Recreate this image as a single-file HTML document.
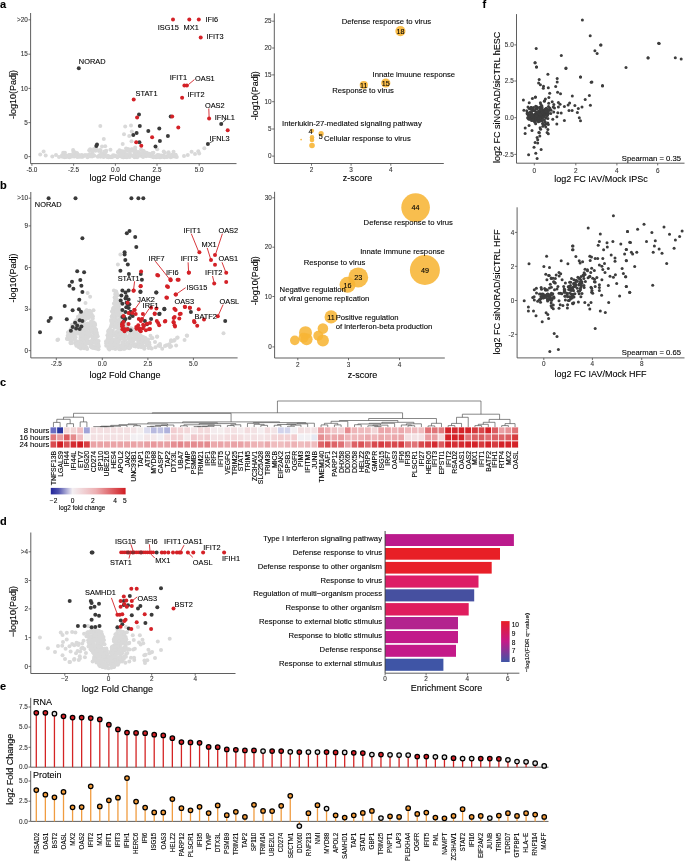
<!DOCTYPE html>
<html><head><meta charset="utf-8"><style>
html,body{margin:0;padding:0;background:#fff;overflow:hidden;width:685px;height:862px;}
svg{display:block;will-change:transform;filter:blur(0.35px);}
text{font-family:"Liberation Sans",sans-serif;}
</style></head><body>
<svg width="685" height="862" viewBox="0 0 685 862" font-family="Liberation Sans, sans-serif">
<rect width="685" height="862" fill="#fff"/>
<text x="0.00" y="8.44" font-size="11" text-anchor="start" fill="#000" stroke="#000" stroke-width="0.1" font-weight="bold">a</text>
<text x="0.00" y="189.44" font-size="11" text-anchor="start" fill="#000" stroke="#000" stroke-width="0.1" font-weight="bold">b</text>
<text x="0.00" y="385.94" font-size="11" text-anchor="start" fill="#000" stroke="#000" stroke-width="0.1" font-weight="bold">c</text>
<text x="0.00" y="525.44" font-size="11" text-anchor="start" fill="#000" stroke="#000" stroke-width="0.1" font-weight="bold">d</text>
<text x="0.00" y="690.44" font-size="11" text-anchor="start" fill="#000" stroke="#000" stroke-width="0.1" font-weight="bold">e</text>
<text x="482.50" y="7.94" font-size="11" text-anchor="start" fill="#000" stroke="#000" stroke-width="0.1" font-weight="bold">f</text>
<circle cx="40.20" cy="154.50" r="2.0" fill="#d9d9d9"/>
<circle cx="43.60" cy="151.50" r="2.0" fill="#d9d9d9"/>
<circle cx="45.70" cy="155.40" r="2.0" fill="#d9d9d9"/>
<circle cx="52.30" cy="156.60" r="2.0" fill="#d9d9d9"/>
<circle cx="56.00" cy="155.00" r="2.0" fill="#d9d9d9"/>
<circle cx="59.00" cy="157.00" r="2.0" fill="#d9d9d9"/>
<circle cx="73.10" cy="150.00" r="2.0" fill="#d9d9d9"/>
<circle cx="100.30" cy="125.90" r="2.0" fill="#d9d9d9"/>
<circle cx="125.20" cy="126.40" r="2.0" fill="#d9d9d9"/>
<circle cx="131.00" cy="125.50" r="2.0" fill="#d9d9d9"/>
<circle cx="131.80" cy="131.60" r="2.0" fill="#d9d9d9"/>
<circle cx="124.00" cy="134.30" r="2.0" fill="#d9d9d9"/>
<circle cx="129.20" cy="136.00" r="2.0" fill="#d9d9d9"/>
<circle cx="103.80" cy="139.00" r="2.0" fill="#d9d9d9"/>
<circle cx="122.70" cy="143.90" r="2.0" fill="#d9d9d9"/>
<circle cx="131.50" cy="141.30" r="2.0" fill="#d9d9d9"/>
<circle cx="102.00" cy="146.50" r="2.0" fill="#d9d9d9"/>
<circle cx="105.20" cy="146.20" r="2.0" fill="#d9d9d9"/>
<circle cx="157.20" cy="149.20" r="2.0" fill="#d9d9d9"/>
<circle cx="187.80" cy="155.00" r="2.0" fill="#d9d9d9"/>
<circle cx="191.60" cy="151.70" r="2.0" fill="#d9d9d9"/>
<circle cx="198.30" cy="151.20" r="2.0" fill="#d9d9d9"/>
<circle cx="199.20" cy="153.60" r="2.0" fill="#d9d9d9"/>
<circle cx="204.30" cy="148.30" r="2.0" fill="#d9d9d9"/>
<circle cx="195.00" cy="154.00" r="2.0" fill="#d9d9d9"/>
<circle cx="184.00" cy="156.00" r="2.0" fill="#d9d9d9"/>
<circle cx="99.56" cy="155.18" r="2.0" fill="#d9d9d9"/>
<circle cx="137.51" cy="154.98" r="2.0" fill="#d9d9d9"/>
<circle cx="124.16" cy="155.71" r="2.0" fill="#d9d9d9"/>
<circle cx="68.73" cy="156.07" r="2.0" fill="#d9d9d9"/>
<circle cx="66.35" cy="155.88" r="2.0" fill="#d9d9d9"/>
<circle cx="70.10" cy="155.03" r="2.0" fill="#d9d9d9"/>
<circle cx="111.24" cy="156.87" r="2.0" fill="#d9d9d9"/>
<circle cx="76.36" cy="155.36" r="2.0" fill="#d9d9d9"/>
<circle cx="134.78" cy="157.17" r="2.0" fill="#d9d9d9"/>
<circle cx="128.94" cy="155.79" r="2.0" fill="#d9d9d9"/>
<circle cx="175.25" cy="154.92" r="2.0" fill="#d9d9d9"/>
<circle cx="161.58" cy="155.52" r="2.0" fill="#d9d9d9"/>
<circle cx="78.73" cy="155.09" r="2.0" fill="#d9d9d9"/>
<circle cx="97.78" cy="156.84" r="2.0" fill="#d9d9d9"/>
<circle cx="82.96" cy="156.25" r="2.0" fill="#d9d9d9"/>
<circle cx="136.11" cy="155.73" r="2.0" fill="#d9d9d9"/>
<circle cx="125.54" cy="154.96" r="2.0" fill="#d9d9d9"/>
<circle cx="68.91" cy="155.31" r="2.0" fill="#d9d9d9"/>
<circle cx="140.93" cy="155.87" r="2.0" fill="#d9d9d9"/>
<circle cx="98.44" cy="156.26" r="2.0" fill="#d9d9d9"/>
<circle cx="114.57" cy="155.55" r="2.0" fill="#d9d9d9"/>
<circle cx="154.15" cy="156.55" r="2.0" fill="#d9d9d9"/>
<circle cx="90.32" cy="156.24" r="2.0" fill="#d9d9d9"/>
<circle cx="122.92" cy="156.99" r="2.0" fill="#d9d9d9"/>
<circle cx="146.62" cy="155.52" r="2.0" fill="#d9d9d9"/>
<circle cx="175.70" cy="155.10" r="2.0" fill="#d9d9d9"/>
<circle cx="110.50" cy="156.69" r="2.0" fill="#d9d9d9"/>
<circle cx="79.63" cy="156.02" r="2.0" fill="#d9d9d9"/>
<circle cx="66.55" cy="156.47" r="2.0" fill="#d9d9d9"/>
<circle cx="150.69" cy="156.23" r="2.0" fill="#d9d9d9"/>
<circle cx="163.56" cy="155.58" r="2.0" fill="#d9d9d9"/>
<circle cx="142.65" cy="156.29" r="2.0" fill="#d9d9d9"/>
<circle cx="129.27" cy="155.94" r="2.0" fill="#d9d9d9"/>
<circle cx="159.44" cy="157.16" r="2.0" fill="#d9d9d9"/>
<circle cx="117.00" cy="156.46" r="2.0" fill="#d9d9d9"/>
<circle cx="69.04" cy="156.55" r="2.0" fill="#d9d9d9"/>
<circle cx="137.07" cy="157.28" r="2.0" fill="#d9d9d9"/>
<circle cx="157.34" cy="155.51" r="2.0" fill="#d9d9d9"/>
<circle cx="106.75" cy="156.47" r="2.0" fill="#d9d9d9"/>
<circle cx="64.62" cy="155.95" r="2.0" fill="#d9d9d9"/>
<circle cx="81.49" cy="155.09" r="2.0" fill="#d9d9d9"/>
<circle cx="68.84" cy="156.72" r="2.0" fill="#d9d9d9"/>
<circle cx="77.00" cy="155.42" r="2.0" fill="#d9d9d9"/>
<circle cx="107.35" cy="156.98" r="2.0" fill="#d9d9d9"/>
<circle cx="71.35" cy="155.92" r="2.0" fill="#d9d9d9"/>
<circle cx="125.74" cy="157.01" r="2.0" fill="#d9d9d9"/>
<circle cx="157.04" cy="156.96" r="2.0" fill="#d9d9d9"/>
<circle cx="94.30" cy="155.84" r="2.0" fill="#d9d9d9"/>
<circle cx="103.62" cy="157.01" r="2.0" fill="#d9d9d9"/>
<circle cx="173.10" cy="155.18" r="2.0" fill="#d9d9d9"/>
<circle cx="82.44" cy="155.38" r="2.0" fill="#d9d9d9"/>
<circle cx="89.07" cy="156.01" r="2.0" fill="#d9d9d9"/>
<circle cx="130.34" cy="155.46" r="2.0" fill="#d9d9d9"/>
<circle cx="62.47" cy="155.85" r="2.0" fill="#d9d9d9"/>
<circle cx="104.83" cy="156.22" r="2.0" fill="#d9d9d9"/>
<circle cx="172.56" cy="156.53" r="2.0" fill="#d9d9d9"/>
<circle cx="121.80" cy="156.34" r="2.0" fill="#d9d9d9"/>
<circle cx="140.44" cy="154.93" r="2.0" fill="#d9d9d9"/>
<circle cx="166.35" cy="156.75" r="2.0" fill="#d9d9d9"/>
<circle cx="163.44" cy="156.79" r="2.0" fill="#d9d9d9"/>
<circle cx="107.52" cy="155.80" r="2.0" fill="#d9d9d9"/>
<circle cx="74.01" cy="156.39" r="2.0" fill="#d9d9d9"/>
<circle cx="69.22" cy="154.97" r="2.0" fill="#d9d9d9"/>
<circle cx="86.22" cy="155.21" r="2.0" fill="#d9d9d9"/>
<circle cx="101.45" cy="154.93" r="2.0" fill="#d9d9d9"/>
<circle cx="62.03" cy="155.18" r="2.0" fill="#d9d9d9"/>
<circle cx="73.77" cy="155.71" r="2.0" fill="#d9d9d9"/>
<circle cx="64.96" cy="156.99" r="2.0" fill="#d9d9d9"/>
<circle cx="133.23" cy="155.17" r="2.0" fill="#d9d9d9"/>
<circle cx="91.26" cy="155.67" r="2.0" fill="#d9d9d9"/>
<circle cx="104.24" cy="155.11" r="2.0" fill="#d9d9d9"/>
<circle cx="160.48" cy="157.28" r="2.0" fill="#d9d9d9"/>
<circle cx="116.05" cy="156.01" r="2.0" fill="#d9d9d9"/>
<circle cx="71.96" cy="155.06" r="2.0" fill="#d9d9d9"/>
<circle cx="101.75" cy="155.46" r="2.0" fill="#d9d9d9"/>
<circle cx="158.15" cy="155.20" r="2.0" fill="#d9d9d9"/>
<circle cx="64.68" cy="157.18" r="2.0" fill="#d9d9d9"/>
<circle cx="123.28" cy="155.17" r="2.0" fill="#d9d9d9"/>
<circle cx="125.01" cy="154.87" r="2.0" fill="#d9d9d9"/>
<circle cx="123.26" cy="157.25" r="2.0" fill="#d9d9d9"/>
<circle cx="162.15" cy="156.54" r="2.0" fill="#d9d9d9"/>
<circle cx="92.29" cy="155.72" r="2.0" fill="#d9d9d9"/>
<circle cx="81.38" cy="156.73" r="2.0" fill="#d9d9d9"/>
<circle cx="123.78" cy="156.75" r="2.0" fill="#d9d9d9"/>
<circle cx="100.24" cy="155.36" r="2.0" fill="#d9d9d9"/>
<circle cx="156.14" cy="157.26" r="2.0" fill="#d9d9d9"/>
<circle cx="160.90" cy="156.82" r="2.0" fill="#d9d9d9"/>
<circle cx="156.93" cy="156.65" r="2.0" fill="#d9d9d9"/>
<circle cx="88.30" cy="156.09" r="2.0" fill="#d9d9d9"/>
<circle cx="103.25" cy="154.87" r="2.0" fill="#d9d9d9"/>
<circle cx="65.24" cy="155.50" r="2.0" fill="#d9d9d9"/>
<circle cx="92.06" cy="156.53" r="2.0" fill="#d9d9d9"/>
<circle cx="172.96" cy="155.92" r="2.0" fill="#d9d9d9"/>
<circle cx="170.69" cy="157.27" r="2.0" fill="#d9d9d9"/>
<circle cx="172.78" cy="155.71" r="2.0" fill="#d9d9d9"/>
<circle cx="87.57" cy="155.37" r="2.0" fill="#d9d9d9"/>
<circle cx="84.82" cy="155.31" r="2.0" fill="#d9d9d9"/>
<circle cx="134.39" cy="157.05" r="2.0" fill="#d9d9d9"/>
<circle cx="159.49" cy="156.00" r="2.0" fill="#d9d9d9"/>
<circle cx="137.75" cy="156.80" r="2.0" fill="#d9d9d9"/>
<circle cx="71.83" cy="156.45" r="2.0" fill="#d9d9d9"/>
<circle cx="167.53" cy="156.76" r="2.0" fill="#d9d9d9"/>
<circle cx="149.02" cy="156.00" r="2.0" fill="#d9d9d9"/>
<circle cx="82.71" cy="156.77" r="2.0" fill="#d9d9d9"/>
<circle cx="100.57" cy="156.80" r="2.0" fill="#d9d9d9"/>
<circle cx="174.71" cy="155.79" r="2.0" fill="#d9d9d9"/>
<circle cx="108.56" cy="157.17" r="2.0" fill="#d9d9d9"/>
<circle cx="146.08" cy="155.23" r="2.0" fill="#d9d9d9"/>
<circle cx="76.74" cy="155.18" r="2.0" fill="#d9d9d9"/>
<circle cx="166.96" cy="156.82" r="2.0" fill="#d9d9d9"/>
<circle cx="78.96" cy="156.87" r="2.0" fill="#d9d9d9"/>
<circle cx="175.72" cy="156.44" r="2.0" fill="#d9d9d9"/>
<circle cx="102.65" cy="156.17" r="2.0" fill="#d9d9d9"/>
<circle cx="77.19" cy="154.84" r="2.0" fill="#d9d9d9"/>
<circle cx="174.62" cy="156.42" r="2.0" fill="#d9d9d9"/>
<circle cx="123.08" cy="157.13" r="2.0" fill="#d9d9d9"/>
<circle cx="112.32" cy="156.98" r="2.0" fill="#d9d9d9"/>
<circle cx="157.83" cy="155.33" r="2.0" fill="#d9d9d9"/>
<circle cx="91.21" cy="155.53" r="2.0" fill="#d9d9d9"/>
<circle cx="89.90" cy="156.27" r="2.0" fill="#d9d9d9"/>
<circle cx="92.09" cy="155.85" r="2.0" fill="#d9d9d9"/>
<circle cx="77.20" cy="157.08" r="2.0" fill="#d9d9d9"/>
<circle cx="103.04" cy="155.95" r="2.0" fill="#d9d9d9"/>
<circle cx="129.67" cy="157.06" r="2.0" fill="#d9d9d9"/>
<circle cx="110.79" cy="157.09" r="2.0" fill="#d9d9d9"/>
<circle cx="120.19" cy="156.13" r="2.0" fill="#d9d9d9"/>
<circle cx="122.73" cy="154.85" r="2.0" fill="#d9d9d9"/>
<circle cx="113.05" cy="155.26" r="2.0" fill="#d9d9d9"/>
<circle cx="62.46" cy="156.80" r="2.0" fill="#d9d9d9"/>
<circle cx="81.99" cy="155.98" r="2.0" fill="#d9d9d9"/>
<circle cx="146.12" cy="156.19" r="2.0" fill="#d9d9d9"/>
<circle cx="99.81" cy="156.10" r="2.0" fill="#d9d9d9"/>
<circle cx="126.43" cy="156.76" r="2.0" fill="#d9d9d9"/>
<circle cx="74.31" cy="156.20" r="2.0" fill="#d9d9d9"/>
<circle cx="90.83" cy="155.49" r="2.0" fill="#d9d9d9"/>
<circle cx="151.58" cy="156.07" r="2.0" fill="#d9d9d9"/>
<circle cx="127.16" cy="156.70" r="2.0" fill="#d9d9d9"/>
<circle cx="167.85" cy="155.91" r="2.0" fill="#d9d9d9"/>
<circle cx="133.05" cy="156.06" r="2.0" fill="#d9d9d9"/>
<circle cx="121.41" cy="156.53" r="2.0" fill="#d9d9d9"/>
<circle cx="114.47" cy="156.13" r="2.0" fill="#d9d9d9"/>
<circle cx="117.45" cy="157.15" r="2.0" fill="#d9d9d9"/>
<circle cx="143.11" cy="156.99" r="2.0" fill="#d9d9d9"/>
<circle cx="171.29" cy="155.45" r="2.0" fill="#d9d9d9"/>
<circle cx="126.90" cy="157.16" r="2.0" fill="#d9d9d9"/>
<circle cx="159.44" cy="155.14" r="2.0" fill="#d9d9d9"/>
<circle cx="76.11" cy="155.91" r="2.0" fill="#d9d9d9"/>
<circle cx="70.42" cy="155.40" r="2.0" fill="#d9d9d9"/>
<circle cx="70.48" cy="156.47" r="2.0" fill="#d9d9d9"/>
<circle cx="152.94" cy="157.04" r="2.0" fill="#d9d9d9"/>
<circle cx="79.92" cy="156.59" r="2.0" fill="#d9d9d9"/>
<circle cx="138.59" cy="155.16" r="2.0" fill="#d9d9d9"/>
<circle cx="164.41" cy="157.22" r="2.0" fill="#d9d9d9"/>
<circle cx="87.47" cy="157.18" r="2.0" fill="#d9d9d9"/>
<circle cx="108.20" cy="156.02" r="2.0" fill="#d9d9d9"/>
<circle cx="176.83" cy="156.88" r="2.0" fill="#d9d9d9"/>
<circle cx="80.73" cy="155.88" r="2.0" fill="#d9d9d9"/>
<circle cx="121.81" cy="155.65" r="2.0" fill="#d9d9d9"/>
<circle cx="84.71" cy="155.60" r="2.0" fill="#d9d9d9"/>
<circle cx="145.77" cy="154.85" r="2.0" fill="#d9d9d9"/>
<circle cx="126.27" cy="155.90" r="2.0" fill="#d9d9d9"/>
<circle cx="64.10" cy="155.63" r="2.0" fill="#d9d9d9"/>
<circle cx="134.38" cy="156.08" r="2.0" fill="#d9d9d9"/>
<circle cx="69.46" cy="157.26" r="2.0" fill="#d9d9d9"/>
<circle cx="153.45" cy="157.23" r="2.0" fill="#d9d9d9"/>
<circle cx="74.15" cy="155.46" r="2.0" fill="#d9d9d9"/>
<circle cx="66.59" cy="156.75" r="2.0" fill="#d9d9d9"/>
<circle cx="93.37" cy="155.12" r="2.0" fill="#d9d9d9"/>
<circle cx="110.98" cy="157.08" r="2.0" fill="#d9d9d9"/>
<circle cx="157.00" cy="155.45" r="2.0" fill="#d9d9d9"/>
<circle cx="91.58" cy="154.52" r="2.0" fill="#d9d9d9"/>
<circle cx="101.69" cy="153.20" r="2.0" fill="#d9d9d9"/>
<circle cx="90.15" cy="149.35" r="2.0" fill="#d9d9d9"/>
<circle cx="104.52" cy="151.55" r="2.0" fill="#d9d9d9"/>
<circle cx="89.74" cy="154.63" r="2.0" fill="#d9d9d9"/>
<circle cx="103.23" cy="153.81" r="2.0" fill="#d9d9d9"/>
<circle cx="90.01" cy="154.14" r="2.0" fill="#d9d9d9"/>
<circle cx="89.60" cy="154.18" r="2.0" fill="#d9d9d9"/>
<circle cx="98.89" cy="151.03" r="2.0" fill="#d9d9d9"/>
<circle cx="101.27" cy="154.56" r="2.0" fill="#d9d9d9"/>
<circle cx="94.43" cy="149.78" r="2.0" fill="#d9d9d9"/>
<circle cx="100.65" cy="150.43" r="2.0" fill="#d9d9d9"/>
<circle cx="90.63" cy="149.97" r="2.0" fill="#d9d9d9"/>
<circle cx="89.21" cy="150.21" r="2.0" fill="#d9d9d9"/>
<circle cx="95.49" cy="150.83" r="2.0" fill="#d9d9d9"/>
<circle cx="106.23" cy="150.74" r="2.0" fill="#d9d9d9"/>
<circle cx="100.00" cy="150.07" r="2.0" fill="#d9d9d9"/>
<circle cx="96.33" cy="149.11" r="2.0" fill="#d9d9d9"/>
<circle cx="94.01" cy="149.09" r="2.0" fill="#d9d9d9"/>
<circle cx="105.59" cy="152.31" r="2.0" fill="#d9d9d9"/>
<circle cx="92.55" cy="151.85" r="2.0" fill="#d9d9d9"/>
<circle cx="110.43" cy="149.64" r="2.0" fill="#d9d9d9"/>
<circle cx="146.66" cy="152.67" r="2.0" fill="#d9d9d9"/>
<circle cx="135.33" cy="153.76" r="2.0" fill="#d9d9d9"/>
<circle cx="131.76" cy="150.84" r="2.0" fill="#d9d9d9"/>
<circle cx="142.07" cy="154.90" r="2.0" fill="#d9d9d9"/>
<circle cx="129.99" cy="153.68" r="2.0" fill="#d9d9d9"/>
<circle cx="142.74" cy="153.08" r="2.0" fill="#d9d9d9"/>
<circle cx="132.16" cy="149.49" r="2.0" fill="#d9d9d9"/>
<circle cx="119.90" cy="150.76" r="2.0" fill="#d9d9d9"/>
<circle cx="120.48" cy="153.69" r="2.0" fill="#d9d9d9"/>
<circle cx="126.95" cy="149.16" r="2.0" fill="#d9d9d9"/>
<circle cx="120.96" cy="154.18" r="2.0" fill="#d9d9d9"/>
<circle cx="148.47" cy="153.83" r="2.0" fill="#d9d9d9"/>
<circle cx="127.87" cy="149.50" r="2.0" fill="#d9d9d9"/>
<circle cx="128.26" cy="151.01" r="2.0" fill="#d9d9d9"/>
<circle cx="123.51" cy="151.70" r="2.0" fill="#d9d9d9"/>
<circle cx="127.21" cy="154.73" r="2.0" fill="#d9d9d9"/>
<circle cx="152.04" cy="153.87" r="2.0" fill="#d9d9d9"/>
<circle cx="126.56" cy="154.76" r="2.0" fill="#d9d9d9"/>
<circle cx="128.83" cy="150.14" r="2.0" fill="#d9d9d9"/>
<circle cx="118.04" cy="152.33" r="2.0" fill="#d9d9d9"/>
<circle cx="134.61" cy="151.16" r="2.0" fill="#d9d9d9"/>
<circle cx="125.03" cy="151.83" r="2.0" fill="#d9d9d9"/>
<circle cx="118.17" cy="151.80" r="2.0" fill="#d9d9d9"/>
<circle cx="121.14" cy="151.85" r="2.0" fill="#d9d9d9"/>
<circle cx="119.46" cy="150.37" r="2.0" fill="#d9d9d9"/>
<circle cx="128.65" cy="149.25" r="2.0" fill="#d9d9d9"/>
<circle cx="138.50" cy="151.92" r="2.0" fill="#d9d9d9"/>
<circle cx="144.27" cy="153.35" r="2.0" fill="#d9d9d9"/>
<circle cx="143.06" cy="154.37" r="2.0" fill="#d9d9d9"/>
<circle cx="131.63" cy="149.35" r="2.0" fill="#d9d9d9"/>
<circle cx="152.47" cy="152.99" r="2.0" fill="#d9d9d9"/>
<circle cx="143.35" cy="153.18" r="2.0" fill="#d9d9d9"/>
<circle cx="119.53" cy="154.22" r="2.0" fill="#d9d9d9"/>
<circle cx="149.22" cy="153.76" r="2.0" fill="#d9d9d9"/>
<circle cx="143.68" cy="154.06" r="2.0" fill="#d9d9d9"/>
<circle cx="122.88" cy="152.26" r="2.0" fill="#d9d9d9"/>
<circle cx="135.65" cy="153.78" r="2.0" fill="#d9d9d9"/>
<circle cx="146.16" cy="154.26" r="2.0" fill="#d9d9d9"/>
<circle cx="138.44" cy="154.30" r="2.0" fill="#d9d9d9"/>
<circle cx="141.90" cy="153.30" r="2.0" fill="#d9d9d9"/>
<circle cx="126.05" cy="148.49" r="2.0" fill="#d9d9d9"/>
<circle cx="122.66" cy="151.36" r="2.0" fill="#d9d9d9"/>
<circle cx="121.67" cy="154.11" r="2.0" fill="#d9d9d9"/>
<circle cx="137.55" cy="152.46" r="2.0" fill="#d9d9d9"/>
<circle cx="139.92" cy="153.04" r="2.0" fill="#d9d9d9"/>
<circle cx="135.13" cy="147.46" r="2.0" fill="#d9d9d9"/>
<circle cx="145.92" cy="153.91" r="2.0" fill="#d9d9d9"/>
<circle cx="135.60" cy="151.55" r="2.0" fill="#d9d9d9"/>
<circle cx="141.08" cy="149.60" r="2.0" fill="#d9d9d9"/>
<circle cx="143.79" cy="151.29" r="2.0" fill="#d9d9d9"/>
<circle cx="120.61" cy="151.27" r="2.0" fill="#d9d9d9"/>
<circle cx="143.53" cy="150.99" r="2.0" fill="#d9d9d9"/>
<circle cx="143.89" cy="154.88" r="2.0" fill="#d9d9d9"/>
<circle cx="135.29" cy="150.36" r="2.0" fill="#d9d9d9"/>
<circle cx="134.77" cy="152.57" r="2.0" fill="#d9d9d9"/>
<circle cx="77.34" cy="153.85" r="2.0" fill="#d9d9d9"/>
<circle cx="74.86" cy="152.23" r="2.0" fill="#d9d9d9"/>
<circle cx="64.95" cy="152.76" r="2.0" fill="#d9d9d9"/>
<circle cx="76.86" cy="152.91" r="2.0" fill="#d9d9d9"/>
<circle cx="73.36" cy="152.04" r="2.0" fill="#d9d9d9"/>
<circle cx="63.21" cy="152.81" r="2.0" fill="#d9d9d9"/>
<circle cx="168.46" cy="153.77" r="2.0" fill="#d9d9d9"/>
<circle cx="168.54" cy="152.16" r="2.0" fill="#d9d9d9"/>
<circle cx="164.88" cy="152.86" r="2.0" fill="#d9d9d9"/>
<circle cx="163.73" cy="151.47" r="2.0" fill="#d9d9d9"/>
<circle cx="173.55" cy="151.80" r="2.0" fill="#d9d9d9"/>
<circle cx="175.50" cy="154.75" r="2.0" fill="#d9d9d9"/>
<circle cx="153.40" cy="152.84" r="2.0" fill="#d9d9d9"/>
<circle cx="171.86" cy="154.87" r="2.0" fill="#d9d9d9"/>
<circle cx="139.00" cy="114.50" r="2.0" fill="#3a3a3a"/>
<circle cx="170.70" cy="116.40" r="2.0" fill="#3a3a3a"/>
<circle cx="139.80" cy="125.90" r="2.0" fill="#3a3a3a"/>
<circle cx="159.30" cy="128.40" r="2.0" fill="#3a3a3a"/>
<circle cx="148.30" cy="130.90" r="2.0" fill="#3a3a3a"/>
<circle cx="136.60" cy="133.10" r="2.0" fill="#3a3a3a"/>
<circle cx="133.30" cy="135.00" r="2.0" fill="#3a3a3a"/>
<circle cx="167.90" cy="136.00" r="2.0" fill="#3a3a3a"/>
<circle cx="159.90" cy="141.10" r="2.0" fill="#3a3a3a"/>
<circle cx="139.40" cy="142.20" r="2.0" fill="#3a3a3a"/>
<circle cx="155.50" cy="146.40" r="2.0" fill="#3a3a3a"/>
<circle cx="221.20" cy="124.00" r="2.0" fill="#3a3a3a"/>
<circle cx="207.90" cy="144.10" r="2.0" fill="#3a3a3a"/>
<circle cx="96.30" cy="146.00" r="2.0" fill="#3a3a3a"/>
<circle cx="97.00" cy="144.50" r="2.0" fill="#3a3a3a"/>
<circle cx="78.80" cy="68.30" r="2.0" fill="#3a3a3a"/>
<circle cx="137.10" cy="117.40" r="2.0" fill="#d42127"/>
<circle cx="172.20" cy="116.40" r="2.0" fill="#d42127"/>
<circle cx="178.30" cy="127.40" r="2.0" fill="#d42127"/>
<circle cx="152.10" cy="137.30" r="2.0" fill="#d42127"/>
<circle cx="136.20" cy="142.20" r="2.0" fill="#d42127"/>
<circle cx="141.30" cy="145.70" r="2.0" fill="#d42127"/>
<circle cx="227.70" cy="130.30" r="2.0" fill="#d42127"/>
<circle cx="133.70" cy="99.40" r="2.0" fill="#d42127"/>
<circle cx="182.10" cy="97.80" r="2.0" fill="#d42127"/>
<circle cx="209.10" cy="118.50" r="2.0" fill="#d42127"/>
<circle cx="184.40" cy="85.40" r="2.0" fill="#d42127"/>
<circle cx="186.90" cy="85.40" r="2.0" fill="#d42127"/>
<circle cx="173.00" cy="19.50" r="2.0" fill="#d42127"/>
<circle cx="189.30" cy="19.50" r="2.0" fill="#d42127"/>
<circle cx="198.80" cy="19.50" r="2.0" fill="#d42127"/>
<circle cx="200.70" cy="37.60" r="2.0" fill="#d42127"/>
<line x1="188.50" y1="84.50" x2="194.50" y2="79.50" stroke="#d42127" stroke-width="0.9"/>
<line x1="208.80" y1="108.50" x2="209.10" y2="117.00" stroke="#d42127" stroke-width="0.9"/>
<line x1="222.50" y1="122.50" x2="227.00" y2="118.50" stroke="#3a3a3a" stroke-width="0.8"/>
<line x1="209.50" y1="143.00" x2="214.00" y2="140.50" stroke="#3a3a3a" stroke-width="0.8"/>
<text x="78.80" y="64.25" font-size="7.4" text-anchor="start" fill="#000" stroke="#000" stroke-width="0.1">NORAD</text>
<text x="157.80" y="29.55" font-size="7.4" text-anchor="start" fill="#000" stroke="#000" stroke-width="0.1">ISG15</text>
<text x="183.60" y="29.55" font-size="7.4" text-anchor="start" fill="#000" stroke="#000" stroke-width="0.1">MX1</text>
<text x="205.50" y="22.45" font-size="7.4" text-anchor="start" fill="#000" stroke="#000" stroke-width="0.1">IFI6</text>
<text x="206.40" y="38.95" font-size="7.4" text-anchor="start" fill="#000" stroke="#000" stroke-width="0.1">IFIT3</text>
<text x="169.80" y="80.35" font-size="7.4" text-anchor="start" fill="#000" stroke="#000" stroke-width="0.1">IFIT1</text>
<text x="195.00" y="81.15" font-size="7.4" text-anchor="start" fill="#000" stroke="#000" stroke-width="0.1">OAS1</text>
<text x="135.60" y="96.25" font-size="7.4" text-anchor="start" fill="#000" stroke="#000" stroke-width="0.1">STAT1</text>
<text x="187.40" y="97.15" font-size="7.4" text-anchor="start" fill="#000" stroke="#000" stroke-width="0.1">IFIT2</text>
<text x="204.90" y="107.65" font-size="7.4" text-anchor="start" fill="#000" stroke="#000" stroke-width="0.1">OAS2</text>
<text x="214.80" y="119.95" font-size="7.4" text-anchor="start" fill="#000" stroke="#000" stroke-width="0.1">IFNL1</text>
<text x="209.60" y="140.85" font-size="7.4" text-anchor="start" fill="#000" stroke="#000" stroke-width="0.1">IFNL3</text>
<line x1="30.60" y1="13.00" x2="30.60" y2="163.60" stroke="#4d4d4d" stroke-width="0.9"/>
<line x1="28.40" y1="156.60" x2="30.60" y2="156.60" stroke="#4d4d4d" stroke-width="0.8"/>
<text x="27.80" y="158.89" font-size="6.4" text-anchor="end" fill="#333" stroke="#333" stroke-width="0.1">0</text>
<line x1="28.40" y1="122.60" x2="30.60" y2="122.60" stroke="#4d4d4d" stroke-width="0.8"/>
<text x="27.80" y="124.89" font-size="6.4" text-anchor="end" fill="#333" stroke="#333" stroke-width="0.1">5</text>
<line x1="28.40" y1="88.40" x2="30.60" y2="88.40" stroke="#4d4d4d" stroke-width="0.8"/>
<text x="27.80" y="90.69" font-size="6.4" text-anchor="end" fill="#333" stroke="#333" stroke-width="0.1">10</text>
<line x1="28.40" y1="54.20" x2="30.60" y2="54.20" stroke="#4d4d4d" stroke-width="0.8"/>
<text x="27.80" y="56.49" font-size="6.4" text-anchor="end" fill="#333" stroke="#333" stroke-width="0.1">15</text>
<line x1="28.40" y1="19.80" x2="30.60" y2="19.80" stroke="#4d4d4d" stroke-width="0.8"/>
<text x="27.80" y="22.09" font-size="6.4" text-anchor="end" fill="#333" stroke="#333" stroke-width="0.1">&gt;20</text>
<line x1="30.60" y1="163.60" x2="236.50" y2="163.60" stroke="#4d4d4d" stroke-width="0.9"/>
<line x1="31.90" y1="163.60" x2="31.90" y2="165.80" stroke="#4d4d4d" stroke-width="0.8"/>
<text x="31.90" y="172.29" font-size="6.4" text-anchor="middle" fill="#333" stroke="#333" stroke-width="0.1">-5.0</text>
<line x1="73.60" y1="163.60" x2="73.60" y2="165.80" stroke="#4d4d4d" stroke-width="0.8"/>
<text x="73.60" y="172.29" font-size="6.4" text-anchor="middle" fill="#333" stroke="#333" stroke-width="0.1">-2.5</text>
<line x1="115.40" y1="163.60" x2="115.40" y2="165.80" stroke="#4d4d4d" stroke-width="0.8"/>
<text x="115.40" y="172.29" font-size="6.4" text-anchor="middle" fill="#333" stroke="#333" stroke-width="0.1">0.0</text>
<line x1="157.00" y1="163.60" x2="157.00" y2="165.80" stroke="#4d4d4d" stroke-width="0.8"/>
<text x="157.00" y="172.29" font-size="6.4" text-anchor="middle" fill="#333" stroke="#333" stroke-width="0.1">2.5</text>
<line x1="199.20" y1="163.60" x2="199.20" y2="165.80" stroke="#4d4d4d" stroke-width="0.8"/>
<text x="199.20" y="172.29" font-size="6.4" text-anchor="middle" fill="#333" stroke="#333" stroke-width="0.1">5.0</text>
<text x="125.00" y="181.22" font-size="9" text-anchor="middle" fill="#000" stroke="#000" stroke-width="0.1">log2 Fold Change</text>
<text x="16.32" y="94.60" font-size="9" text-anchor="middle" fill="#000" stroke="#000" stroke-width="0.1" transform="rotate(-90 16.32 94.60)">-log10(Padj)</text>
<line x1="274.30" y1="13.40" x2="274.30" y2="163.50" stroke="#4d4d4d" stroke-width="0.9"/>
<line x1="272.10" y1="156.10" x2="274.30" y2="156.10" stroke="#4d4d4d" stroke-width="0.8"/>
<text x="271.50" y="158.39" font-size="6.4" text-anchor="end" fill="#333" stroke="#333" stroke-width="0.1">0</text>
<line x1="272.10" y1="129.00" x2="274.30" y2="129.00" stroke="#4d4d4d" stroke-width="0.8"/>
<text x="271.50" y="131.29" font-size="6.4" text-anchor="end" fill="#333" stroke="#333" stroke-width="0.1">5</text>
<line x1="272.10" y1="101.70" x2="274.30" y2="101.70" stroke="#4d4d4d" stroke-width="0.8"/>
<text x="271.50" y="103.99" font-size="6.4" text-anchor="end" fill="#333" stroke="#333" stroke-width="0.1">10</text>
<line x1="272.10" y1="74.90" x2="274.30" y2="74.90" stroke="#4d4d4d" stroke-width="0.8"/>
<text x="271.50" y="77.19" font-size="6.4" text-anchor="end" fill="#333" stroke="#333" stroke-width="0.1">15</text>
<line x1="272.10" y1="48.00" x2="274.30" y2="48.00" stroke="#4d4d4d" stroke-width="0.8"/>
<text x="271.50" y="50.29" font-size="6.4" text-anchor="end" fill="#333" stroke="#333" stroke-width="0.1">20</text>
<line x1="272.10" y1="21.20" x2="274.30" y2="21.20" stroke="#4d4d4d" stroke-width="0.8"/>
<text x="271.50" y="23.49" font-size="6.4" text-anchor="end" fill="#333" stroke="#333" stroke-width="0.1">25</text>
<line x1="274.30" y1="163.50" x2="443.80" y2="163.50" stroke="#4d4d4d" stroke-width="0.9"/>
<line x1="311.50" y1="163.50" x2="311.50" y2="165.70" stroke="#4d4d4d" stroke-width="0.8"/>
<text x="311.50" y="171.89" font-size="6.4" text-anchor="middle" fill="#333" stroke="#333" stroke-width="0.1">2</text>
<line x1="351.10" y1="163.50" x2="351.10" y2="165.70" stroke="#4d4d4d" stroke-width="0.8"/>
<text x="351.10" y="171.89" font-size="6.4" text-anchor="middle" fill="#333" stroke="#333" stroke-width="0.1">3</text>
<line x1="390.80" y1="163.50" x2="390.80" y2="165.70" stroke="#4d4d4d" stroke-width="0.8"/>
<text x="390.80" y="171.89" font-size="6.4" text-anchor="middle" fill="#333" stroke="#333" stroke-width="0.1">4</text>
<text x="357.50" y="181.22" font-size="9" text-anchor="middle" fill="#000" stroke="#000" stroke-width="0.1">z-score</text>
<text x="258.42" y="95.70" font-size="9" text-anchor="middle" fill="#000" stroke="#000" stroke-width="0.1" transform="rotate(-90 258.42 95.70)">-log10(Padj)</text>
<circle cx="301.10" cy="139.60" r="0.9" fill="#f7b535" fill-opacity="0.9"/>
<circle cx="312.10" cy="130.80" r="2.0" fill="#f7b535" fill-opacity="0.9"/>
<circle cx="312.00" cy="137.40" r="2.3" fill="#f7b535" fill-opacity="0.9"/>
<circle cx="312.00" cy="140.00" r="2.3" fill="#f7b535" fill-opacity="0.9"/>
<circle cx="312.00" cy="145.50" r="2.8" fill="#f7b535" fill-opacity="0.9"/>
<circle cx="321.10" cy="133.70" r="2.6" fill="#f7b535" fill-opacity="0.9"/>
<circle cx="363.80" cy="85.00" r="4.1" fill="#f7b535" fill-opacity="0.9"/>
<circle cx="385.80" cy="83.00" r="4.6" fill="#f7b535" fill-opacity="0.9"/>
<circle cx="400.40" cy="31.10" r="5.1" fill="#f7b535" fill-opacity="0.9"/>
<text x="400.40" y="33.88" font-size="7.2" text-anchor="middle" fill="#000" stroke="#000" stroke-width="0.1">18</text>
<text x="385.80" y="85.78" font-size="7.2" text-anchor="middle" fill="#000" stroke="#000" stroke-width="0.1">15</text>
<text x="363.80" y="87.78" font-size="7.2" text-anchor="middle" fill="#000" stroke="#000" stroke-width="0.1">11</text>
<text x="310.60" y="134.08" font-size="7.2" text-anchor="middle" fill="#000" stroke="#000" stroke-width="0.1">4</text>
<text x="320.80" y="138.58" font-size="7.2" text-anchor="middle" fill="#000" stroke="#000" stroke-width="0.1">5</text>
<text x="341.70" y="23.86" font-size="7.7" text-anchor="start" fill="#000" stroke="#000" stroke-width="0.1">Defense response to virus</text>
<text x="372.60" y="76.56" font-size="7.7" text-anchor="start" fill="#000" stroke="#000" stroke-width="0.1">Innate imuune response</text>
<text x="332.30" y="93.06" font-size="7.7" text-anchor="start" fill="#000" stroke="#000" stroke-width="0.1">Response to virus</text>
<text x="282.00" y="126.26" font-size="7.7" text-anchor="start" fill="#000" stroke="#000" stroke-width="0.1">Interlukin-27-mediated signaling pathway</text>
<text x="324.00" y="140.76" font-size="7.7" text-anchor="start" fill="#000" stroke="#000" stroke-width="0.1">Cellular response to virus</text>
<line x1="516.50" y1="14.10" x2="516.50" y2="163.20" stroke="#4d4d4d" stroke-width="0.9"/>
<line x1="514.30" y1="44.90" x2="516.50" y2="44.90" stroke="#4d4d4d" stroke-width="0.8"/>
<text x="513.70" y="47.19" font-size="6.4" text-anchor="end" fill="#333" stroke="#333" stroke-width="0.1">5.0</text>
<line x1="514.30" y1="81.00" x2="516.50" y2="81.00" stroke="#4d4d4d" stroke-width="0.8"/>
<text x="513.70" y="83.29" font-size="6.4" text-anchor="end" fill="#333" stroke="#333" stroke-width="0.1">2.5</text>
<line x1="514.30" y1="117.70" x2="516.50" y2="117.70" stroke="#4d4d4d" stroke-width="0.8"/>
<text x="513.70" y="119.99" font-size="6.4" text-anchor="end" fill="#333" stroke="#333" stroke-width="0.1">0.0</text>
<line x1="514.30" y1="154.40" x2="516.50" y2="154.40" stroke="#4d4d4d" stroke-width="0.8"/>
<text x="513.70" y="156.69" font-size="6.4" text-anchor="end" fill="#333" stroke="#333" stroke-width="0.1">-2.5</text>
<line x1="516.50" y1="163.20" x2="684.50" y2="163.20" stroke="#4d4d4d" stroke-width="0.9"/>
<line x1="534.30" y1="163.20" x2="534.30" y2="165.40" stroke="#4d4d4d" stroke-width="0.8"/>
<text x="534.30" y="173.29" font-size="6.4" text-anchor="middle" fill="#333" stroke="#333" stroke-width="0.1">0</text>
<line x1="575.80" y1="163.20" x2="575.80" y2="165.40" stroke="#4d4d4d" stroke-width="0.8"/>
<text x="575.80" y="173.29" font-size="6.4" text-anchor="middle" fill="#333" stroke="#333" stroke-width="0.1">2</text>
<line x1="616.90" y1="163.20" x2="616.90" y2="165.40" stroke="#4d4d4d" stroke-width="0.8"/>
<text x="616.90" y="173.29" font-size="6.4" text-anchor="middle" fill="#333" stroke="#333" stroke-width="0.1">4</text>
<line x1="657.70" y1="163.20" x2="657.70" y2="165.40" stroke="#4d4d4d" stroke-width="0.8"/>
<text x="657.70" y="173.29" font-size="6.4" text-anchor="middle" fill="#333" stroke="#333" stroke-width="0.1">6</text>
<text x="601.00" y="182.12" font-size="9" text-anchor="middle" fill="#000" stroke="#000" stroke-width="0.1">log2 FC IAV/Mock IPSc</text>
<text x="499.92" y="97.30" font-size="9" text-anchor="middle" fill="#000" stroke="#000" stroke-width="0.1" transform="rotate(-90 499.92 97.30)">log2 FC siNORAD/siCTRL hESC</text>
<text x="681.00" y="160.56" font-size="7.7" text-anchor="end" fill="#000" stroke="#000" stroke-width="0.1">Spearman = 0.35</text>
<circle cx="582.40" cy="20.10" r="1.5" fill="#3d3d3d"/>
<circle cx="590.20" cy="35.80" r="1.5" fill="#3d3d3d"/>
<circle cx="600.60" cy="44.90" r="1.5" fill="#3d3d3d"/>
<circle cx="594.90" cy="50.80" r="1.5" fill="#3d3d3d"/>
<circle cx="597.10" cy="53.40" r="1.5" fill="#3d3d3d"/>
<circle cx="658.60" cy="43.30" r="1.5" fill="#3d3d3d"/>
<circle cx="648.00" cy="57.80" r="1.5" fill="#3d3d3d"/>
<circle cx="675.30" cy="57.80" r="1.5" fill="#3d3d3d"/>
<circle cx="681.20" cy="59.00" r="1.5" fill="#3d3d3d"/>
<circle cx="626.00" cy="67.50" r="1.5" fill="#3d3d3d"/>
<circle cx="602.50" cy="85.40" r="1.5" fill="#3d3d3d"/>
<circle cx="591.20" cy="82.20" r="1.5" fill="#3d3d3d"/>
<circle cx="580.50" cy="76.90" r="1.5" fill="#3d3d3d"/>
<circle cx="561.30" cy="55.60" r="1.5" fill="#3d3d3d"/>
<circle cx="566.00" cy="68.10" r="1.5" fill="#3d3d3d"/>
<circle cx="536.20" cy="48.60" r="1.5" fill="#3d3d3d"/>
<circle cx="535.00" cy="62.80" r="1.5" fill="#3d3d3d"/>
<circle cx="536.50" cy="66.90" r="1.5" fill="#3d3d3d"/>
<circle cx="535.10" cy="62.70" r="1.5" fill="#3d3d3d"/>
<circle cx="536.50" cy="67.10" r="1.5" fill="#3d3d3d"/>
<circle cx="565.90" cy="68.40" r="1.5" fill="#3d3d3d"/>
<circle cx="547.90" cy="74.30" r="1.5" fill="#3d3d3d"/>
<circle cx="580.50" cy="77.10" r="1.5" fill="#3d3d3d"/>
<circle cx="539.20" cy="79.50" r="1.5" fill="#3d3d3d"/>
<circle cx="557.20" cy="78.60" r="1.5" fill="#3d3d3d"/>
<circle cx="557.20" cy="82.00" r="1.5" fill="#3d3d3d"/>
<circle cx="591.90" cy="82.10" r="1.5" fill="#3d3d3d"/>
<circle cx="538.60" cy="83.00" r="1.5" fill="#3d3d3d"/>
<circle cx="540.40" cy="84.80" r="1.5" fill="#3d3d3d"/>
<circle cx="543.50" cy="86.30" r="1.5" fill="#3d3d3d"/>
<circle cx="543.30" cy="88.30" r="1.5" fill="#3d3d3d"/>
<circle cx="548.30" cy="87.80" r="1.5" fill="#3d3d3d"/>
<circle cx="555.70" cy="86.40" r="1.5" fill="#3d3d3d"/>
<circle cx="549.70" cy="93.30" r="1.5" fill="#3d3d3d"/>
<circle cx="557.60" cy="92.30" r="1.5" fill="#3d3d3d"/>
<circle cx="572.30" cy="96.00" r="1.5" fill="#3d3d3d"/>
<circle cx="589.40" cy="95.50" r="1.5" fill="#3d3d3d"/>
<circle cx="535.50" cy="97.00" r="1.5" fill="#3d3d3d"/>
<circle cx="532.40" cy="98.60" r="1.5" fill="#3d3d3d"/>
<circle cx="523.40" cy="100.00" r="1.5" fill="#3d3d3d"/>
<circle cx="548.90" cy="97.50" r="1.5" fill="#3d3d3d"/>
<circle cx="545.40" cy="99.10" r="1.5" fill="#3d3d3d"/>
<circle cx="544.50" cy="100.70" r="1.5" fill="#3d3d3d"/>
<circle cx="585.20" cy="99.50" r="1.5" fill="#3d3d3d"/>
<circle cx="540.40" cy="102.80" r="1.5" fill="#3d3d3d"/>
<circle cx="548.70" cy="103.20" r="1.5" fill="#3d3d3d"/>
<circle cx="552.20" cy="101.80" r="1.5" fill="#3d3d3d"/>
<circle cx="558.40" cy="102.60" r="1.5" fill="#3d3d3d"/>
<circle cx="569.60" cy="103.00" r="1.5" fill="#3d3d3d"/>
<circle cx="568.10" cy="104.90" r="1.5" fill="#3d3d3d"/>
<circle cx="574.90" cy="105.50" r="1.5" fill="#3d3d3d"/>
<circle cx="564.40" cy="106.50" r="1.5" fill="#3d3d3d"/>
<circle cx="558.40" cy="107.10" r="1.5" fill="#3d3d3d"/>
<circle cx="554.50" cy="108.10" r="1.5" fill="#3d3d3d"/>
<circle cx="582.00" cy="106.90" r="1.5" fill="#3d3d3d"/>
<circle cx="590.40" cy="105.30" r="1.5" fill="#3d3d3d"/>
<circle cx="578.30" cy="108.40" r="1.5" fill="#3d3d3d"/>
<circle cx="528.00" cy="107.10" r="1.5" fill="#3d3d3d"/>
<circle cx="523.90" cy="110.20" r="1.5" fill="#3d3d3d"/>
<circle cx="569.00" cy="110.60" r="1.5" fill="#3d3d3d"/>
<circle cx="572.10" cy="110.60" r="1.5" fill="#3d3d3d"/>
<circle cx="557.80" cy="112.70" r="1.5" fill="#3d3d3d"/>
<circle cx="561.20" cy="113.00" r="1.5" fill="#3d3d3d"/>
<circle cx="553.70" cy="112.10" r="1.5" fill="#3d3d3d"/>
<circle cx="577.40" cy="112.60" r="1.5" fill="#3d3d3d"/>
<circle cx="551.00" cy="110.20" r="1.5" fill="#3d3d3d"/>
<circle cx="556.90" cy="116.70" r="1.5" fill="#3d3d3d"/>
<circle cx="579.30" cy="117.70" r="1.5" fill="#3d3d3d"/>
<circle cx="580.50" cy="120.80" r="1.5" fill="#3d3d3d"/>
<circle cx="552.80" cy="119.30" r="1.5" fill="#3d3d3d"/>
<circle cx="564.40" cy="120.40" r="1.5" fill="#3d3d3d"/>
<circle cx="556.80" cy="123.90" r="1.5" fill="#3d3d3d"/>
<circle cx="525.20" cy="128.00" r="1.5" fill="#3d3d3d"/>
<circle cx="532.00" cy="130.50" r="1.5" fill="#3d3d3d"/>
<circle cx="545.80" cy="123.90" r="1.5" fill="#3d3d3d"/>
<circle cx="548.30" cy="124.50" r="1.5" fill="#3d3d3d"/>
<circle cx="545.80" cy="127.00" r="1.5" fill="#3d3d3d"/>
<circle cx="547.90" cy="129.50" r="1.5" fill="#3d3d3d"/>
<circle cx="548.30" cy="133.80" r="1.5" fill="#3d3d3d"/>
<circle cx="538.80" cy="132.60" r="1.5" fill="#3d3d3d"/>
<circle cx="539.80" cy="135.90" r="1.5" fill="#3d3d3d"/>
<circle cx="537.10" cy="137.50" r="1.5" fill="#3d3d3d"/>
<circle cx="537.70" cy="139.70" r="1.5" fill="#3d3d3d"/>
<circle cx="535.10" cy="142.50" r="1.5" fill="#3d3d3d"/>
<circle cx="537.70" cy="142.90" r="1.5" fill="#3d3d3d"/>
<circle cx="534.00" cy="147.20" r="1.5" fill="#3d3d3d"/>
<circle cx="541.10" cy="149.60" r="1.5" fill="#3d3d3d"/>
<circle cx="535.80" cy="153.30" r="1.5" fill="#3d3d3d"/>
<circle cx="528.60" cy="154.70" r="1.5" fill="#3d3d3d"/>
<circle cx="537.10" cy="158.40" r="1.5" fill="#3d3d3d"/>
<circle cx="601.00" cy="45.00" r="1.5" fill="#3d3d3d"/>
<circle cx="659.20" cy="43.50" r="1.5" fill="#3d3d3d"/>
<circle cx="648.10" cy="57.90" r="1.5" fill="#3d3d3d"/>
<circle cx="602.50" cy="85.90" r="1.5" fill="#3d3d3d"/>
<circle cx="531.09" cy="115.01" r="1.5" fill="#3d3d3d"/>
<circle cx="539.91" cy="120.86" r="1.5" fill="#3d3d3d"/>
<circle cx="539.24" cy="119.35" r="1.5" fill="#3d3d3d"/>
<circle cx="542.46" cy="118.02" r="1.5" fill="#3d3d3d"/>
<circle cx="541.18" cy="113.00" r="1.5" fill="#3d3d3d"/>
<circle cx="540.65" cy="108.96" r="1.5" fill="#3d3d3d"/>
<circle cx="544.63" cy="109.70" r="1.5" fill="#3d3d3d"/>
<circle cx="538.33" cy="120.86" r="1.5" fill="#3d3d3d"/>
<circle cx="535.12" cy="113.90" r="1.5" fill="#3d3d3d"/>
<circle cx="545.41" cy="113.92" r="1.5" fill="#3d3d3d"/>
<circle cx="530.72" cy="115.05" r="1.5" fill="#3d3d3d"/>
<circle cx="541.46" cy="117.20" r="1.5" fill="#3d3d3d"/>
<circle cx="532.56" cy="120.09" r="1.5" fill="#3d3d3d"/>
<circle cx="547.40" cy="113.87" r="1.5" fill="#3d3d3d"/>
<circle cx="539.21" cy="111.60" r="1.5" fill="#3d3d3d"/>
<circle cx="546.07" cy="110.97" r="1.5" fill="#3d3d3d"/>
<circle cx="542.26" cy="111.46" r="1.5" fill="#3d3d3d"/>
<circle cx="531.77" cy="117.18" r="1.5" fill="#3d3d3d"/>
<circle cx="546.21" cy="113.76" r="1.5" fill="#3d3d3d"/>
<circle cx="531.97" cy="117.57" r="1.5" fill="#3d3d3d"/>
<circle cx="536.59" cy="115.43" r="1.5" fill="#3d3d3d"/>
<circle cx="545.80" cy="117.89" r="1.5" fill="#3d3d3d"/>
<circle cx="534.42" cy="120.87" r="1.5" fill="#3d3d3d"/>
<circle cx="537.03" cy="117.67" r="1.5" fill="#3d3d3d"/>
<circle cx="531.78" cy="113.58" r="1.5" fill="#3d3d3d"/>
<circle cx="528.79" cy="119.04" r="1.5" fill="#3d3d3d"/>
<circle cx="545.08" cy="109.31" r="1.5" fill="#3d3d3d"/>
<circle cx="529.20" cy="108.55" r="1.5" fill="#3d3d3d"/>
<circle cx="545.28" cy="111.78" r="1.5" fill="#3d3d3d"/>
<circle cx="536.49" cy="112.16" r="1.5" fill="#3d3d3d"/>
<circle cx="536.11" cy="108.79" r="1.5" fill="#3d3d3d"/>
<circle cx="537.16" cy="107.78" r="1.5" fill="#3d3d3d"/>
<circle cx="536.40" cy="115.42" r="1.5" fill="#3d3d3d"/>
<circle cx="540.84" cy="112.61" r="1.5" fill="#3d3d3d"/>
<circle cx="530.07" cy="114.56" r="1.5" fill="#3d3d3d"/>
<circle cx="533.95" cy="119.96" r="1.5" fill="#3d3d3d"/>
<circle cx="543.05" cy="113.23" r="1.5" fill="#3d3d3d"/>
<circle cx="533.33" cy="110.38" r="1.5" fill="#3d3d3d"/>
<circle cx="529.95" cy="112.14" r="1.5" fill="#3d3d3d"/>
<circle cx="539.39" cy="116.42" r="1.5" fill="#3d3d3d"/>
<circle cx="539.99" cy="120.69" r="1.5" fill="#3d3d3d"/>
<circle cx="531.37" cy="113.86" r="1.5" fill="#3d3d3d"/>
<circle cx="546.96" cy="109.64" r="1.5" fill="#3d3d3d"/>
<circle cx="532.74" cy="114.67" r="1.5" fill="#3d3d3d"/>
<circle cx="538.28" cy="115.91" r="1.5" fill="#3d3d3d"/>
<circle cx="535.02" cy="115.70" r="1.5" fill="#3d3d3d"/>
<circle cx="537.42" cy="117.60" r="1.5" fill="#3d3d3d"/>
<circle cx="526.76" cy="110.81" r="1.5" fill="#3d3d3d"/>
<circle cx="536.98" cy="108.98" r="1.5" fill="#3d3d3d"/>
<circle cx="529.55" cy="116.60" r="1.5" fill="#3d3d3d"/>
<circle cx="532.01" cy="116.85" r="1.5" fill="#3d3d3d"/>
<circle cx="542.85" cy="115.30" r="1.5" fill="#3d3d3d"/>
<circle cx="541.17" cy="113.26" r="1.5" fill="#3d3d3d"/>
<circle cx="527.48" cy="113.67" r="1.5" fill="#3d3d3d"/>
<circle cx="540.63" cy="111.15" r="1.5" fill="#3d3d3d"/>
<circle cx="536.21" cy="117.51" r="1.5" fill="#3d3d3d"/>
<circle cx="530.52" cy="116.75" r="1.5" fill="#3d3d3d"/>
<circle cx="547.60" cy="111.83" r="1.5" fill="#3d3d3d"/>
<circle cx="538.24" cy="113.01" r="1.5" fill="#3d3d3d"/>
<circle cx="546.90" cy="115.07" r="1.5" fill="#3d3d3d"/>
<circle cx="543.55" cy="110.66" r="1.5" fill="#3d3d3d"/>
<circle cx="536.86" cy="113.75" r="1.5" fill="#3d3d3d"/>
<circle cx="528.03" cy="118.35" r="1.5" fill="#3d3d3d"/>
<circle cx="542.08" cy="107.63" r="1.5" fill="#3d3d3d"/>
<circle cx="542.89" cy="113.15" r="1.5" fill="#3d3d3d"/>
<circle cx="540.65" cy="115.66" r="1.5" fill="#3d3d3d"/>
<circle cx="527.19" cy="112.93" r="1.5" fill="#3d3d3d"/>
<circle cx="546.51" cy="111.51" r="1.5" fill="#3d3d3d"/>
<circle cx="530.69" cy="108.56" r="1.5" fill="#3d3d3d"/>
<circle cx="528.41" cy="115.28" r="1.5" fill="#3d3d3d"/>
<circle cx="547.29" cy="115.43" r="1.5" fill="#3d3d3d"/>
<circle cx="538.26" cy="120.95" r="1.5" fill="#3d3d3d"/>
<circle cx="532.96" cy="110.53" r="1.5" fill="#3d3d3d"/>
<circle cx="541.18" cy="116.51" r="1.5" fill="#3d3d3d"/>
<circle cx="530.43" cy="109.06" r="1.5" fill="#3d3d3d"/>
<circle cx="539.43" cy="115.09" r="1.5" fill="#3d3d3d"/>
<circle cx="527.95" cy="112.92" r="1.5" fill="#3d3d3d"/>
<circle cx="532.67" cy="116.09" r="1.5" fill="#3d3d3d"/>
<circle cx="536.01" cy="113.34" r="1.5" fill="#3d3d3d"/>
<circle cx="534.41" cy="118.63" r="1.5" fill="#3d3d3d"/>
<circle cx="546.32" cy="112.26" r="1.5" fill="#3d3d3d"/>
<circle cx="543.16" cy="110.35" r="1.5" fill="#3d3d3d"/>
<circle cx="537.57" cy="117.51" r="1.5" fill="#3d3d3d"/>
<circle cx="546.77" cy="112.26" r="1.5" fill="#3d3d3d"/>
<circle cx="536.37" cy="114.84" r="1.5" fill="#3d3d3d"/>
<circle cx="527.15" cy="113.87" r="1.5" fill="#3d3d3d"/>
<circle cx="531.67" cy="115.63" r="1.5" fill="#3d3d3d"/>
<circle cx="531.27" cy="107.54" r="1.5" fill="#3d3d3d"/>
<circle cx="537.32" cy="115.17" r="1.5" fill="#3d3d3d"/>
<circle cx="532.91" cy="117.94" r="1.5" fill="#3d3d3d"/>
<circle cx="534.80" cy="110.76" r="1.5" fill="#3d3d3d"/>
<circle cx="540.01" cy="107.63" r="1.5" fill="#3d3d3d"/>
<circle cx="531.57" cy="113.70" r="1.5" fill="#3d3d3d"/>
<circle cx="543.58" cy="113.01" r="1.5" fill="#3d3d3d"/>
<circle cx="539.45" cy="110.54" r="1.5" fill="#3d3d3d"/>
<circle cx="538.87" cy="120.24" r="1.5" fill="#3d3d3d"/>
<circle cx="533.74" cy="120.83" r="1.5" fill="#3d3d3d"/>
<circle cx="531.81" cy="113.89" r="1.5" fill="#3d3d3d"/>
<circle cx="538.29" cy="118.58" r="1.5" fill="#3d3d3d"/>
<circle cx="531.07" cy="107.51" r="1.5" fill="#3d3d3d"/>
<circle cx="541.56" cy="117.54" r="1.5" fill="#3d3d3d"/>
<circle cx="539.73" cy="121.00" r="1.5" fill="#3d3d3d"/>
<circle cx="538.72" cy="115.13" r="1.5" fill="#3d3d3d"/>
<circle cx="543.99" cy="115.54" r="1.5" fill="#3d3d3d"/>
<circle cx="546.05" cy="109.59" r="1.5" fill="#3d3d3d"/>
<circle cx="535.70" cy="106.35" r="1.5" fill="#3d3d3d"/>
<circle cx="543.26" cy="112.01" r="1.5" fill="#3d3d3d"/>
<circle cx="541.58" cy="120.47" r="1.5" fill="#3d3d3d"/>
<circle cx="536.95" cy="112.46" r="1.5" fill="#3d3d3d"/>
<circle cx="533.22" cy="109.84" r="1.5" fill="#3d3d3d"/>
<circle cx="532.15" cy="116.88" r="1.5" fill="#3d3d3d"/>
<circle cx="537.31" cy="114.15" r="1.5" fill="#3d3d3d"/>
<circle cx="535.68" cy="118.17" r="1.5" fill="#3d3d3d"/>
<circle cx="541.06" cy="113.07" r="1.5" fill="#3d3d3d"/>
<circle cx="542.33" cy="113.04" r="1.5" fill="#3d3d3d"/>
<circle cx="530.25" cy="119.13" r="1.5" fill="#3d3d3d"/>
<circle cx="540.45" cy="109.36" r="1.5" fill="#3d3d3d"/>
<circle cx="544.86" cy="115.37" r="1.5" fill="#3d3d3d"/>
<circle cx="528.98" cy="118.96" r="1.5" fill="#3d3d3d"/>
<circle cx="539.54" cy="118.04" r="1.5" fill="#3d3d3d"/>
<circle cx="538.67" cy="113.01" r="1.5" fill="#3d3d3d"/>
<circle cx="527.84" cy="117.39" r="1.5" fill="#3d3d3d"/>
<circle cx="537.25" cy="112.30" r="1.5" fill="#3d3d3d"/>
<circle cx="539.93" cy="114.21" r="1.5" fill="#3d3d3d"/>
<circle cx="542.33" cy="111.97" r="1.5" fill="#3d3d3d"/>
<circle cx="536.81" cy="106.69" r="1.5" fill="#3d3d3d"/>
<circle cx="533.68" cy="117.12" r="1.5" fill="#3d3d3d"/>
<circle cx="546.09" cy="112.25" r="1.5" fill="#3d3d3d"/>
<circle cx="536.22" cy="120.13" r="1.5" fill="#3d3d3d"/>
<circle cx="534.44" cy="117.40" r="1.5" fill="#3d3d3d"/>
<circle cx="547.43" cy="113.95" r="1.5" fill="#3d3d3d"/>
<circle cx="545.27" cy="110.81" r="1.5" fill="#3d3d3d"/>
<circle cx="538.75" cy="113.39" r="1.5" fill="#3d3d3d"/>
<circle cx="537.84" cy="118.94" r="1.5" fill="#3d3d3d"/>
<circle cx="548.29" cy="111.84" r="1.5" fill="#3d3d3d"/>
<circle cx="532.45" cy="116.26" r="1.5" fill="#3d3d3d"/>
<circle cx="529.37" cy="116.05" r="1.5" fill="#3d3d3d"/>
<circle cx="541.62" cy="112.40" r="1.5" fill="#3d3d3d"/>
<circle cx="540.34" cy="107.70" r="1.5" fill="#3d3d3d"/>
<circle cx="541.66" cy="107.88" r="1.5" fill="#3d3d3d"/>
<circle cx="531.63" cy="111.12" r="1.5" fill="#3d3d3d"/>
<circle cx="533.95" cy="117.89" r="1.5" fill="#3d3d3d"/>
<circle cx="537.68" cy="111.73" r="1.5" fill="#3d3d3d"/>
<circle cx="540.38" cy="119.95" r="1.5" fill="#3d3d3d"/>
<circle cx="537.05" cy="115.71" r="1.5" fill="#3d3d3d"/>
<circle cx="545.72" cy="114.98" r="1.5" fill="#3d3d3d"/>
<circle cx="531.56" cy="120.40" r="1.5" fill="#3d3d3d"/>
<circle cx="545.87" cy="108.82" r="1.5" fill="#3d3d3d"/>
<circle cx="536.67" cy="115.97" r="1.5" fill="#3d3d3d"/>
<circle cx="543.96" cy="116.82" r="1.5" fill="#3d3d3d"/>
<circle cx="538.37" cy="118.73" r="1.5" fill="#3d3d3d"/>
<circle cx="540.62" cy="129.17" r="1.5" fill="#3d3d3d"/>
<circle cx="533.46" cy="118.86" r="1.5" fill="#3d3d3d"/>
<circle cx="539.85" cy="114.31" r="1.5" fill="#3d3d3d"/>
<circle cx="538.44" cy="121.82" r="1.5" fill="#3d3d3d"/>
<circle cx="542.70" cy="120.49" r="1.5" fill="#3d3d3d"/>
<circle cx="534.71" cy="122.03" r="1.5" fill="#3d3d3d"/>
<circle cx="539.70" cy="120.68" r="1.5" fill="#3d3d3d"/>
<circle cx="540.07" cy="127.75" r="1.5" fill="#3d3d3d"/>
<circle cx="547.11" cy="132.52" r="1.5" fill="#3d3d3d"/>
<circle cx="535.30" cy="121.90" r="1.5" fill="#3d3d3d"/>
<circle cx="525.10" cy="133.50" r="1.5" fill="#3d3d3d"/>
<circle cx="535.65" cy="123.83" r="1.5" fill="#3d3d3d"/>
<circle cx="543.14" cy="117.21" r="1.5" fill="#3d3d3d"/>
<circle cx="542.78" cy="123.87" r="1.5" fill="#3d3d3d"/>
<circle cx="529.04" cy="125.46" r="1.5" fill="#3d3d3d"/>
<circle cx="547.17" cy="114.66" r="1.5" fill="#3d3d3d"/>
<circle cx="544.84" cy="125.05" r="1.5" fill="#3d3d3d"/>
<circle cx="542.85" cy="126.21" r="1.5" fill="#3d3d3d"/>
<circle cx="547.82" cy="122.88" r="1.5" fill="#3d3d3d"/>
<circle cx="545.24" cy="121.95" r="1.5" fill="#3d3d3d"/>
<circle cx="544.37" cy="119.93" r="1.5" fill="#3d3d3d"/>
<circle cx="539.35" cy="132.66" r="1.5" fill="#3d3d3d"/>
<circle cx="542.67" cy="123.21" r="1.5" fill="#3d3d3d"/>
<circle cx="533.13" cy="120.05" r="1.5" fill="#3d3d3d"/>
<circle cx="547.31" cy="111.42" r="1.5" fill="#3d3d3d"/>
<circle cx="546.85" cy="109.45" r="1.5" fill="#3d3d3d"/>
<circle cx="547.53" cy="114.19" r="1.5" fill="#3d3d3d"/>
<circle cx="549.91" cy="109.44" r="1.5" fill="#3d3d3d"/>
<circle cx="546.07" cy="110.93" r="1.5" fill="#3d3d3d"/>
<circle cx="550.07" cy="109.22" r="1.5" fill="#3d3d3d"/>
<circle cx="547.87" cy="109.44" r="1.5" fill="#3d3d3d"/>
<circle cx="550.77" cy="113.58" r="1.5" fill="#3d3d3d"/>
<circle cx="546.38" cy="108.22" r="1.5" fill="#3d3d3d"/>
<circle cx="548.37" cy="113.60" r="1.5" fill="#3d3d3d"/>
<circle cx="549.84" cy="108.09" r="1.5" fill="#3d3d3d"/>
<circle cx="546.98" cy="115.34" r="1.5" fill="#3d3d3d"/>
<circle cx="548.46" cy="110.40" r="1.5" fill="#3d3d3d"/>
<circle cx="547.85" cy="118.44" r="1.5" fill="#3d3d3d"/>
<circle cx="541.54" cy="108.78" r="1.5" fill="#3d3d3d"/>
<circle cx="540.47" cy="107.25" r="1.5" fill="#3d3d3d"/>
<circle cx="560.53" cy="93.84" r="1.5" fill="#3d3d3d"/>
<circle cx="541.96" cy="106.00" r="1.5" fill="#3d3d3d"/>
<circle cx="544.35" cy="101.33" r="1.5" fill="#3d3d3d"/>
<circle cx="560.07" cy="104.32" r="1.5" fill="#3d3d3d"/>
<circle cx="533.49" cy="107.42" r="1.5" fill="#3d3d3d"/>
<circle cx="532.95" cy="108.60" r="1.5" fill="#3d3d3d"/>
<circle cx="540.96" cy="104.58" r="1.5" fill="#3d3d3d"/>
<circle cx="553.83" cy="104.47" r="1.5" fill="#3d3d3d"/>
<circle cx="535.26" cy="97.22" r="1.5" fill="#3d3d3d"/>
<circle cx="553.28" cy="106.96" r="1.5" fill="#3d3d3d"/>
<circle cx="539.29" cy="107.44" r="1.5" fill="#3d3d3d"/>
<circle cx="548.48" cy="106.59" r="1.5" fill="#3d3d3d"/>
<circle cx="529.19" cy="102.79" r="1.5" fill="#3d3d3d"/>
<line x1="517.10" y1="207.30" x2="517.10" y2="357.90" stroke="#4d4d4d" stroke-width="0.9"/>
<line x1="514.90" y1="232.40" x2="517.10" y2="232.40" stroke="#4d4d4d" stroke-width="0.8"/>
<text x="514.30" y="234.69" font-size="6.4" text-anchor="end" fill="#333" stroke="#333" stroke-width="0.1">4</text>
<line x1="514.90" y1="266.30" x2="517.10" y2="266.30" stroke="#4d4d4d" stroke-width="0.8"/>
<text x="514.30" y="268.59" font-size="6.4" text-anchor="end" fill="#333" stroke="#333" stroke-width="0.1">2</text>
<line x1="514.90" y1="300.50" x2="517.10" y2="300.50" stroke="#4d4d4d" stroke-width="0.8"/>
<text x="514.30" y="302.79" font-size="6.4" text-anchor="end" fill="#333" stroke="#333" stroke-width="0.1">0</text>
<line x1="514.90" y1="334.40" x2="517.10" y2="334.40" stroke="#4d4d4d" stroke-width="0.8"/>
<text x="514.30" y="336.69" font-size="6.4" text-anchor="end" fill="#333" stroke="#333" stroke-width="0.1">-2</text>
<line x1="517.10" y1="357.90" x2="684.50" y2="357.90" stroke="#4d4d4d" stroke-width="0.9"/>
<line x1="543.80" y1="357.90" x2="543.80" y2="360.10" stroke="#4d4d4d" stroke-width="0.8"/>
<text x="543.80" y="365.89" font-size="6.4" text-anchor="middle" fill="#333" stroke="#333" stroke-width="0.1">0</text>
<line x1="592.40" y1="357.90" x2="592.40" y2="360.10" stroke="#4d4d4d" stroke-width="0.8"/>
<text x="592.40" y="365.89" font-size="6.4" text-anchor="middle" fill="#333" stroke="#333" stroke-width="0.1">4</text>
<line x1="641.70" y1="357.90" x2="641.70" y2="360.10" stroke="#4d4d4d" stroke-width="0.8"/>
<text x="641.70" y="365.89" font-size="6.4" text-anchor="middle" fill="#333" stroke="#333" stroke-width="0.1">8</text>
<text x="600.50" y="376.82" font-size="9" text-anchor="middle" fill="#000" stroke="#000" stroke-width="0.1">log2 FC IAV/Mock HFF</text>
<text x="499.92" y="292.00" font-size="9" text-anchor="middle" fill="#000" stroke="#000" stroke-width="0.1" transform="rotate(-90 499.92 292.00)">log2 FC siNORAD/siCTRL HFF</text>
<text x="681.00" y="354.66" font-size="7.7" text-anchor="end" fill="#000" stroke="#000" stroke-width="0.1">Spearman = 0.65</text>
<circle cx="573.00" cy="246.10" r="1.5" fill="#3d3d3d"/>
<circle cx="573.00" cy="249.80" r="1.5" fill="#3d3d3d"/>
<circle cx="546.60" cy="256.20" r="1.5" fill="#3d3d3d"/>
<circle cx="529.00" cy="263.70" r="1.5" fill="#3d3d3d"/>
<circle cx="561.20" cy="260.70" r="1.5" fill="#3d3d3d"/>
<circle cx="567.90" cy="263.70" r="1.5" fill="#3d3d3d"/>
<circle cx="543.90" cy="266.60" r="1.5" fill="#3d3d3d"/>
<circle cx="549.50" cy="267.40" r="1.5" fill="#3d3d3d"/>
<circle cx="545.80" cy="274.20" r="1.5" fill="#3d3d3d"/>
<circle cx="548.60" cy="275.50" r="1.5" fill="#3d3d3d"/>
<circle cx="559.00" cy="272.60" r="1.5" fill="#3d3d3d"/>
<circle cx="560.70" cy="273.80" r="1.5" fill="#3d3d3d"/>
<circle cx="551.10" cy="278.00" r="1.5" fill="#3d3d3d"/>
<circle cx="555.30" cy="278.50" r="1.5" fill="#3d3d3d"/>
<circle cx="546.90" cy="279.70" r="1.5" fill="#3d3d3d"/>
<circle cx="562.10" cy="279.70" r="1.5" fill="#3d3d3d"/>
<circle cx="555.30" cy="283.10" r="1.5" fill="#3d3d3d"/>
<circle cx="550.30" cy="284.20" r="1.5" fill="#3d3d3d"/>
<circle cx="565.40" cy="283.10" r="1.5" fill="#3d3d3d"/>
<circle cx="569.60" cy="282.20" r="1.5" fill="#3d3d3d"/>
<circle cx="563.70" cy="286.40" r="1.5" fill="#3d3d3d"/>
<circle cx="570.50" cy="285.60" r="1.5" fill="#3d3d3d"/>
<circle cx="541.10" cy="287.60" r="1.5" fill="#3d3d3d"/>
<circle cx="534.30" cy="289.80" r="1.5" fill="#3d3d3d"/>
<circle cx="546.10" cy="289.80" r="1.5" fill="#3d3d3d"/>
<circle cx="554.50" cy="289.80" r="1.5" fill="#3d3d3d"/>
<circle cx="557.00" cy="289.00" r="1.5" fill="#3d3d3d"/>
<circle cx="524.20" cy="300.70" r="1.5" fill="#3d3d3d"/>
<circle cx="534.30" cy="299.90" r="1.5" fill="#3d3d3d"/>
<circle cx="528.40" cy="307.10" r="1.5" fill="#3d3d3d"/>
<circle cx="528.40" cy="311.10" r="1.5" fill="#3d3d3d"/>
<circle cx="533.50" cy="311.10" r="1.5" fill="#3d3d3d"/>
<circle cx="536.00" cy="315.80" r="1.5" fill="#3d3d3d"/>
<circle cx="546.10" cy="312.80" r="1.5" fill="#3d3d3d"/>
<circle cx="547.80" cy="314.50" r="1.5" fill="#3d3d3d"/>
<circle cx="548.60" cy="318.40" r="1.5" fill="#3d3d3d"/>
<circle cx="542.20" cy="321.70" r="1.5" fill="#3d3d3d"/>
<circle cx="553.30" cy="308.80" r="1.5" fill="#3d3d3d"/>
<circle cx="551.10" cy="305.80" r="1.5" fill="#3d3d3d"/>
<circle cx="559.00" cy="308.30" r="1.5" fill="#3d3d3d"/>
<circle cx="559.00" cy="300.70" r="1.5" fill="#3d3d3d"/>
<circle cx="562.90" cy="305.40" r="1.5" fill="#3d3d3d"/>
<circle cx="567.40" cy="307.90" r="1.5" fill="#3d3d3d"/>
<circle cx="573.00" cy="303.70" r="1.5" fill="#3d3d3d"/>
<circle cx="565.40" cy="299.90" r="1.5" fill="#3d3d3d"/>
<circle cx="570.50" cy="299.00" r="1.5" fill="#3d3d3d"/>
<circle cx="554.20" cy="333.50" r="1.5" fill="#3d3d3d"/>
<circle cx="557.00" cy="336.50" r="1.5" fill="#3d3d3d"/>
<circle cx="549.80" cy="351.60" r="1.5" fill="#3d3d3d"/>
<circle cx="558.40" cy="349.50" r="1.5" fill="#3d3d3d"/>
<circle cx="613.40" cy="215.80" r="1.5" fill="#3d3d3d"/>
<circle cx="588.20" cy="228.10" r="1.5" fill="#3d3d3d"/>
<circle cx="600.30" cy="234.00" r="1.5" fill="#3d3d3d"/>
<circle cx="627.50" cy="231.50" r="1.5" fill="#3d3d3d"/>
<circle cx="599.40" cy="241.60" r="1.5" fill="#3d3d3d"/>
<circle cx="598.20" cy="245.30" r="1.5" fill="#3d3d3d"/>
<circle cx="607.00" cy="242.70" r="1.5" fill="#3d3d3d"/>
<circle cx="607.30" cy="246.90" r="1.5" fill="#3d3d3d"/>
<circle cx="603.60" cy="249.80" r="1.5" fill="#3d3d3d"/>
<circle cx="612.90" cy="241.60" r="1.5" fill="#3d3d3d"/>
<circle cx="620.80" cy="243.90" r="1.5" fill="#3d3d3d"/>
<circle cx="626.30" cy="249.50" r="1.5" fill="#3d3d3d"/>
<circle cx="629.70" cy="242.20" r="1.5" fill="#3d3d3d"/>
<circle cx="572.50" cy="246.10" r="1.5" fill="#3d3d3d"/>
<circle cx="572.50" cy="249.80" r="1.5" fill="#3d3d3d"/>
<circle cx="575.90" cy="256.50" r="1.5" fill="#3d3d3d"/>
<circle cx="589.80" cy="256.20" r="1.5" fill="#3d3d3d"/>
<circle cx="591.50" cy="257.00" r="1.5" fill="#3d3d3d"/>
<circle cx="595.20" cy="258.40" r="1.5" fill="#3d3d3d"/>
<circle cx="597.70" cy="258.40" r="1.5" fill="#3d3d3d"/>
<circle cx="602.80" cy="258.40" r="1.5" fill="#3d3d3d"/>
<circle cx="611.20" cy="255.00" r="1.5" fill="#3d3d3d"/>
<circle cx="615.00" cy="257.90" r="1.5" fill="#3d3d3d"/>
<circle cx="615.00" cy="261.20" r="1.5" fill="#3d3d3d"/>
<circle cx="624.60" cy="254.00" r="1.5" fill="#3d3d3d"/>
<circle cx="626.30" cy="260.70" r="1.5" fill="#3d3d3d"/>
<circle cx="590.20" cy="260.40" r="1.5" fill="#3d3d3d"/>
<circle cx="579.20" cy="260.70" r="1.5" fill="#3d3d3d"/>
<circle cx="582.60" cy="261.70" r="1.5" fill="#3d3d3d"/>
<circle cx="580.10" cy="262.90" r="1.5" fill="#3d3d3d"/>
<circle cx="604.50" cy="263.40" r="1.5" fill="#3d3d3d"/>
<circle cx="599.40" cy="265.10" r="1.5" fill="#3d3d3d"/>
<circle cx="601.90" cy="266.30" r="1.5" fill="#3d3d3d"/>
<circle cx="602.80" cy="269.60" r="1.5" fill="#3d3d3d"/>
<circle cx="605.00" cy="272.50" r="1.5" fill="#3d3d3d"/>
<circle cx="608.30" cy="268.40" r="1.5" fill="#3d3d3d"/>
<circle cx="622.10" cy="268.40" r="1.5" fill="#3d3d3d"/>
<circle cx="623.40" cy="273.50" r="1.5" fill="#3d3d3d"/>
<circle cx="625.50" cy="276.80" r="1.5" fill="#3d3d3d"/>
<circle cx="615.40" cy="274.70" r="1.5" fill="#3d3d3d"/>
<circle cx="610.00" cy="276.30" r="1.5" fill="#3d3d3d"/>
<circle cx="613.40" cy="277.20" r="1.5" fill="#3d3d3d"/>
<circle cx="601.90" cy="279.70" r="1.5" fill="#3d3d3d"/>
<circle cx="596.90" cy="277.50" r="1.5" fill="#3d3d3d"/>
<circle cx="595.20" cy="281.90" r="1.5" fill="#3d3d3d"/>
<circle cx="616.70" cy="283.60" r="1.5" fill="#3d3d3d"/>
<circle cx="608.30" cy="285.60" r="1.5" fill="#3d3d3d"/>
<circle cx="599.40" cy="284.70" r="1.5" fill="#3d3d3d"/>
<circle cx="599.40" cy="287.60" r="1.5" fill="#3d3d3d"/>
<circle cx="599.40" cy="290.60" r="1.5" fill="#3d3d3d"/>
<circle cx="595.20" cy="286.40" r="1.5" fill="#3d3d3d"/>
<circle cx="591.00" cy="287.30" r="1.5" fill="#3d3d3d"/>
<circle cx="601.60" cy="295.30" r="1.5" fill="#3d3d3d"/>
<circle cx="592.70" cy="293.20" r="1.5" fill="#3d3d3d"/>
<circle cx="626.30" cy="286.40" r="1.5" fill="#3d3d3d"/>
<circle cx="629.70" cy="292.60" r="1.5" fill="#3d3d3d"/>
<circle cx="619.60" cy="296.00" r="1.5" fill="#3d3d3d"/>
<circle cx="608.70" cy="302.40" r="1.5" fill="#3d3d3d"/>
<circle cx="600.30" cy="311.10" r="1.5" fill="#3d3d3d"/>
<circle cx="605.30" cy="312.50" r="1.5" fill="#3d3d3d"/>
<circle cx="589.80" cy="309.10" r="1.5" fill="#3d3d3d"/>
<circle cx="588.50" cy="304.90" r="1.5" fill="#3d3d3d"/>
<circle cx="591.00" cy="302.40" r="1.5" fill="#3d3d3d"/>
<circle cx="584.80" cy="302.40" r="1.5" fill="#3d3d3d"/>
<circle cx="578.40" cy="302.10" r="1.5" fill="#3d3d3d"/>
<circle cx="572.50" cy="303.20" r="1.5" fill="#3d3d3d"/>
<circle cx="595.20" cy="328.40" r="1.5" fill="#3d3d3d"/>
<circle cx="644.00" cy="224.20" r="1.5" fill="#3d3d3d"/>
<circle cx="627.50" cy="231.50" r="1.5" fill="#3d3d3d"/>
<circle cx="637.60" cy="229.30" r="1.5" fill="#3d3d3d"/>
<circle cx="651.90" cy="232.60" r="1.5" fill="#3d3d3d"/>
<circle cx="664.00" cy="227.10" r="1.5" fill="#3d3d3d"/>
<circle cx="669.50" cy="234.30" r="1.5" fill="#3d3d3d"/>
<circle cx="682.10" cy="231.00" r="1.5" fill="#3d3d3d"/>
<circle cx="679.60" cy="236.50" r="1.5" fill="#3d3d3d"/>
<circle cx="675.40" cy="239.90" r="1.5" fill="#3d3d3d"/>
<circle cx="630.50" cy="242.40" r="1.5" fill="#3d3d3d"/>
<circle cx="646.50" cy="241.40" r="1.5" fill="#3d3d3d"/>
<circle cx="655.30" cy="240.70" r="1.5" fill="#3d3d3d"/>
<circle cx="654.40" cy="246.10" r="1.5" fill="#3d3d3d"/>
<circle cx="659.10" cy="249.10" r="1.5" fill="#3d3d3d"/>
<circle cx="662.00" cy="253.30" r="1.5" fill="#3d3d3d"/>
<circle cx="674.10" cy="248.30" r="1.5" fill="#3d3d3d"/>
<circle cx="653.20" cy="252.30" r="1.5" fill="#3d3d3d"/>
<circle cx="626.30" cy="249.50" r="1.5" fill="#3d3d3d"/>
<circle cx="631.40" cy="252.30" r="1.5" fill="#3d3d3d"/>
<circle cx="632.60" cy="254.00" r="1.5" fill="#3d3d3d"/>
<circle cx="636.80" cy="252.30" r="1.5" fill="#3d3d3d"/>
<circle cx="626.30" cy="260.40" r="1.5" fill="#3d3d3d"/>
<circle cx="634.70" cy="266.60" r="1.5" fill="#3d3d3d"/>
<circle cx="666.70" cy="263.40" r="1.5" fill="#3d3d3d"/>
<circle cx="625.80" cy="276.80" r="1.5" fill="#3d3d3d"/>
<circle cx="626.30" cy="286.40" r="1.5" fill="#3d3d3d"/>
<circle cx="652.70" cy="285.30" r="1.5" fill="#3d3d3d"/>
<circle cx="629.70" cy="292.30" r="1.5" fill="#3d3d3d"/>
<circle cx="551.45" cy="299.93" r="1.5" fill="#3d3d3d"/>
<circle cx="551.35" cy="287.17" r="1.5" fill="#3d3d3d"/>
<circle cx="547.43" cy="298.97" r="1.5" fill="#3d3d3d"/>
<circle cx="560.54" cy="293.18" r="1.5" fill="#3d3d3d"/>
<circle cx="544.69" cy="297.14" r="1.5" fill="#3d3d3d"/>
<circle cx="551.37" cy="295.23" r="1.5" fill="#3d3d3d"/>
<circle cx="552.81" cy="293.85" r="1.5" fill="#3d3d3d"/>
<circle cx="547.97" cy="294.89" r="1.5" fill="#3d3d3d"/>
<circle cx="547.37" cy="294.24" r="1.5" fill="#3d3d3d"/>
<circle cx="537.71" cy="301.37" r="1.5" fill="#3d3d3d"/>
<circle cx="548.17" cy="294.77" r="1.5" fill="#3d3d3d"/>
<circle cx="547.61" cy="300.96" r="1.5" fill="#3d3d3d"/>
<circle cx="541.12" cy="296.56" r="1.5" fill="#3d3d3d"/>
<circle cx="549.47" cy="299.10" r="1.5" fill="#3d3d3d"/>
<circle cx="544.66" cy="288.57" r="1.5" fill="#3d3d3d"/>
<circle cx="553.34" cy="298.31" r="1.5" fill="#3d3d3d"/>
<circle cx="546.57" cy="295.89" r="1.5" fill="#3d3d3d"/>
<circle cx="547.95" cy="295.30" r="1.5" fill="#3d3d3d"/>
<circle cx="540.86" cy="294.04" r="1.5" fill="#3d3d3d"/>
<circle cx="543.22" cy="294.55" r="1.5" fill="#3d3d3d"/>
<circle cx="540.13" cy="299.55" r="1.5" fill="#3d3d3d"/>
<circle cx="539.30" cy="299.64" r="1.5" fill="#3d3d3d"/>
<circle cx="540.92" cy="298.41" r="1.5" fill="#3d3d3d"/>
<circle cx="554.06" cy="297.81" r="1.5" fill="#3d3d3d"/>
<circle cx="542.48" cy="297.19" r="1.5" fill="#3d3d3d"/>
<circle cx="547.31" cy="290.06" r="1.5" fill="#3d3d3d"/>
<circle cx="543.16" cy="297.65" r="1.5" fill="#3d3d3d"/>
<circle cx="543.92" cy="297.32" r="1.5" fill="#3d3d3d"/>
<circle cx="550.54" cy="300.07" r="1.5" fill="#3d3d3d"/>
<circle cx="551.48" cy="299.35" r="1.5" fill="#3d3d3d"/>
<circle cx="544.92" cy="296.93" r="1.5" fill="#3d3d3d"/>
<circle cx="545.01" cy="295.75" r="1.5" fill="#3d3d3d"/>
<circle cx="545.51" cy="290.10" r="1.5" fill="#3d3d3d"/>
<circle cx="544.67" cy="296.90" r="1.5" fill="#3d3d3d"/>
<circle cx="541.14" cy="296.90" r="1.5" fill="#3d3d3d"/>
<circle cx="549.34" cy="296.34" r="1.5" fill="#3d3d3d"/>
<circle cx="557.92" cy="286.57" r="1.5" fill="#3d3d3d"/>
<circle cx="545.37" cy="289.70" r="1.5" fill="#3d3d3d"/>
<circle cx="551.89" cy="307.62" r="1.5" fill="#3d3d3d"/>
<circle cx="532.74" cy="297.51" r="1.5" fill="#3d3d3d"/>
<circle cx="549.35" cy="295.79" r="1.5" fill="#3d3d3d"/>
<circle cx="549.53" cy="288.03" r="1.5" fill="#3d3d3d"/>
<circle cx="551.19" cy="298.49" r="1.5" fill="#3d3d3d"/>
<circle cx="546.63" cy="294.65" r="1.5" fill="#3d3d3d"/>
<circle cx="550.01" cy="295.06" r="1.5" fill="#3d3d3d"/>
<circle cx="547.73" cy="294.96" r="1.5" fill="#3d3d3d"/>
<circle cx="534.14" cy="296.87" r="1.5" fill="#3d3d3d"/>
<circle cx="547.61" cy="300.02" r="1.5" fill="#3d3d3d"/>
<circle cx="541.68" cy="296.87" r="1.5" fill="#3d3d3d"/>
<circle cx="549.89" cy="297.58" r="1.5" fill="#3d3d3d"/>
<circle cx="553.33" cy="304.97" r="1.5" fill="#3d3d3d"/>
<circle cx="541.50" cy="289.32" r="1.5" fill="#3d3d3d"/>
<circle cx="551.21" cy="303.12" r="1.5" fill="#3d3d3d"/>
<circle cx="551.57" cy="300.26" r="1.5" fill="#3d3d3d"/>
<circle cx="543.10" cy="294.15" r="1.5" fill="#3d3d3d"/>
<circle cx="551.39" cy="293.35" r="1.5" fill="#3d3d3d"/>
<circle cx="536.53" cy="293.01" r="1.5" fill="#3d3d3d"/>
<circle cx="560.21" cy="304.69" r="1.5" fill="#3d3d3d"/>
<circle cx="542.72" cy="294.08" r="1.5" fill="#3d3d3d"/>
<circle cx="547.77" cy="294.00" r="1.5" fill="#3d3d3d"/>
<circle cx="553.71" cy="296.69" r="1.5" fill="#3d3d3d"/>
<circle cx="540.53" cy="302.24" r="1.5" fill="#3d3d3d"/>
<circle cx="543.29" cy="297.89" r="1.5" fill="#3d3d3d"/>
<circle cx="546.43" cy="295.74" r="1.5" fill="#3d3d3d"/>
<circle cx="548.29" cy="294.23" r="1.5" fill="#3d3d3d"/>
<circle cx="536.36" cy="288.17" r="1.5" fill="#3d3d3d"/>
<circle cx="539.53" cy="293.97" r="1.5" fill="#3d3d3d"/>
<circle cx="546.37" cy="297.22" r="1.5" fill="#3d3d3d"/>
<circle cx="549.56" cy="297.48" r="1.5" fill="#3d3d3d"/>
<circle cx="542.14" cy="294.16" r="1.5" fill="#3d3d3d"/>
<circle cx="559.02" cy="293.15" r="1.5" fill="#3d3d3d"/>
<circle cx="569.44" cy="296.65" r="1.5" fill="#3d3d3d"/>
<circle cx="567.01" cy="293.13" r="1.5" fill="#3d3d3d"/>
<circle cx="571.25" cy="294.08" r="1.5" fill="#3d3d3d"/>
<circle cx="570.45" cy="296.91" r="1.5" fill="#3d3d3d"/>
<circle cx="568.35" cy="300.53" r="1.5" fill="#3d3d3d"/>
<circle cx="565.21" cy="292.21" r="1.5" fill="#3d3d3d"/>
<circle cx="564.27" cy="290.01" r="1.5" fill="#3d3d3d"/>
<circle cx="573.72" cy="302.80" r="1.5" fill="#3d3d3d"/>
<circle cx="567.59" cy="296.84" r="1.5" fill="#3d3d3d"/>
<circle cx="572.20" cy="298.04" r="1.5" fill="#3d3d3d"/>
<circle cx="572.32" cy="287.69" r="1.5" fill="#3d3d3d"/>
<circle cx="564.94" cy="296.26" r="1.5" fill="#3d3d3d"/>
<circle cx="573.24" cy="294.52" r="1.5" fill="#3d3d3d"/>
<circle cx="564.07" cy="292.23" r="1.5" fill="#3d3d3d"/>
<circle cx="564.86" cy="289.71" r="1.5" fill="#3d3d3d"/>
<circle cx="573.50" cy="290.87" r="1.5" fill="#3d3d3d"/>
<circle cx="567.58" cy="304.81" r="1.5" fill="#3d3d3d"/>
<circle cx="572.24" cy="295.68" r="1.5" fill="#3d3d3d"/>
<circle cx="565.05" cy="296.05" r="1.5" fill="#3d3d3d"/>
<circle cx="573.99" cy="297.12" r="1.5" fill="#3d3d3d"/>
<circle cx="572.55" cy="294.49" r="1.5" fill="#3d3d3d"/>
<circle cx="569.57" cy="293.00" r="1.5" fill="#3d3d3d"/>
<circle cx="569.21" cy="300.50" r="1.5" fill="#3d3d3d"/>
<circle cx="561.78" cy="293.69" r="1.5" fill="#3d3d3d"/>
<circle cx="581.44" cy="285.72" r="1.5" fill="#3d3d3d"/>
<circle cx="578.15" cy="291.15" r="1.5" fill="#3d3d3d"/>
<circle cx="592.01" cy="290.52" r="1.5" fill="#3d3d3d"/>
<circle cx="581.96" cy="281.79" r="1.5" fill="#3d3d3d"/>
<circle cx="591.57" cy="288.31" r="1.5" fill="#3d3d3d"/>
<circle cx="579.80" cy="283.53" r="1.5" fill="#3d3d3d"/>
<circle cx="579.66" cy="283.62" r="1.5" fill="#3d3d3d"/>
<circle cx="580.43" cy="289.87" r="1.5" fill="#3d3d3d"/>
<circle cx="580.19" cy="289.12" r="1.5" fill="#3d3d3d"/>
<circle cx="574.89" cy="293.72" r="1.5" fill="#3d3d3d"/>
<circle cx="576.08" cy="280.73" r="1.5" fill="#3d3d3d"/>
<circle cx="578.87" cy="284.95" r="1.5" fill="#3d3d3d"/>
<circle cx="573.94" cy="286.58" r="1.5" fill="#3d3d3d"/>
<circle cx="581.75" cy="283.27" r="1.5" fill="#3d3d3d"/>
<circle cx="579.17" cy="293.71" r="1.5" fill="#3d3d3d"/>
<circle cx="584.10" cy="287.39" r="1.5" fill="#3d3d3d"/>
<circle cx="580.77" cy="287.52" r="1.5" fill="#3d3d3d"/>
<circle cx="579.71" cy="290.93" r="1.5" fill="#3d3d3d"/>
<circle cx="579.44" cy="278.38" r="1.5" fill="#3d3d3d"/>
<circle cx="579.87" cy="284.44" r="1.5" fill="#3d3d3d"/>
<circle cx="583.91" cy="285.56" r="1.5" fill="#3d3d3d"/>
<circle cx="580.89" cy="296.71" r="1.5" fill="#3d3d3d"/>
<circle cx="573.72" cy="283.50" r="1.5" fill="#3d3d3d"/>
<circle cx="571.53" cy="278.42" r="1.5" fill="#3d3d3d"/>
<circle cx="568.73" cy="289.46" r="1.5" fill="#3d3d3d"/>
<circle cx="576.17" cy="280.53" r="1.5" fill="#3d3d3d"/>
<circle cx="571.10" cy="290.47" r="1.5" fill="#3d3d3d"/>
<circle cx="575.35" cy="286.53" r="1.5" fill="#3d3d3d"/>
<circle cx="581.98" cy="293.43" r="1.5" fill="#3d3d3d"/>
<circle cx="591.65" cy="292.13" r="1.5" fill="#3d3d3d"/>
<circle cx="589.43" cy="276.74" r="1.5" fill="#3d3d3d"/>
<circle cx="594.41" cy="281.71" r="1.5" fill="#3d3d3d"/>
<circle cx="588.07" cy="277.83" r="1.5" fill="#3d3d3d"/>
<circle cx="589.86" cy="276.21" r="1.5" fill="#3d3d3d"/>
<circle cx="587.50" cy="270.69" r="1.5" fill="#3d3d3d"/>
<circle cx="587.40" cy="269.82" r="1.5" fill="#3d3d3d"/>
<circle cx="592.67" cy="278.15" r="1.5" fill="#3d3d3d"/>
<circle cx="585.38" cy="281.58" r="1.5" fill="#3d3d3d"/>
<circle cx="591.68" cy="268.37" r="1.5" fill="#3d3d3d"/>
<circle cx="594.52" cy="279.24" r="1.5" fill="#3d3d3d"/>
<circle cx="559.19" cy="276.08" r="1.5" fill="#3d3d3d"/>
<circle cx="554.59" cy="282.69" r="1.5" fill="#3d3d3d"/>
<circle cx="553.61" cy="281.68" r="1.5" fill="#3d3d3d"/>
<circle cx="556.16" cy="275.02" r="1.5" fill="#3d3d3d"/>
<circle cx="549.27" cy="275.42" r="1.5" fill="#3d3d3d"/>
<circle cx="551.33" cy="278.58" r="1.5" fill="#3d3d3d"/>
<circle cx="554.10" cy="282.07" r="1.5" fill="#3d3d3d"/>
<circle cx="553.09" cy="278.29" r="1.5" fill="#3d3d3d"/>
<circle cx="573.84" cy="283.90" r="1.5" fill="#3d3d3d"/>
<circle cx="571.87" cy="289.52" r="1.5" fill="#3d3d3d"/>
<circle cx="572.79" cy="289.62" r="1.5" fill="#3d3d3d"/>
<circle cx="581.16" cy="276.58" r="1.5" fill="#3d3d3d"/>
<circle cx="564.52" cy="291.05" r="1.5" fill="#3d3d3d"/>
<circle cx="583.87" cy="278.38" r="1.5" fill="#3d3d3d"/>
<circle cx="581.02" cy="285.08" r="1.5" fill="#3d3d3d"/>
<circle cx="569.01" cy="286.52" r="1.5" fill="#3d3d3d"/>
<circle cx="567.29" cy="294.83" r="1.5" fill="#3d3d3d"/>
<circle cx="594.33" cy="270.54" r="1.5" fill="#3d3d3d"/>
<circle cx="579.24" cy="278.34" r="1.5" fill="#3d3d3d"/>
<circle cx="576.15" cy="284.75" r="1.5" fill="#3d3d3d"/>
<circle cx="574.69" cy="283.94" r="1.5" fill="#3d3d3d"/>
<circle cx="570.67" cy="282.36" r="1.5" fill="#3d3d3d"/>
<circle cx="568.19" cy="286.87" r="1.5" fill="#3d3d3d"/>
<circle cx="585.05" cy="269.25" r="1.5" fill="#3d3d3d"/>
<circle cx="580.77" cy="279.84" r="1.5" fill="#3d3d3d"/>
<circle cx="577.08" cy="281.30" r="1.5" fill="#3d3d3d"/>
<circle cx="590.78" cy="272.55" r="1.5" fill="#3d3d3d"/>
<circle cx="575.24" cy="282.68" r="1.5" fill="#3d3d3d"/>
<circle cx="577.22" cy="280.96" r="1.5" fill="#3d3d3d"/>
<circle cx="573.88" cy="279.79" r="1.5" fill="#3d3d3d"/>
<circle cx="584.17" cy="272.73" r="1.5" fill="#3d3d3d"/>
<circle cx="577.19" cy="288.25" r="1.5" fill="#3d3d3d"/>
<circle cx="583.14" cy="274.93" r="1.5" fill="#3d3d3d"/>
<circle cx="577.89" cy="277.32" r="1.5" fill="#3d3d3d"/>
<circle cx="564.22" cy="288.95" r="1.5" fill="#3d3d3d"/>
<circle cx="572.95" cy="287.61" r="1.5" fill="#3d3d3d"/>
<circle cx="585.09" cy="274.49" r="1.5" fill="#3d3d3d"/>
<circle cx="570.09" cy="289.55" r="1.5" fill="#3d3d3d"/>
<circle cx="580.76" cy="281.82" r="1.5" fill="#3d3d3d"/>
<circle cx="574.91" cy="285.46" r="1.5" fill="#3d3d3d"/>
<circle cx="569.77" cy="287.64" r="1.5" fill="#3d3d3d"/>
<circle cx="580.42" cy="281.77" r="1.5" fill="#3d3d3d"/>
<circle cx="583.55" cy="276.12" r="1.5" fill="#3d3d3d"/>
<circle cx="88.26" cy="314.27" r="2.0" fill="#d9d9d9"/>
<circle cx="73.54" cy="325.53" r="2.0" fill="#d9d9d9"/>
<circle cx="93.47" cy="337.74" r="2.0" fill="#d9d9d9"/>
<circle cx="83.57" cy="335.30" r="2.0" fill="#d9d9d9"/>
<circle cx="82.30" cy="315.67" r="2.0" fill="#d9d9d9"/>
<circle cx="87.09" cy="326.19" r="2.0" fill="#d9d9d9"/>
<circle cx="91.77" cy="346.32" r="2.0" fill="#d9d9d9"/>
<circle cx="81.16" cy="332.96" r="2.0" fill="#d9d9d9"/>
<circle cx="92.04" cy="326.85" r="2.0" fill="#d9d9d9"/>
<circle cx="74.29" cy="338.89" r="2.0" fill="#d9d9d9"/>
<circle cx="96.51" cy="340.96" r="2.0" fill="#d9d9d9"/>
<circle cx="90.37" cy="344.10" r="2.0" fill="#d9d9d9"/>
<circle cx="89.67" cy="335.66" r="2.0" fill="#d9d9d9"/>
<circle cx="81.98" cy="322.52" r="2.0" fill="#d9d9d9"/>
<circle cx="87.92" cy="313.91" r="2.0" fill="#d9d9d9"/>
<circle cx="80.81" cy="341.30" r="2.0" fill="#d9d9d9"/>
<circle cx="90.82" cy="335.18" r="2.0" fill="#d9d9d9"/>
<circle cx="75.03" cy="326.94" r="2.0" fill="#d9d9d9"/>
<circle cx="82.02" cy="334.86" r="2.0" fill="#d9d9d9"/>
<circle cx="80.46" cy="337.01" r="2.0" fill="#d9d9d9"/>
<circle cx="88.82" cy="341.13" r="2.0" fill="#d9d9d9"/>
<circle cx="79.75" cy="329.59" r="2.0" fill="#d9d9d9"/>
<circle cx="85.03" cy="316.43" r="2.0" fill="#d9d9d9"/>
<circle cx="93.16" cy="347.62" r="2.0" fill="#d9d9d9"/>
<circle cx="84.21" cy="314.04" r="2.0" fill="#d9d9d9"/>
<circle cx="86.09" cy="331.64" r="2.0" fill="#d9d9d9"/>
<circle cx="90.96" cy="330.49" r="2.0" fill="#d9d9d9"/>
<circle cx="88.30" cy="343.16" r="2.0" fill="#d9d9d9"/>
<circle cx="84.29" cy="326.41" r="2.0" fill="#d9d9d9"/>
<circle cx="89.84" cy="325.70" r="2.0" fill="#d9d9d9"/>
<circle cx="80.77" cy="326.82" r="2.0" fill="#d9d9d9"/>
<circle cx="90.31" cy="324.09" r="2.0" fill="#d9d9d9"/>
<circle cx="91.78" cy="347.60" r="2.0" fill="#d9d9d9"/>
<circle cx="84.47" cy="318.76" r="2.0" fill="#d9d9d9"/>
<circle cx="93.83" cy="325.68" r="2.0" fill="#d9d9d9"/>
<circle cx="92.98" cy="342.38" r="2.0" fill="#d9d9d9"/>
<circle cx="88.13" cy="328.77" r="2.0" fill="#d9d9d9"/>
<circle cx="85.67" cy="319.04" r="2.0" fill="#d9d9d9"/>
<circle cx="88.28" cy="342.75" r="2.0" fill="#d9d9d9"/>
<circle cx="94.33" cy="328.72" r="2.0" fill="#d9d9d9"/>
<circle cx="76.54" cy="331.93" r="2.0" fill="#d9d9d9"/>
<circle cx="70.77" cy="343.35" r="2.0" fill="#d9d9d9"/>
<circle cx="78.60" cy="344.03" r="2.0" fill="#d9d9d9"/>
<circle cx="75.62" cy="325.05" r="2.0" fill="#d9d9d9"/>
<circle cx="75.15" cy="327.04" r="2.0" fill="#d9d9d9"/>
<circle cx="91.11" cy="321.25" r="2.0" fill="#d9d9d9"/>
<circle cx="74.85" cy="322.07" r="2.0" fill="#d9d9d9"/>
<circle cx="82.85" cy="327.14" r="2.0" fill="#d9d9d9"/>
<circle cx="88.23" cy="336.37" r="2.0" fill="#d9d9d9"/>
<circle cx="78.86" cy="347.15" r="2.0" fill="#d9d9d9"/>
<circle cx="94.73" cy="346.23" r="2.0" fill="#d9d9d9"/>
<circle cx="94.85" cy="335.33" r="2.0" fill="#d9d9d9"/>
<circle cx="92.97" cy="323.86" r="2.0" fill="#d9d9d9"/>
<circle cx="96.89" cy="334.33" r="2.0" fill="#d9d9d9"/>
<circle cx="93.14" cy="336.74" r="2.0" fill="#d9d9d9"/>
<circle cx="96.98" cy="341.52" r="2.0" fill="#d9d9d9"/>
<circle cx="90.12" cy="331.23" r="2.0" fill="#d9d9d9"/>
<circle cx="91.80" cy="327.54" r="2.0" fill="#d9d9d9"/>
<circle cx="96.60" cy="332.20" r="2.0" fill="#d9d9d9"/>
<circle cx="71.25" cy="329.72" r="2.0" fill="#d9d9d9"/>
<circle cx="71.42" cy="329.65" r="2.0" fill="#d9d9d9"/>
<circle cx="83.49" cy="331.58" r="2.0" fill="#d9d9d9"/>
<circle cx="95.17" cy="328.72" r="2.0" fill="#d9d9d9"/>
<circle cx="85.68" cy="336.61" r="2.0" fill="#d9d9d9"/>
<circle cx="95.16" cy="325.00" r="2.0" fill="#d9d9d9"/>
<circle cx="80.78" cy="348.42" r="2.0" fill="#d9d9d9"/>
<circle cx="69.07" cy="335.48" r="2.0" fill="#d9d9d9"/>
<circle cx="88.19" cy="311.14" r="2.0" fill="#d9d9d9"/>
<circle cx="87.29" cy="337.30" r="2.0" fill="#d9d9d9"/>
<circle cx="83.03" cy="345.90" r="2.0" fill="#d9d9d9"/>
<circle cx="67.66" cy="338.73" r="2.0" fill="#d9d9d9"/>
<circle cx="87.82" cy="323.54" r="2.0" fill="#d9d9d9"/>
<circle cx="82.68" cy="331.02" r="2.0" fill="#d9d9d9"/>
<circle cx="92.78" cy="318.43" r="2.0" fill="#d9d9d9"/>
<circle cx="81.34" cy="326.90" r="2.0" fill="#d9d9d9"/>
<circle cx="85.39" cy="343.07" r="2.0" fill="#d9d9d9"/>
<circle cx="76.49" cy="343.11" r="2.0" fill="#d9d9d9"/>
<circle cx="80.27" cy="330.15" r="2.0" fill="#d9d9d9"/>
<circle cx="75.76" cy="330.26" r="2.0" fill="#d9d9d9"/>
<circle cx="93.51" cy="323.24" r="2.0" fill="#d9d9d9"/>
<circle cx="77.31" cy="321.97" r="2.0" fill="#d9d9d9"/>
<circle cx="86.50" cy="335.39" r="2.0" fill="#d9d9d9"/>
<circle cx="91.14" cy="345.42" r="2.0" fill="#d9d9d9"/>
<circle cx="85.10" cy="311.99" r="2.0" fill="#d9d9d9"/>
<circle cx="87.26" cy="336.32" r="2.0" fill="#d9d9d9"/>
<circle cx="93.41" cy="346.39" r="2.0" fill="#d9d9d9"/>
<circle cx="87.36" cy="334.67" r="2.0" fill="#d9d9d9"/>
<circle cx="87.87" cy="337.86" r="2.0" fill="#d9d9d9"/>
<circle cx="86.83" cy="337.24" r="2.0" fill="#d9d9d9"/>
<circle cx="73.75" cy="336.68" r="2.0" fill="#d9d9d9"/>
<circle cx="82.11" cy="340.51" r="2.0" fill="#d9d9d9"/>
<circle cx="97.67" cy="336.23" r="2.0" fill="#d9d9d9"/>
<circle cx="79.08" cy="342.90" r="2.0" fill="#d9d9d9"/>
<circle cx="93.32" cy="332.48" r="2.0" fill="#d9d9d9"/>
<circle cx="75.30" cy="322.08" r="2.0" fill="#d9d9d9"/>
<circle cx="80.88" cy="322.74" r="2.0" fill="#d9d9d9"/>
<circle cx="81.19" cy="335.67" r="2.0" fill="#d9d9d9"/>
<circle cx="85.85" cy="311.58" r="2.0" fill="#d9d9d9"/>
<circle cx="70.55" cy="342.41" r="2.0" fill="#d9d9d9"/>
<circle cx="86.12" cy="346.75" r="2.0" fill="#d9d9d9"/>
<circle cx="79.70" cy="333.68" r="2.0" fill="#d9d9d9"/>
<circle cx="98.48" cy="349.23" r="2.0" fill="#d9d9d9"/>
<circle cx="82.71" cy="326.50" r="2.0" fill="#d9d9d9"/>
<circle cx="69.98" cy="335.78" r="2.0" fill="#d9d9d9"/>
<circle cx="89.82" cy="314.87" r="2.0" fill="#d9d9d9"/>
<circle cx="67.11" cy="338.77" r="2.0" fill="#d9d9d9"/>
<circle cx="74.76" cy="339.34" r="2.0" fill="#d9d9d9"/>
<circle cx="92.89" cy="338.54" r="2.0" fill="#d9d9d9"/>
<circle cx="95.67" cy="339.19" r="2.0" fill="#d9d9d9"/>
<circle cx="69.37" cy="335.14" r="2.0" fill="#d9d9d9"/>
<circle cx="90.68" cy="328.42" r="2.0" fill="#d9d9d9"/>
<circle cx="88.69" cy="342.69" r="2.0" fill="#d9d9d9"/>
<circle cx="91.37" cy="316.64" r="2.0" fill="#d9d9d9"/>
<circle cx="95.86" cy="329.45" r="2.0" fill="#d9d9d9"/>
<circle cx="86.11" cy="327.55" r="2.0" fill="#d9d9d9"/>
<circle cx="89.58" cy="315.80" r="2.0" fill="#d9d9d9"/>
<circle cx="93.69" cy="324.53" r="2.0" fill="#d9d9d9"/>
<circle cx="88.49" cy="335.19" r="2.0" fill="#d9d9d9"/>
<circle cx="80.75" cy="325.43" r="2.0" fill="#d9d9d9"/>
<circle cx="93.31" cy="347.80" r="2.0" fill="#d9d9d9"/>
<circle cx="93.26" cy="332.67" r="2.0" fill="#d9d9d9"/>
<circle cx="94.71" cy="323.28" r="2.0" fill="#d9d9d9"/>
<circle cx="87.16" cy="349.10" r="2.0" fill="#d9d9d9"/>
<circle cx="94.85" cy="334.05" r="2.0" fill="#d9d9d9"/>
<circle cx="77.02" cy="327.14" r="2.0" fill="#d9d9d9"/>
<circle cx="89.85" cy="334.07" r="2.0" fill="#d9d9d9"/>
<circle cx="97.06" cy="342.30" r="2.0" fill="#d9d9d9"/>
<circle cx="75.47" cy="326.90" r="2.0" fill="#d9d9d9"/>
<circle cx="86.50" cy="342.64" r="2.0" fill="#d9d9d9"/>
<circle cx="94.91" cy="342.47" r="2.0" fill="#d9d9d9"/>
<circle cx="96.07" cy="332.88" r="2.0" fill="#d9d9d9"/>
<circle cx="75.84" cy="344.05" r="2.0" fill="#d9d9d9"/>
<circle cx="94.02" cy="337.39" r="2.0" fill="#d9d9d9"/>
<circle cx="69.40" cy="332.15" r="2.0" fill="#d9d9d9"/>
<circle cx="92.08" cy="347.27" r="2.0" fill="#d9d9d9"/>
<circle cx="74.48" cy="334.28" r="2.0" fill="#d9d9d9"/>
<circle cx="89.61" cy="328.61" r="2.0" fill="#d9d9d9"/>
<circle cx="92.11" cy="341.67" r="2.0" fill="#d9d9d9"/>
<circle cx="82.18" cy="313.51" r="2.0" fill="#d9d9d9"/>
<circle cx="94.00" cy="340.89" r="2.0" fill="#d9d9d9"/>
<circle cx="74.44" cy="333.18" r="2.0" fill="#d9d9d9"/>
<circle cx="97.09" cy="345.40" r="2.0" fill="#d9d9d9"/>
<circle cx="84.30" cy="329.06" r="2.0" fill="#d9d9d9"/>
<circle cx="86.60" cy="317.57" r="2.0" fill="#d9d9d9"/>
<circle cx="90.41" cy="324.51" r="2.0" fill="#d9d9d9"/>
<circle cx="85.75" cy="326.10" r="2.0" fill="#d9d9d9"/>
<circle cx="84.14" cy="315.96" r="2.0" fill="#d9d9d9"/>
<circle cx="88.08" cy="341.49" r="2.0" fill="#d9d9d9"/>
<circle cx="71.82" cy="333.89" r="2.0" fill="#d9d9d9"/>
<circle cx="78.26" cy="330.78" r="2.0" fill="#d9d9d9"/>
<circle cx="83.08" cy="332.69" r="2.0" fill="#d9d9d9"/>
<circle cx="75.42" cy="341.17" r="2.0" fill="#d9d9d9"/>
<circle cx="81.02" cy="347.86" r="2.0" fill="#d9d9d9"/>
<circle cx="92.66" cy="342.75" r="2.0" fill="#d9d9d9"/>
<circle cx="68.24" cy="332.30" r="2.0" fill="#d9d9d9"/>
<circle cx="98.80" cy="346.40" r="2.0" fill="#d9d9d9"/>
<circle cx="68.69" cy="333.92" r="2.0" fill="#d9d9d9"/>
<circle cx="80.05" cy="314.80" r="2.0" fill="#d9d9d9"/>
<circle cx="85.75" cy="335.63" r="2.0" fill="#d9d9d9"/>
<circle cx="79.91" cy="327.93" r="2.0" fill="#d9d9d9"/>
<circle cx="78.50" cy="346.11" r="2.0" fill="#d9d9d9"/>
<circle cx="97.35" cy="343.49" r="2.0" fill="#d9d9d9"/>
<circle cx="90.70" cy="335.87" r="2.0" fill="#d9d9d9"/>
<circle cx="71.44" cy="340.20" r="2.0" fill="#d9d9d9"/>
<circle cx="76.69" cy="333.66" r="2.0" fill="#d9d9d9"/>
<circle cx="77.55" cy="320.28" r="2.0" fill="#d9d9d9"/>
<circle cx="70.73" cy="329.25" r="2.0" fill="#d9d9d9"/>
<circle cx="71.38" cy="337.11" r="2.0" fill="#d9d9d9"/>
<circle cx="66.93" cy="338.69" r="2.0" fill="#d9d9d9"/>
<circle cx="98.35" cy="344.67" r="2.0" fill="#d9d9d9"/>
<circle cx="81.75" cy="313.88" r="2.0" fill="#d9d9d9"/>
<circle cx="98.17" cy="343.69" r="2.0" fill="#d9d9d9"/>
<circle cx="87.93" cy="328.09" r="2.0" fill="#d9d9d9"/>
<circle cx="78.09" cy="342.92" r="2.0" fill="#d9d9d9"/>
<circle cx="82.78" cy="335.13" r="2.0" fill="#d9d9d9"/>
<circle cx="68.43" cy="338.55" r="2.0" fill="#d9d9d9"/>
<circle cx="85.37" cy="315.79" r="2.0" fill="#d9d9d9"/>
<circle cx="80.54" cy="316.23" r="2.0" fill="#d9d9d9"/>
<circle cx="75.74" cy="343.58" r="2.0" fill="#d9d9d9"/>
<circle cx="77.91" cy="316.71" r="2.0" fill="#d9d9d9"/>
<circle cx="83.24" cy="322.72" r="2.0" fill="#d9d9d9"/>
<circle cx="97.02" cy="336.73" r="2.0" fill="#d9d9d9"/>
<circle cx="73.70" cy="329.10" r="2.0" fill="#d9d9d9"/>
<circle cx="76.26" cy="320.31" r="2.0" fill="#d9d9d9"/>
<circle cx="73.38" cy="324.57" r="2.0" fill="#d9d9d9"/>
<circle cx="76.37" cy="345.85" r="2.0" fill="#d9d9d9"/>
<circle cx="68.46" cy="339.06" r="2.0" fill="#d9d9d9"/>
<circle cx="84.46" cy="317.43" r="2.0" fill="#d9d9d9"/>
<circle cx="81.34" cy="346.48" r="2.0" fill="#d9d9d9"/>
<circle cx="73.94" cy="332.85" r="2.0" fill="#d9d9d9"/>
<circle cx="92.77" cy="338.46" r="2.0" fill="#d9d9d9"/>
<circle cx="69.48" cy="334.34" r="2.0" fill="#d9d9d9"/>
<circle cx="83.40" cy="320.96" r="2.0" fill="#d9d9d9"/>
<circle cx="73.53" cy="334.50" r="2.0" fill="#d9d9d9"/>
<circle cx="90.63" cy="342.46" r="2.0" fill="#d9d9d9"/>
<circle cx="86.38" cy="318.09" r="2.0" fill="#d9d9d9"/>
<circle cx="68.74" cy="339.31" r="2.0" fill="#d9d9d9"/>
<circle cx="80.42" cy="338.87" r="2.0" fill="#d9d9d9"/>
<circle cx="77.93" cy="343.68" r="2.0" fill="#d9d9d9"/>
<circle cx="95.98" cy="329.72" r="2.0" fill="#d9d9d9"/>
<circle cx="82.75" cy="344.88" r="2.0" fill="#d9d9d9"/>
<circle cx="94.86" cy="324.68" r="2.0" fill="#d9d9d9"/>
<circle cx="72.07" cy="324.85" r="2.0" fill="#d9d9d9"/>
<circle cx="86.79" cy="310.19" r="2.0" fill="#d9d9d9"/>
<circle cx="84.23" cy="327.83" r="2.0" fill="#d9d9d9"/>
<circle cx="84.08" cy="314.83" r="2.0" fill="#d9d9d9"/>
<circle cx="90.87" cy="342.66" r="2.0" fill="#d9d9d9"/>
<circle cx="90.75" cy="325.26" r="2.0" fill="#d9d9d9"/>
<circle cx="96.26" cy="348.16" r="2.0" fill="#d9d9d9"/>
<circle cx="83.37" cy="330.53" r="2.0" fill="#d9d9d9"/>
<circle cx="84.59" cy="331.49" r="2.0" fill="#d9d9d9"/>
<circle cx="69.79" cy="337.96" r="2.0" fill="#d9d9d9"/>
<circle cx="86.94" cy="333.06" r="2.0" fill="#d9d9d9"/>
<circle cx="84.33" cy="338.11" r="2.0" fill="#d9d9d9"/>
<circle cx="90.95" cy="311.81" r="2.0" fill="#d9d9d9"/>
<circle cx="70.70" cy="329.74" r="2.0" fill="#d9d9d9"/>
<circle cx="83.58" cy="321.18" r="2.0" fill="#d9d9d9"/>
<circle cx="71.17" cy="333.67" r="2.0" fill="#d9d9d9"/>
<circle cx="86.03" cy="339.86" r="2.0" fill="#d9d9d9"/>
<circle cx="72.10" cy="343.04" r="2.0" fill="#d9d9d9"/>
<circle cx="80.84" cy="343.59" r="2.0" fill="#d9d9d9"/>
<circle cx="84.42" cy="325.83" r="2.0" fill="#d9d9d9"/>
<circle cx="98.60" cy="341.08" r="2.0" fill="#d9d9d9"/>
<circle cx="78.04" cy="319.62" r="2.0" fill="#d9d9d9"/>
<circle cx="77.93" cy="327.42" r="2.0" fill="#d9d9d9"/>
<circle cx="97.63" cy="342.60" r="2.0" fill="#d9d9d9"/>
<circle cx="84.14" cy="348.31" r="2.0" fill="#d9d9d9"/>
<circle cx="80.89" cy="335.31" r="2.0" fill="#d9d9d9"/>
<circle cx="78.93" cy="331.23" r="2.0" fill="#d9d9d9"/>
<circle cx="92.98" cy="347.48" r="2.0" fill="#d9d9d9"/>
<circle cx="88.09" cy="342.37" r="2.0" fill="#d9d9d9"/>
<circle cx="96.66" cy="345.39" r="2.0" fill="#d9d9d9"/>
<circle cx="67.67" cy="335.66" r="2.0" fill="#d9d9d9"/>
<circle cx="75.56" cy="337.14" r="2.0" fill="#d9d9d9"/>
<circle cx="75.82" cy="331.69" r="2.0" fill="#d9d9d9"/>
<circle cx="75.04" cy="330.81" r="2.0" fill="#d9d9d9"/>
<circle cx="81.29" cy="348.03" r="2.0" fill="#d9d9d9"/>
<circle cx="76.30" cy="322.22" r="2.0" fill="#d9d9d9"/>
<circle cx="88.58" cy="314.82" r="2.0" fill="#d9d9d9"/>
<circle cx="86.77" cy="348.24" r="2.0" fill="#d9d9d9"/>
<circle cx="84.02" cy="320.74" r="2.0" fill="#d9d9d9"/>
<circle cx="82.40" cy="331.35" r="2.0" fill="#d9d9d9"/>
<circle cx="80.36" cy="321.53" r="2.0" fill="#d9d9d9"/>
<circle cx="85.13" cy="343.59" r="2.0" fill="#d9d9d9"/>
<circle cx="87.30" cy="332.81" r="2.0" fill="#d9d9d9"/>
<circle cx="88.68" cy="318.05" r="2.0" fill="#d9d9d9"/>
<circle cx="90.72" cy="328.44" r="2.0" fill="#d9d9d9"/>
<circle cx="85.19" cy="334.51" r="2.0" fill="#d9d9d9"/>
<circle cx="82.49" cy="322.42" r="2.0" fill="#d9d9d9"/>
<circle cx="83.97" cy="325.33" r="2.0" fill="#d9d9d9"/>
<circle cx="86.47" cy="310.48" r="2.0" fill="#d9d9d9"/>
<circle cx="78.53" cy="344.47" r="2.0" fill="#d9d9d9"/>
<circle cx="74.63" cy="332.27" r="2.0" fill="#d9d9d9"/>
<circle cx="83.26" cy="321.39" r="2.0" fill="#d9d9d9"/>
<circle cx="92.83" cy="316.34" r="2.0" fill="#d9d9d9"/>
<circle cx="79.73" cy="327.60" r="2.0" fill="#d9d9d9"/>
<circle cx="91.58" cy="314.37" r="2.0" fill="#d9d9d9"/>
<circle cx="91.69" cy="316.18" r="2.0" fill="#d9d9d9"/>
<circle cx="77.99" cy="324.10" r="2.0" fill="#d9d9d9"/>
<circle cx="89.53" cy="334.65" r="2.0" fill="#d9d9d9"/>
<circle cx="95.48" cy="342.85" r="2.0" fill="#d9d9d9"/>
<circle cx="84.16" cy="339.55" r="2.0" fill="#d9d9d9"/>
<circle cx="91.85" cy="340.39" r="2.0" fill="#d9d9d9"/>
<circle cx="82.71" cy="341.40" r="2.0" fill="#d9d9d9"/>
<circle cx="90.66" cy="346.59" r="2.0" fill="#d9d9d9"/>
<circle cx="86.48" cy="329.92" r="2.0" fill="#d9d9d9"/>
<circle cx="80.75" cy="341.35" r="2.0" fill="#d9d9d9"/>
<circle cx="96.26" cy="334.29" r="2.0" fill="#d9d9d9"/>
<circle cx="79.44" cy="328.09" r="2.0" fill="#d9d9d9"/>
<circle cx="82.11" cy="338.92" r="2.0" fill="#d9d9d9"/>
<circle cx="76.49" cy="325.63" r="2.0" fill="#d9d9d9"/>
<circle cx="85.44" cy="325.38" r="2.0" fill="#d9d9d9"/>
<circle cx="77.48" cy="341.48" r="2.0" fill="#d9d9d9"/>
<circle cx="95.47" cy="329.98" r="2.0" fill="#d9d9d9"/>
<circle cx="81.64" cy="317.37" r="2.0" fill="#d9d9d9"/>
<circle cx="86.12" cy="333.26" r="2.0" fill="#d9d9d9"/>
<circle cx="77.54" cy="343.74" r="2.0" fill="#d9d9d9"/>
<circle cx="95.08" cy="348.35" r="2.0" fill="#d9d9d9"/>
<circle cx="73.47" cy="327.06" r="2.0" fill="#d9d9d9"/>
<circle cx="68.12" cy="332.60" r="2.0" fill="#d9d9d9"/>
<circle cx="83.46" cy="346.81" r="2.0" fill="#d9d9d9"/>
<circle cx="92.88" cy="331.54" r="2.0" fill="#d9d9d9"/>
<circle cx="84.14" cy="337.41" r="2.0" fill="#d9d9d9"/>
<circle cx="79.78" cy="324.31" r="2.0" fill="#d9d9d9"/>
<circle cx="86.78" cy="324.04" r="2.0" fill="#d9d9d9"/>
<circle cx="84.41" cy="313.96" r="2.0" fill="#d9d9d9"/>
<circle cx="79.27" cy="326.04" r="2.0" fill="#d9d9d9"/>
<circle cx="85.64" cy="332.96" r="2.0" fill="#d9d9d9"/>
<circle cx="96.50" cy="348.58" r="2.0" fill="#d9d9d9"/>
<circle cx="83.10" cy="327.61" r="2.0" fill="#d9d9d9"/>
<circle cx="78.21" cy="331.21" r="2.0" fill="#d9d9d9"/>
<circle cx="94.67" cy="330.50" r="2.0" fill="#d9d9d9"/>
<circle cx="90.03" cy="342.82" r="2.0" fill="#d9d9d9"/>
<circle cx="80.85" cy="316.26" r="2.0" fill="#d9d9d9"/>
<circle cx="76.39" cy="330.46" r="2.0" fill="#d9d9d9"/>
<circle cx="83.72" cy="317.52" r="2.0" fill="#d9d9d9"/>
<circle cx="72.72" cy="335.20" r="2.0" fill="#d9d9d9"/>
<circle cx="87.07" cy="324.13" r="2.0" fill="#d9d9d9"/>
<circle cx="93.36" cy="322.27" r="2.0" fill="#d9d9d9"/>
<circle cx="76.88" cy="343.69" r="2.0" fill="#d9d9d9"/>
<circle cx="131.05" cy="330.09" r="2.0" fill="#d9d9d9"/>
<circle cx="113.21" cy="319.87" r="2.0" fill="#d9d9d9"/>
<circle cx="111.38" cy="335.57" r="2.0" fill="#d9d9d9"/>
<circle cx="112.01" cy="321.35" r="2.0" fill="#d9d9d9"/>
<circle cx="118.99" cy="332.93" r="2.0" fill="#d9d9d9"/>
<circle cx="116.41" cy="295.97" r="2.0" fill="#d9d9d9"/>
<circle cx="120.18" cy="316.99" r="2.0" fill="#d9d9d9"/>
<circle cx="106.21" cy="345.85" r="2.0" fill="#d9d9d9"/>
<circle cx="145.37" cy="338.95" r="2.0" fill="#d9d9d9"/>
<circle cx="118.11" cy="326.15" r="2.0" fill="#d9d9d9"/>
<circle cx="122.05" cy="333.11" r="2.0" fill="#d9d9d9"/>
<circle cx="114.34" cy="308.55" r="2.0" fill="#d9d9d9"/>
<circle cx="112.14" cy="311.50" r="2.0" fill="#d9d9d9"/>
<circle cx="112.74" cy="348.29" r="2.0" fill="#d9d9d9"/>
<circle cx="117.51" cy="323.69" r="2.0" fill="#d9d9d9"/>
<circle cx="121.86" cy="314.19" r="2.0" fill="#d9d9d9"/>
<circle cx="115.42" cy="301.47" r="2.0" fill="#d9d9d9"/>
<circle cx="117.19" cy="304.23" r="2.0" fill="#d9d9d9"/>
<circle cx="116.55" cy="340.10" r="2.0" fill="#d9d9d9"/>
<circle cx="142.50" cy="338.30" r="2.0" fill="#d9d9d9"/>
<circle cx="114.61" cy="317.16" r="2.0" fill="#d9d9d9"/>
<circle cx="110.20" cy="332.39" r="2.0" fill="#d9d9d9"/>
<circle cx="116.14" cy="343.98" r="2.0" fill="#d9d9d9"/>
<circle cx="115.48" cy="326.49" r="2.0" fill="#d9d9d9"/>
<circle cx="113.93" cy="342.34" r="2.0" fill="#d9d9d9"/>
<circle cx="118.43" cy="313.40" r="2.0" fill="#d9d9d9"/>
<circle cx="114.57" cy="297.57" r="2.0" fill="#d9d9d9"/>
<circle cx="122.67" cy="344.54" r="2.0" fill="#d9d9d9"/>
<circle cx="139.69" cy="342.97" r="2.0" fill="#d9d9d9"/>
<circle cx="120.30" cy="314.75" r="2.0" fill="#d9d9d9"/>
<circle cx="134.39" cy="331.95" r="2.0" fill="#d9d9d9"/>
<circle cx="115.58" cy="340.80" r="2.0" fill="#d9d9d9"/>
<circle cx="120.33" cy="327.73" r="2.0" fill="#d9d9d9"/>
<circle cx="113.27" cy="308.18" r="2.0" fill="#d9d9d9"/>
<circle cx="118.44" cy="328.30" r="2.0" fill="#d9d9d9"/>
<circle cx="112.43" cy="340.37" r="2.0" fill="#d9d9d9"/>
<circle cx="130.31" cy="333.00" r="2.0" fill="#d9d9d9"/>
<circle cx="115.87" cy="316.10" r="2.0" fill="#d9d9d9"/>
<circle cx="106.17" cy="341.25" r="2.0" fill="#d9d9d9"/>
<circle cx="115.40" cy="296.67" r="2.0" fill="#d9d9d9"/>
<circle cx="108.15" cy="331.68" r="2.0" fill="#d9d9d9"/>
<circle cx="122.23" cy="334.85" r="2.0" fill="#d9d9d9"/>
<circle cx="108.32" cy="346.78" r="2.0" fill="#d9d9d9"/>
<circle cx="123.62" cy="345.81" r="2.0" fill="#d9d9d9"/>
<circle cx="135.88" cy="334.32" r="2.0" fill="#d9d9d9"/>
<circle cx="127.64" cy="345.69" r="2.0" fill="#d9d9d9"/>
<circle cx="110.05" cy="335.72" r="2.0" fill="#d9d9d9"/>
<circle cx="129.23" cy="348.16" r="2.0" fill="#d9d9d9"/>
<circle cx="115.64" cy="293.56" r="2.0" fill="#d9d9d9"/>
<circle cx="120.59" cy="314.70" r="2.0" fill="#d9d9d9"/>
<circle cx="113.42" cy="308.63" r="2.0" fill="#d9d9d9"/>
<circle cx="110.45" cy="332.42" r="2.0" fill="#d9d9d9"/>
<circle cx="115.27" cy="320.92" r="2.0" fill="#d9d9d9"/>
<circle cx="124.58" cy="346.15" r="2.0" fill="#d9d9d9"/>
<circle cx="125.32" cy="335.97" r="2.0" fill="#d9d9d9"/>
<circle cx="117.45" cy="311.63" r="2.0" fill="#d9d9d9"/>
<circle cx="117.06" cy="301.83" r="2.0" fill="#d9d9d9"/>
<circle cx="112.89" cy="322.58" r="2.0" fill="#d9d9d9"/>
<circle cx="115.71" cy="304.76" r="2.0" fill="#d9d9d9"/>
<circle cx="139.67" cy="340.37" r="2.0" fill="#d9d9d9"/>
<circle cx="117.77" cy="301.14" r="2.0" fill="#d9d9d9"/>
<circle cx="133.43" cy="340.74" r="2.0" fill="#d9d9d9"/>
<circle cx="140.14" cy="339.82" r="2.0" fill="#d9d9d9"/>
<circle cx="112.65" cy="339.52" r="2.0" fill="#d9d9d9"/>
<circle cx="118.86" cy="312.11" r="2.0" fill="#d9d9d9"/>
<circle cx="132.97" cy="339.18" r="2.0" fill="#d9d9d9"/>
<circle cx="136.52" cy="344.31" r="2.0" fill="#d9d9d9"/>
<circle cx="117.92" cy="324.87" r="2.0" fill="#d9d9d9"/>
<circle cx="111.69" cy="316.59" r="2.0" fill="#d9d9d9"/>
<circle cx="112.94" cy="333.38" r="2.0" fill="#d9d9d9"/>
<circle cx="143.37" cy="337.22" r="2.0" fill="#d9d9d9"/>
<circle cx="124.29" cy="329.97" r="2.0" fill="#d9d9d9"/>
<circle cx="142.03" cy="344.24" r="2.0" fill="#d9d9d9"/>
<circle cx="124.50" cy="323.80" r="2.0" fill="#d9d9d9"/>
<circle cx="125.29" cy="348.28" r="2.0" fill="#d9d9d9"/>
<circle cx="145.82" cy="341.93" r="2.0" fill="#d9d9d9"/>
<circle cx="132.59" cy="338.67" r="2.0" fill="#d9d9d9"/>
<circle cx="130.36" cy="347.17" r="2.0" fill="#d9d9d9"/>
<circle cx="126.22" cy="328.84" r="2.0" fill="#d9d9d9"/>
<circle cx="117.91" cy="310.60" r="2.0" fill="#d9d9d9"/>
<circle cx="112.85" cy="330.72" r="2.0" fill="#d9d9d9"/>
<circle cx="112.47" cy="343.40" r="2.0" fill="#d9d9d9"/>
<circle cx="115.72" cy="319.36" r="2.0" fill="#d9d9d9"/>
<circle cx="127.70" cy="325.31" r="2.0" fill="#d9d9d9"/>
<circle cx="136.93" cy="335.41" r="2.0" fill="#d9d9d9"/>
<circle cx="109.45" cy="349.44" r="2.0" fill="#d9d9d9"/>
<circle cx="112.04" cy="347.60" r="2.0" fill="#d9d9d9"/>
<circle cx="129.99" cy="336.50" r="2.0" fill="#d9d9d9"/>
<circle cx="110.47" cy="336.57" r="2.0" fill="#d9d9d9"/>
<circle cx="117.94" cy="332.45" r="2.0" fill="#d9d9d9"/>
<circle cx="123.71" cy="343.32" r="2.0" fill="#d9d9d9"/>
<circle cx="132.65" cy="342.33" r="2.0" fill="#d9d9d9"/>
<circle cx="129.98" cy="345.05" r="2.0" fill="#d9d9d9"/>
<circle cx="121.28" cy="334.23" r="2.0" fill="#d9d9d9"/>
<circle cx="115.86" cy="301.59" r="2.0" fill="#d9d9d9"/>
<circle cx="124.66" cy="340.29" r="2.0" fill="#d9d9d9"/>
<circle cx="110.81" cy="342.52" r="2.0" fill="#d9d9d9"/>
<circle cx="128.86" cy="331.37" r="2.0" fill="#d9d9d9"/>
<circle cx="141.22" cy="346.93" r="2.0" fill="#d9d9d9"/>
<circle cx="111.11" cy="320.11" r="2.0" fill="#d9d9d9"/>
<circle cx="144.19" cy="338.03" r="2.0" fill="#d9d9d9"/>
<circle cx="122.18" cy="318.55" r="2.0" fill="#d9d9d9"/>
<circle cx="111.45" cy="340.71" r="2.0" fill="#d9d9d9"/>
<circle cx="122.22" cy="342.38" r="2.0" fill="#d9d9d9"/>
<circle cx="119.28" cy="302.98" r="2.0" fill="#d9d9d9"/>
<circle cx="120.73" cy="318.07" r="2.0" fill="#d9d9d9"/>
<circle cx="110.88" cy="330.26" r="2.0" fill="#d9d9d9"/>
<circle cx="116.69" cy="306.40" r="2.0" fill="#d9d9d9"/>
<circle cx="139.51" cy="342.34" r="2.0" fill="#d9d9d9"/>
<circle cx="117.10" cy="337.72" r="2.0" fill="#d9d9d9"/>
<circle cx="144.17" cy="346.32" r="2.0" fill="#d9d9d9"/>
<circle cx="139.16" cy="334.37" r="2.0" fill="#d9d9d9"/>
<circle cx="127.51" cy="328.11" r="2.0" fill="#d9d9d9"/>
<circle cx="120.25" cy="323.04" r="2.0" fill="#d9d9d9"/>
<circle cx="119.64" cy="309.39" r="2.0" fill="#d9d9d9"/>
<circle cx="114.95" cy="310.95" r="2.0" fill="#d9d9d9"/>
<circle cx="124.60" cy="324.12" r="2.0" fill="#d9d9d9"/>
<circle cx="118.05" cy="300.14" r="2.0" fill="#d9d9d9"/>
<circle cx="118.33" cy="333.60" r="2.0" fill="#d9d9d9"/>
<circle cx="129.45" cy="346.25" r="2.0" fill="#d9d9d9"/>
<circle cx="119.79" cy="345.27" r="2.0" fill="#d9d9d9"/>
<circle cx="112.39" cy="324.83" r="2.0" fill="#d9d9d9"/>
<circle cx="126.39" cy="343.95" r="2.0" fill="#d9d9d9"/>
<circle cx="116.83" cy="305.45" r="2.0" fill="#d9d9d9"/>
<circle cx="116.48" cy="332.26" r="2.0" fill="#d9d9d9"/>
<circle cx="114.20" cy="313.97" r="2.0" fill="#d9d9d9"/>
<circle cx="113.38" cy="326.17" r="2.0" fill="#d9d9d9"/>
<circle cx="113.21" cy="334.03" r="2.0" fill="#d9d9d9"/>
<circle cx="107.83" cy="338.57" r="2.0" fill="#d9d9d9"/>
<circle cx="128.79" cy="342.53" r="2.0" fill="#d9d9d9"/>
<circle cx="133.51" cy="345.37" r="2.0" fill="#d9d9d9"/>
<circle cx="113.92" cy="309.61" r="2.0" fill="#d9d9d9"/>
<circle cx="122.76" cy="330.74" r="2.0" fill="#d9d9d9"/>
<circle cx="126.84" cy="325.87" r="2.0" fill="#d9d9d9"/>
<circle cx="115.97" cy="317.80" r="2.0" fill="#d9d9d9"/>
<circle cx="110.73" cy="336.03" r="2.0" fill="#d9d9d9"/>
<circle cx="108.32" cy="338.84" r="2.0" fill="#d9d9d9"/>
<circle cx="123.58" cy="322.32" r="2.0" fill="#d9d9d9"/>
<circle cx="119.35" cy="334.46" r="2.0" fill="#d9d9d9"/>
<circle cx="116.01" cy="332.69" r="2.0" fill="#d9d9d9"/>
<circle cx="139.16" cy="336.56" r="2.0" fill="#d9d9d9"/>
<circle cx="118.36" cy="336.36" r="2.0" fill="#d9d9d9"/>
<circle cx="116.94" cy="321.40" r="2.0" fill="#d9d9d9"/>
<circle cx="134.22" cy="336.45" r="2.0" fill="#d9d9d9"/>
<circle cx="120.80" cy="349.37" r="2.0" fill="#d9d9d9"/>
<circle cx="114.65" cy="335.40" r="2.0" fill="#d9d9d9"/>
<circle cx="112.53" cy="346.38" r="2.0" fill="#d9d9d9"/>
<circle cx="112.33" cy="334.26" r="2.0" fill="#d9d9d9"/>
<circle cx="115.31" cy="348.94" r="2.0" fill="#d9d9d9"/>
<circle cx="127.05" cy="328.17" r="2.0" fill="#d9d9d9"/>
<circle cx="119.97" cy="338.03" r="2.0" fill="#d9d9d9"/>
<circle cx="115.74" cy="305.74" r="2.0" fill="#d9d9d9"/>
<circle cx="113.51" cy="335.55" r="2.0" fill="#d9d9d9"/>
<circle cx="143.73" cy="342.16" r="2.0" fill="#d9d9d9"/>
<circle cx="116.44" cy="335.09" r="2.0" fill="#d9d9d9"/>
<circle cx="119.38" cy="319.13" r="2.0" fill="#d9d9d9"/>
<circle cx="124.95" cy="324.75" r="2.0" fill="#d9d9d9"/>
<circle cx="139.92" cy="341.80" r="2.0" fill="#d9d9d9"/>
<circle cx="112.55" cy="341.84" r="2.0" fill="#d9d9d9"/>
<circle cx="111.93" cy="330.97" r="2.0" fill="#d9d9d9"/>
<circle cx="114.81" cy="315.83" r="2.0" fill="#d9d9d9"/>
<circle cx="126.93" cy="345.12" r="2.0" fill="#d9d9d9"/>
<circle cx="148.51" cy="342.99" r="2.0" fill="#d9d9d9"/>
<circle cx="129.34" cy="331.42" r="2.0" fill="#d9d9d9"/>
<circle cx="149.19" cy="342.44" r="2.0" fill="#d9d9d9"/>
<circle cx="118.78" cy="315.15" r="2.0" fill="#d9d9d9"/>
<circle cx="121.85" cy="314.60" r="2.0" fill="#d9d9d9"/>
<circle cx="115.23" cy="301.91" r="2.0" fill="#d9d9d9"/>
<circle cx="109.52" cy="340.58" r="2.0" fill="#d9d9d9"/>
<circle cx="140.11" cy="344.51" r="2.0" fill="#d9d9d9"/>
<circle cx="119.06" cy="328.77" r="2.0" fill="#d9d9d9"/>
<circle cx="138.38" cy="341.21" r="2.0" fill="#d9d9d9"/>
<circle cx="127.56" cy="325.54" r="2.0" fill="#d9d9d9"/>
<circle cx="133.03" cy="334.60" r="2.0" fill="#d9d9d9"/>
<circle cx="121.55" cy="332.73" r="2.0" fill="#d9d9d9"/>
<circle cx="122.22" cy="321.58" r="2.0" fill="#d9d9d9"/>
<circle cx="132.27" cy="330.63" r="2.0" fill="#d9d9d9"/>
<circle cx="118.95" cy="327.73" r="2.0" fill="#d9d9d9"/>
<circle cx="110.71" cy="345.64" r="2.0" fill="#d9d9d9"/>
<circle cx="128.36" cy="338.80" r="2.0" fill="#d9d9d9"/>
<circle cx="115.13" cy="300.34" r="2.0" fill="#d9d9d9"/>
<circle cx="133.54" cy="339.65" r="2.0" fill="#d9d9d9"/>
<circle cx="145.15" cy="342.07" r="2.0" fill="#d9d9d9"/>
<circle cx="142.31" cy="339.07" r="2.0" fill="#d9d9d9"/>
<circle cx="115.72" cy="296.17" r="2.0" fill="#d9d9d9"/>
<circle cx="120.53" cy="338.19" r="2.0" fill="#d9d9d9"/>
<circle cx="140.76" cy="335.53" r="2.0" fill="#d9d9d9"/>
<circle cx="111.06" cy="330.81" r="2.0" fill="#d9d9d9"/>
<circle cx="121.01" cy="321.24" r="2.0" fill="#d9d9d9"/>
<circle cx="115.08" cy="312.25" r="2.0" fill="#d9d9d9"/>
<circle cx="119.78" cy="312.87" r="2.0" fill="#d9d9d9"/>
<circle cx="112.37" cy="333.09" r="2.0" fill="#d9d9d9"/>
<circle cx="116.78" cy="309.44" r="2.0" fill="#d9d9d9"/>
<circle cx="115.28" cy="340.05" r="2.0" fill="#d9d9d9"/>
<circle cx="123.58" cy="337.54" r="2.0" fill="#d9d9d9"/>
<circle cx="121.02" cy="332.75" r="2.0" fill="#d9d9d9"/>
<circle cx="117.72" cy="314.48" r="2.0" fill="#d9d9d9"/>
<circle cx="133.89" cy="338.65" r="2.0" fill="#d9d9d9"/>
<circle cx="120.34" cy="313.12" r="2.0" fill="#d9d9d9"/>
<circle cx="130.70" cy="345.49" r="2.0" fill="#d9d9d9"/>
<circle cx="112.98" cy="348.28" r="2.0" fill="#d9d9d9"/>
<circle cx="107.44" cy="335.36" r="2.0" fill="#d9d9d9"/>
<circle cx="121.58" cy="321.55" r="2.0" fill="#d9d9d9"/>
<circle cx="126.94" cy="344.08" r="2.0" fill="#d9d9d9"/>
<circle cx="125.37" cy="340.37" r="2.0" fill="#d9d9d9"/>
<circle cx="123.20" cy="318.42" r="2.0" fill="#d9d9d9"/>
<circle cx="129.57" cy="336.15" r="2.0" fill="#d9d9d9"/>
<circle cx="108.24" cy="335.20" r="2.0" fill="#d9d9d9"/>
<circle cx="135.39" cy="332.66" r="2.0" fill="#d9d9d9"/>
<circle cx="141.61" cy="342.32" r="2.0" fill="#d9d9d9"/>
<circle cx="116.22" cy="308.78" r="2.0" fill="#d9d9d9"/>
<circle cx="115.88" cy="341.53" r="2.0" fill="#d9d9d9"/>
<circle cx="118.15" cy="342.01" r="2.0" fill="#d9d9d9"/>
<circle cx="140.93" cy="341.40" r="2.0" fill="#d9d9d9"/>
<circle cx="115.97" cy="302.12" r="2.0" fill="#d9d9d9"/>
<circle cx="121.32" cy="317.85" r="2.0" fill="#d9d9d9"/>
<circle cx="126.60" cy="325.03" r="2.0" fill="#d9d9d9"/>
<circle cx="120.95" cy="338.09" r="2.0" fill="#d9d9d9"/>
<circle cx="113.37" cy="345.16" r="2.0" fill="#d9d9d9"/>
<circle cx="118.59" cy="321.98" r="2.0" fill="#d9d9d9"/>
<circle cx="122.93" cy="323.90" r="2.0" fill="#d9d9d9"/>
<circle cx="119.02" cy="306.41" r="2.0" fill="#d9d9d9"/>
<circle cx="136.74" cy="338.15" r="2.0" fill="#d9d9d9"/>
<circle cx="124.06" cy="328.36" r="2.0" fill="#d9d9d9"/>
<circle cx="106.44" cy="341.76" r="2.0" fill="#d9d9d9"/>
<circle cx="112.45" cy="345.34" r="2.0" fill="#d9d9d9"/>
<circle cx="129.90" cy="338.04" r="2.0" fill="#d9d9d9"/>
<circle cx="127.02" cy="330.43" r="2.0" fill="#d9d9d9"/>
<circle cx="113.87" cy="340.30" r="2.0" fill="#d9d9d9"/>
<circle cx="110.88" cy="345.07" r="2.0" fill="#d9d9d9"/>
<circle cx="108.56" cy="337.06" r="2.0" fill="#d9d9d9"/>
<circle cx="114.86" cy="324.92" r="2.0" fill="#d9d9d9"/>
<circle cx="118.80" cy="323.63" r="2.0" fill="#d9d9d9"/>
<circle cx="111.25" cy="344.71" r="2.0" fill="#d9d9d9"/>
<circle cx="119.06" cy="340.48" r="2.0" fill="#d9d9d9"/>
<circle cx="111.16" cy="337.96" r="2.0" fill="#d9d9d9"/>
<circle cx="125.47" cy="333.69" r="2.0" fill="#d9d9d9"/>
<circle cx="123.89" cy="330.73" r="2.0" fill="#d9d9d9"/>
<circle cx="109.44" cy="339.71" r="2.0" fill="#d9d9d9"/>
<circle cx="109.79" cy="345.40" r="2.0" fill="#d9d9d9"/>
<circle cx="120.14" cy="335.02" r="2.0" fill="#d9d9d9"/>
<circle cx="126.94" cy="345.79" r="2.0" fill="#d9d9d9"/>
<circle cx="145.10" cy="340.72" r="2.0" fill="#d9d9d9"/>
<circle cx="114.60" cy="345.48" r="2.0" fill="#d9d9d9"/>
<circle cx="121.36" cy="329.79" r="2.0" fill="#d9d9d9"/>
<circle cx="142.78" cy="342.41" r="2.0" fill="#d9d9d9"/>
<circle cx="108.51" cy="342.74" r="2.0" fill="#d9d9d9"/>
<circle cx="116.30" cy="291.86" r="2.0" fill="#d9d9d9"/>
<circle cx="122.21" cy="321.09" r="2.0" fill="#d9d9d9"/>
<circle cx="117.57" cy="343.43" r="2.0" fill="#d9d9d9"/>
<circle cx="114.91" cy="325.72" r="2.0" fill="#d9d9d9"/>
<circle cx="135.89" cy="338.88" r="2.0" fill="#d9d9d9"/>
<circle cx="119.87" cy="338.63" r="2.0" fill="#d9d9d9"/>
<circle cx="125.35" cy="345.25" r="2.0" fill="#d9d9d9"/>
<circle cx="114.26" cy="309.86" r="2.0" fill="#d9d9d9"/>
<circle cx="126.98" cy="336.76" r="2.0" fill="#d9d9d9"/>
<circle cx="132.83" cy="340.74" r="2.0" fill="#d9d9d9"/>
<circle cx="111.63" cy="347.94" r="2.0" fill="#d9d9d9"/>
<circle cx="135.01" cy="334.73" r="2.0" fill="#d9d9d9"/>
<circle cx="110.38" cy="339.71" r="2.0" fill="#d9d9d9"/>
<circle cx="147.12" cy="344.29" r="2.0" fill="#d9d9d9"/>
<circle cx="138.32" cy="339.95" r="2.0" fill="#d9d9d9"/>
<circle cx="124.14" cy="339.51" r="2.0" fill="#d9d9d9"/>
<circle cx="140.13" cy="342.25" r="2.0" fill="#d9d9d9"/>
<circle cx="117.89" cy="347.66" r="2.0" fill="#d9d9d9"/>
<circle cx="128.55" cy="346.76" r="2.0" fill="#d9d9d9"/>
<circle cx="109.51" cy="348.11" r="2.0" fill="#d9d9d9"/>
<circle cx="113.27" cy="317.47" r="2.0" fill="#d9d9d9"/>
<circle cx="115.04" cy="319.56" r="2.0" fill="#d9d9d9"/>
<circle cx="140.10" cy="337.62" r="2.0" fill="#d9d9d9"/>
<circle cx="135.47" cy="346.50" r="2.0" fill="#d9d9d9"/>
<circle cx="131.44" cy="340.18" r="2.0" fill="#d9d9d9"/>
<circle cx="109.27" cy="338.74" r="2.0" fill="#d9d9d9"/>
<circle cx="123.37" cy="326.29" r="2.0" fill="#d9d9d9"/>
<circle cx="113.99" cy="311.22" r="2.0" fill="#d9d9d9"/>
<circle cx="117.58" cy="295.28" r="2.0" fill="#d9d9d9"/>
<circle cx="116.61" cy="332.07" r="2.0" fill="#d9d9d9"/>
<circle cx="124.45" cy="329.66" r="2.0" fill="#d9d9d9"/>
<circle cx="116.63" cy="347.46" r="2.0" fill="#d9d9d9"/>
<circle cx="127.09" cy="347.35" r="2.0" fill="#d9d9d9"/>
<circle cx="112.88" cy="339.84" r="2.0" fill="#d9d9d9"/>
<circle cx="111.63" cy="321.63" r="2.0" fill="#d9d9d9"/>
<circle cx="129.51" cy="341.74" r="2.0" fill="#d9d9d9"/>
<circle cx="146.73" cy="343.63" r="2.0" fill="#d9d9d9"/>
<circle cx="121.41" cy="321.33" r="2.0" fill="#d9d9d9"/>
<circle cx="135.19" cy="344.43" r="2.0" fill="#d9d9d9"/>
<circle cx="138.60" cy="343.47" r="2.0" fill="#d9d9d9"/>
<circle cx="137.58" cy="334.99" r="2.0" fill="#d9d9d9"/>
<circle cx="110.47" cy="347.18" r="2.0" fill="#d9d9d9"/>
<circle cx="117.06" cy="335.75" r="2.0" fill="#d9d9d9"/>
<circle cx="117.54" cy="322.66" r="2.0" fill="#d9d9d9"/>
<circle cx="123.47" cy="348.69" r="2.0" fill="#d9d9d9"/>
<circle cx="133.91" cy="338.29" r="2.0" fill="#d9d9d9"/>
<circle cx="111.61" cy="324.51" r="2.0" fill="#d9d9d9"/>
<circle cx="142.03" cy="337.62" r="2.0" fill="#d9d9d9"/>
<circle cx="127.83" cy="342.64" r="2.0" fill="#d9d9d9"/>
<circle cx="111.63" cy="334.30" r="2.0" fill="#d9d9d9"/>
<circle cx="121.74" cy="348.02" r="2.0" fill="#d9d9d9"/>
<circle cx="118.37" cy="346.62" r="2.0" fill="#d9d9d9"/>
<circle cx="113.24" cy="309.25" r="2.0" fill="#d9d9d9"/>
<circle cx="116.12" cy="313.64" r="2.0" fill="#d9d9d9"/>
<circle cx="121.86" cy="347.82" r="2.0" fill="#d9d9d9"/>
<circle cx="116.42" cy="302.24" r="2.0" fill="#d9d9d9"/>
<circle cx="111.16" cy="335.42" r="2.0" fill="#d9d9d9"/>
<circle cx="125.74" cy="323.52" r="2.0" fill="#d9d9d9"/>
<circle cx="134.91" cy="335.16" r="2.0" fill="#d9d9d9"/>
<circle cx="116.81" cy="311.76" r="2.0" fill="#d9d9d9"/>
<circle cx="117.41" cy="327.81" r="2.0" fill="#d9d9d9"/>
<circle cx="116.10" cy="336.28" r="2.0" fill="#d9d9d9"/>
<circle cx="115.35" cy="294.19" r="2.0" fill="#d9d9d9"/>
<circle cx="129.32" cy="335.22" r="2.0" fill="#d9d9d9"/>
<circle cx="118.26" cy="328.69" r="2.0" fill="#d9d9d9"/>
<circle cx="135.89" cy="336.48" r="2.0" fill="#d9d9d9"/>
<circle cx="122.27" cy="346.42" r="2.0" fill="#d9d9d9"/>
<circle cx="122.18" cy="338.34" r="2.0" fill="#d9d9d9"/>
<circle cx="128.07" cy="330.16" r="2.0" fill="#d9d9d9"/>
<circle cx="123.12" cy="320.13" r="2.0" fill="#d9d9d9"/>
<circle cx="142.89" cy="337.31" r="2.0" fill="#d9d9d9"/>
<circle cx="134.96" cy="335.25" r="2.0" fill="#d9d9d9"/>
<circle cx="127.13" cy="343.90" r="2.0" fill="#d9d9d9"/>
<circle cx="136.45" cy="332.23" r="2.0" fill="#d9d9d9"/>
<circle cx="113.96" cy="303.43" r="2.0" fill="#d9d9d9"/>
<circle cx="108.50" cy="330.56" r="2.0" fill="#d9d9d9"/>
<circle cx="120.67" cy="331.97" r="2.0" fill="#d9d9d9"/>
<circle cx="107.51" cy="340.32" r="2.0" fill="#d9d9d9"/>
<circle cx="116.80" cy="293.55" r="2.0" fill="#d9d9d9"/>
<circle cx="124.61" cy="323.29" r="2.0" fill="#d9d9d9"/>
<circle cx="114.48" cy="327.77" r="2.0" fill="#d9d9d9"/>
<circle cx="119.78" cy="309.86" r="2.0" fill="#d9d9d9"/>
<circle cx="142.64" cy="338.52" r="2.0" fill="#d9d9d9"/>
<circle cx="122.53" cy="320.73" r="2.0" fill="#d9d9d9"/>
<circle cx="119.29" cy="349.18" r="2.0" fill="#d9d9d9"/>
<circle cx="135.47" cy="332.50" r="2.0" fill="#d9d9d9"/>
<circle cx="112.90" cy="314.17" r="2.0" fill="#d9d9d9"/>
<circle cx="117.14" cy="301.65" r="2.0" fill="#d9d9d9"/>
<circle cx="116.36" cy="323.62" r="2.0" fill="#d9d9d9"/>
<circle cx="138.44" cy="346.90" r="2.0" fill="#d9d9d9"/>
<circle cx="112.22" cy="311.32" r="2.0" fill="#d9d9d9"/>
<circle cx="145.37" cy="338.27" r="2.0" fill="#d9d9d9"/>
<circle cx="149.57" cy="344.70" r="2.0" fill="#d9d9d9"/>
<circle cx="115.74" cy="291.27" r="2.0" fill="#d9d9d9"/>
<circle cx="124.20" cy="333.94" r="2.0" fill="#d9d9d9"/>
<circle cx="121.79" cy="338.71" r="2.0" fill="#d9d9d9"/>
<circle cx="106.18" cy="343.34" r="2.0" fill="#d9d9d9"/>
<circle cx="119.01" cy="327.47" r="2.0" fill="#d9d9d9"/>
<circle cx="115.35" cy="344.35" r="2.0" fill="#d9d9d9"/>
<circle cx="113.36" cy="317.38" r="2.0" fill="#d9d9d9"/>
<circle cx="131.02" cy="328.18" r="2.0" fill="#d9d9d9"/>
<circle cx="122.53" cy="330.37" r="2.0" fill="#d9d9d9"/>
<circle cx="133.95" cy="331.52" r="2.0" fill="#d9d9d9"/>
<circle cx="122.17" cy="337.28" r="2.0" fill="#d9d9d9"/>
<circle cx="108.50" cy="348.57" r="2.0" fill="#d9d9d9"/>
<circle cx="134.97" cy="345.82" r="2.0" fill="#d9d9d9"/>
<circle cx="133.45" cy="345.16" r="2.0" fill="#d9d9d9"/>
<circle cx="116.24" cy="299.20" r="2.0" fill="#d9d9d9"/>
<circle cx="108.95" cy="348.39" r="2.0" fill="#d9d9d9"/>
<circle cx="140.24" cy="343.38" r="2.0" fill="#d9d9d9"/>
<circle cx="117.53" cy="313.82" r="2.0" fill="#d9d9d9"/>
<circle cx="109.79" cy="329.00" r="2.0" fill="#d9d9d9"/>
<circle cx="113.69" cy="315.74" r="2.0" fill="#d9d9d9"/>
<circle cx="109.26" cy="348.59" r="2.0" fill="#d9d9d9"/>
<circle cx="108.51" cy="333.81" r="2.0" fill="#d9d9d9"/>
<circle cx="143.12" cy="340.90" r="2.0" fill="#d9d9d9"/>
<circle cx="118.06" cy="335.75" r="2.0" fill="#d9d9d9"/>
<circle cx="110.97" cy="326.39" r="2.0" fill="#d9d9d9"/>
<circle cx="109.41" cy="331.55" r="2.0" fill="#d9d9d9"/>
<circle cx="132.18" cy="328.91" r="2.0" fill="#d9d9d9"/>
<circle cx="140.68" cy="344.77" r="2.0" fill="#d9d9d9"/>
<circle cx="117.96" cy="310.91" r="2.0" fill="#d9d9d9"/>
<circle cx="124.48" cy="348.85" r="2.0" fill="#d9d9d9"/>
<circle cx="134.15" cy="345.93" r="2.0" fill="#d9d9d9"/>
<circle cx="139.11" cy="340.21" r="2.0" fill="#d9d9d9"/>
<circle cx="116.76" cy="304.98" r="2.0" fill="#d9d9d9"/>
<circle cx="114.77" cy="343.18" r="2.0" fill="#d9d9d9"/>
<circle cx="139.49" cy="336.50" r="2.0" fill="#d9d9d9"/>
<circle cx="144.95" cy="337.68" r="2.0" fill="#d9d9d9"/>
<circle cx="128.81" cy="347.94" r="2.0" fill="#d9d9d9"/>
<circle cx="111.58" cy="321.86" r="2.0" fill="#d9d9d9"/>
<circle cx="113.93" cy="307.24" r="2.0" fill="#d9d9d9"/>
<circle cx="116.12" cy="332.95" r="2.0" fill="#d9d9d9"/>
<circle cx="184.54" cy="339.94" r="2.0" fill="#d9d9d9"/>
<circle cx="159.71" cy="345.56" r="2.0" fill="#d9d9d9"/>
<circle cx="171.08" cy="346.21" r="2.0" fill="#d9d9d9"/>
<circle cx="173.89" cy="340.73" r="2.0" fill="#d9d9d9"/>
<circle cx="151.57" cy="338.30" r="2.0" fill="#d9d9d9"/>
<circle cx="171.10" cy="340.30" r="2.0" fill="#d9d9d9"/>
<circle cx="151.68" cy="348.61" r="2.0" fill="#d9d9d9"/>
<circle cx="168.95" cy="344.50" r="2.0" fill="#d9d9d9"/>
<circle cx="169.53" cy="344.58" r="2.0" fill="#d9d9d9"/>
<circle cx="171.27" cy="341.34" r="2.0" fill="#d9d9d9"/>
<circle cx="142.88" cy="338.74" r="2.0" fill="#d9d9d9"/>
<circle cx="140.65" cy="341.98" r="2.0" fill="#d9d9d9"/>
<circle cx="146.40" cy="339.24" r="2.0" fill="#d9d9d9"/>
<circle cx="162.22" cy="348.66" r="2.0" fill="#d9d9d9"/>
<circle cx="170.94" cy="341.01" r="2.0" fill="#d9d9d9"/>
<circle cx="174.62" cy="339.96" r="2.0" fill="#d9d9d9"/>
<circle cx="144.50" cy="341.33" r="2.0" fill="#d9d9d9"/>
<circle cx="158.40" cy="345.58" r="2.0" fill="#d9d9d9"/>
<circle cx="160.02" cy="346.01" r="2.0" fill="#d9d9d9"/>
<circle cx="144.27" cy="348.26" r="2.0" fill="#d9d9d9"/>
<circle cx="155.41" cy="347.16" r="2.0" fill="#d9d9d9"/>
<circle cx="141.38" cy="347.12" r="2.0" fill="#d9d9d9"/>
<circle cx="150.18" cy="347.41" r="2.0" fill="#d9d9d9"/>
<circle cx="176.13" cy="345.38" r="2.0" fill="#d9d9d9"/>
<circle cx="152.49" cy="338.11" r="2.0" fill="#d9d9d9"/>
<circle cx="148.55" cy="347.95" r="2.0" fill="#d9d9d9"/>
<circle cx="147.11" cy="345.25" r="2.0" fill="#d9d9d9"/>
<circle cx="166.41" cy="345.27" r="2.0" fill="#d9d9d9"/>
<circle cx="148.13" cy="339.58" r="2.0" fill="#d9d9d9"/>
<circle cx="144.37" cy="348.81" r="2.0" fill="#d9d9d9"/>
<circle cx="120.40" cy="254.40" r="2.0" fill="#d9d9d9"/>
<circle cx="117.90" cy="264.40" r="2.0" fill="#d9d9d9"/>
<circle cx="113.90" cy="290.40" r="2.0" fill="#d9d9d9"/>
<circle cx="57.40" cy="339.90" r="2.0" fill="#d9d9d9"/>
<circle cx="87.60" cy="293.10" r="2.0" fill="#d9d9d9"/>
<circle cx="90.10" cy="296.70" r="2.0" fill="#d9d9d9"/>
<circle cx="85.50" cy="303.00" r="2.0" fill="#d9d9d9"/>
<circle cx="93.50" cy="310.30" r="2.0" fill="#d9d9d9"/>
<circle cx="89.70" cy="310.70" r="2.0" fill="#d9d9d9"/>
<circle cx="157.00" cy="336.80" r="2.0" fill="#d9d9d9"/>
<circle cx="177.10" cy="337.80" r="2.0" fill="#d9d9d9"/>
<circle cx="187.10" cy="335.70" r="2.0" fill="#d9d9d9"/>
<circle cx="223.50" cy="333.20" r="2.0" fill="#d9d9d9"/>
<circle cx="150.50" cy="335.70" r="2.0" fill="#d9d9d9"/>
<circle cx="145.80" cy="341.20" r="2.0" fill="#d9d9d9"/>
<circle cx="157.20" cy="336.40" r="2.0" fill="#d9d9d9"/>
<circle cx="177.60" cy="337.40" r="2.0" fill="#d9d9d9"/>
<circle cx="186.80" cy="335.40" r="2.0" fill="#d9d9d9"/>
<circle cx="58.10" cy="339.50" r="2.0" fill="#d9d9d9"/>
<circle cx="155.00" cy="342.00" r="2.0" fill="#d9d9d9"/>
<circle cx="160.00" cy="344.00" r="2.0" fill="#d9d9d9"/>
<circle cx="165.00" cy="346.00" r="2.0" fill="#d9d9d9"/>
<circle cx="170.00" cy="347.00" r="2.0" fill="#d9d9d9"/>
<circle cx="48.60" cy="198.20" r="2.0" fill="#3a3a3a"/>
<circle cx="75.50" cy="198.20" r="2.0" fill="#3a3a3a"/>
<circle cx="82.40" cy="238.20" r="2.0" fill="#3a3a3a"/>
<circle cx="77.20" cy="271.20" r="2.0" fill="#3a3a3a"/>
<circle cx="84.10" cy="272.30" r="2.0" fill="#3a3a3a"/>
<circle cx="72.00" cy="281.70" r="2.0" fill="#3a3a3a"/>
<circle cx="80.30" cy="280.00" r="2.0" fill="#3a3a3a"/>
<circle cx="69.50" cy="285.80" r="2.0" fill="#3a3a3a"/>
<circle cx="73.40" cy="288.80" r="2.0" fill="#3a3a3a"/>
<circle cx="81.40" cy="285.80" r="2.0" fill="#3a3a3a"/>
<circle cx="82.40" cy="291.90" r="2.0" fill="#3a3a3a"/>
<circle cx="79.30" cy="299.80" r="2.0" fill="#3a3a3a"/>
<circle cx="64.70" cy="306.10" r="2.0" fill="#3a3a3a"/>
<circle cx="72.60" cy="310.30" r="2.0" fill="#3a3a3a"/>
<circle cx="78.90" cy="309.20" r="2.0" fill="#3a3a3a"/>
<circle cx="81.00" cy="311.70" r="2.0" fill="#3a3a3a"/>
<circle cx="66.80" cy="319.20" r="2.0" fill="#3a3a3a"/>
<circle cx="50.70" cy="318.00" r="2.0" fill="#3a3a3a"/>
<circle cx="48.60" cy="321.10" r="2.0" fill="#3a3a3a"/>
<circle cx="40.00" cy="332.20" r="2.0" fill="#3a3a3a"/>
<circle cx="75.10" cy="322.80" r="2.0" fill="#3a3a3a"/>
<circle cx="79.70" cy="320.30" r="2.0" fill="#3a3a3a"/>
<circle cx="82.40" cy="321.10" r="2.0" fill="#3a3a3a"/>
<circle cx="72.60" cy="327.00" r="2.0" fill="#3a3a3a"/>
<circle cx="76.10" cy="328.60" r="2.0" fill="#3a3a3a"/>
<circle cx="79.70" cy="329.00" r="2.0" fill="#3a3a3a"/>
<circle cx="81.40" cy="326.50" r="2.0" fill="#3a3a3a"/>
<circle cx="77.20" cy="325.50" r="2.0" fill="#3a3a3a"/>
<circle cx="70.90" cy="330.70" r="2.0" fill="#3a3a3a"/>
<circle cx="131.40" cy="198.30" r="2.0" fill="#3a3a3a"/>
<circle cx="138.40" cy="198.30" r="2.0" fill="#3a3a3a"/>
<circle cx="143.30" cy="198.30" r="2.0" fill="#3a3a3a"/>
<circle cx="126.80" cy="233.30" r="2.0" fill="#3a3a3a"/>
<circle cx="129.50" cy="231.10" r="2.0" fill="#3a3a3a"/>
<circle cx="135.20" cy="236.90" r="2.0" fill="#3a3a3a"/>
<circle cx="136.30" cy="247.00" r="2.0" fill="#3a3a3a"/>
<circle cx="124.60" cy="252.30" r="2.0" fill="#3a3a3a"/>
<circle cx="124.60" cy="254.40" r="2.0" fill="#3a3a3a"/>
<circle cx="125.30" cy="260.10" r="2.0" fill="#3a3a3a"/>
<circle cx="127.80" cy="264.40" r="2.0" fill="#3a3a3a"/>
<circle cx="120.40" cy="270.70" r="2.0" fill="#3a3a3a"/>
<circle cx="128.90" cy="273.90" r="2.0" fill="#3a3a3a"/>
<circle cx="140.50" cy="291.90" r="2.0" fill="#3a3a3a"/>
<circle cx="156.40" cy="292.50" r="2.0" fill="#3a3a3a"/>
<circle cx="190.90" cy="312.00" r="2.0" fill="#3a3a3a"/>
<circle cx="225.20" cy="321.10" r="2.0" fill="#3a3a3a"/>
<circle cx="164.40" cy="309.30" r="2.0" fill="#3a3a3a"/>
<circle cx="159.60" cy="313.70" r="2.0" fill="#3a3a3a"/>
<circle cx="122.40" cy="290.40" r="2.0" fill="#3a3a3a"/>
<circle cx="125.50" cy="292.50" r="2.0" fill="#3a3a3a"/>
<circle cx="128.60" cy="290.40" r="2.0" fill="#3a3a3a"/>
<circle cx="121.40" cy="295.50" r="2.0" fill="#3a3a3a"/>
<circle cx="126.50" cy="296.20" r="2.0" fill="#3a3a3a"/>
<circle cx="125.50" cy="298.60" r="2.0" fill="#3a3a3a"/>
<circle cx="128.60" cy="299.60" r="2.0" fill="#3a3a3a"/>
<circle cx="122.40" cy="303.70" r="2.0" fill="#3a3a3a"/>
<circle cx="126.50" cy="302.70" r="2.0" fill="#3a3a3a"/>
<circle cx="122.40" cy="309.90" r="2.0" fill="#3a3a3a"/>
<circle cx="125.50" cy="311.90" r="2.0" fill="#3a3a3a"/>
<circle cx="122.40" cy="317.00" r="2.0" fill="#3a3a3a"/>
<circle cx="125.50" cy="319.00" r="2.0" fill="#3a3a3a"/>
<circle cx="122.40" cy="323.10" r="2.0" fill="#3a3a3a"/>
<circle cx="130.60" cy="313.90" r="2.0" fill="#3a3a3a"/>
<circle cx="132.70" cy="316.00" r="2.0" fill="#3a3a3a"/>
<circle cx="129.60" cy="318.00" r="2.0" fill="#3a3a3a"/>
<circle cx="127.60" cy="329.30" r="2.0" fill="#3a3a3a"/>
<circle cx="130.60" cy="330.30" r="2.0" fill="#3a3a3a"/>
<circle cx="140.80" cy="274.10" r="2.0" fill="#3a3a3a"/>
<circle cx="141.90" cy="279.80" r="2.0" fill="#3a3a3a"/>
<circle cx="140.40" cy="291.50" r="2.0" fill="#3a3a3a"/>
<circle cx="144.90" cy="321.10" r="2.0" fill="#3a3a3a"/>
<circle cx="147.00" cy="324.20" r="2.0" fill="#3a3a3a"/>
<circle cx="151.10" cy="319.00" r="2.0" fill="#3a3a3a"/>
<circle cx="156.20" cy="292.50" r="2.0" fill="#3a3a3a"/>
<circle cx="159.20" cy="313.90" r="2.0" fill="#3a3a3a"/>
<circle cx="164.30" cy="308.80" r="2.0" fill="#3a3a3a"/>
<circle cx="124.21" cy="320.87" r="2.0" fill="#3a3a3a"/>
<circle cx="126.27" cy="307.14" r="2.0" fill="#3a3a3a"/>
<circle cx="120.71" cy="300.47" r="2.0" fill="#3a3a3a"/>
<circle cx="129.38" cy="304.16" r="2.0" fill="#3a3a3a"/>
<circle cx="130.59" cy="311.64" r="2.0" fill="#3a3a3a"/>
<circle cx="127.95" cy="304.43" r="2.0" fill="#3a3a3a"/>
<circle cx="128.67" cy="308.05" r="2.0" fill="#3a3a3a"/>
<circle cx="124.03" cy="316.74" r="2.0" fill="#3a3a3a"/>
<circle cx="215.00" cy="264.80" r="2.0" fill="#d42127"/>
<circle cx="199.40" cy="252.30" r="2.0" fill="#d42127"/>
<circle cx="215.00" cy="254.90" r="2.0" fill="#d42127"/>
<circle cx="211.00" cy="259.90" r="2.0" fill="#d42127"/>
<circle cx="226.20" cy="272.80" r="2.0" fill="#d42127"/>
<circle cx="170.60" cy="280.30" r="2.0" fill="#d42127"/>
<circle cx="188.80" cy="272.80" r="2.0" fill="#d42127"/>
<circle cx="214.20" cy="283.60" r="2.0" fill="#d42127"/>
<circle cx="133.50" cy="290.80" r="2.0" fill="#d42127"/>
<circle cx="175.90" cy="294.40" r="2.0" fill="#d42127"/>
<circle cx="134.20" cy="309.90" r="2.0" fill="#d42127"/>
<circle cx="142.00" cy="319.00" r="2.0" fill="#d42127"/>
<circle cx="217.80" cy="316.20" r="2.0" fill="#d42127"/>
<circle cx="141.10" cy="271.40" r="2.0" fill="#d42127"/>
<circle cx="158.10" cy="275.60" r="2.0" fill="#d42127"/>
<circle cx="178.60" cy="279.80" r="2.0" fill="#d42127"/>
<circle cx="168.00" cy="287.00" r="2.0" fill="#d42127"/>
<circle cx="226.20" cy="282.00" r="2.0" fill="#d42127"/>
<circle cx="140.50" cy="286.20" r="2.0" fill="#d42127"/>
<circle cx="167.00" cy="297.80" r="2.0" fill="#d42127"/>
<circle cx="174.40" cy="308.80" r="2.0" fill="#d42127"/>
<circle cx="185.00" cy="307.10" r="2.0" fill="#d42127"/>
<circle cx="189.80" cy="307.80" r="2.0" fill="#d42127"/>
<circle cx="198.70" cy="309.30" r="2.0" fill="#d42127"/>
<circle cx="204.00" cy="319.40" r="2.0" fill="#d42127"/>
<circle cx="194.50" cy="322.20" r="2.0" fill="#d42127"/>
<circle cx="197.20" cy="325.80" r="2.0" fill="#d42127"/>
<circle cx="180.70" cy="313.70" r="2.0" fill="#d42127"/>
<circle cx="179.30" cy="318.40" r="2.0" fill="#d42127"/>
<circle cx="173.70" cy="317.90" r="2.0" fill="#d42127"/>
<circle cx="173.70" cy="322.60" r="2.0" fill="#d42127"/>
<circle cx="175.00" cy="326.40" r="2.0" fill="#d42127"/>
<circle cx="154.70" cy="313.50" r="2.0" fill="#d42127"/>
<circle cx="156.40" cy="308.40" r="2.0" fill="#d42127"/>
<circle cx="158.10" cy="323.00" r="2.0" fill="#d42127"/>
<circle cx="164.90" cy="321.50" r="2.0" fill="#d42127"/>
<circle cx="150.00" cy="329.00" r="2.0" fill="#d42127"/>
<circle cx="146.90" cy="323.70" r="2.0" fill="#d42127"/>
<circle cx="127.60" cy="302.70" r="2.0" fill="#d42127"/>
<circle cx="123.50" cy="316.00" r="2.0" fill="#d42127"/>
<circle cx="123.50" cy="322.10" r="2.0" fill="#d42127"/>
<circle cx="122.40" cy="329.30" r="2.0" fill="#d42127"/>
<circle cx="124.50" cy="331.30" r="2.0" fill="#d42127"/>
<circle cx="127.60" cy="329.30" r="2.0" fill="#d42127"/>
<circle cx="134.70" cy="309.90" r="2.0" fill="#d42127"/>
<circle cx="135.70" cy="313.90" r="2.0" fill="#d42127"/>
<circle cx="132.30" cy="312.90" r="2.0" fill="#d42127"/>
<circle cx="128.60" cy="312.90" r="2.0" fill="#d42127"/>
<circle cx="138.80" cy="319.00" r="2.0" fill="#d42127"/>
<circle cx="140.80" cy="321.10" r="2.0" fill="#d42127"/>
<circle cx="136.70" cy="328.20" r="2.0" fill="#d42127"/>
<circle cx="139.80" cy="330.30" r="2.0" fill="#d42127"/>
<circle cx="142.90" cy="328.20" r="2.0" fill="#d42127"/>
<circle cx="140.80" cy="331.30" r="2.0" fill="#d42127"/>
<circle cx="145.90" cy="330.30" r="2.0" fill="#d42127"/>
<circle cx="149.00" cy="329.30" r="2.0" fill="#d42127"/>
<circle cx="150.00" cy="323.10" r="2.0" fill="#d42127"/>
<circle cx="142.90" cy="313.90" r="2.0" fill="#d42127"/>
<circle cx="151.10" cy="307.80" r="2.0" fill="#d42127"/>
<circle cx="154.70" cy="313.90" r="2.0" fill="#d42127"/>
<circle cx="156.80" cy="321.10" r="2.0" fill="#d42127"/>
<circle cx="159.20" cy="325.20" r="2.0" fill="#d42127"/>
<circle cx="165.40" cy="321.10" r="2.0" fill="#d42127"/>
<circle cx="175.60" cy="309.90" r="2.0" fill="#d42127"/>
<circle cx="174.60" cy="317.00" r="2.0" fill="#d42127"/>
<circle cx="179.70" cy="313.90" r="2.0" fill="#d42127"/>
<circle cx="173.50" cy="322.10" r="2.0" fill="#d42127"/>
<circle cx="174.60" cy="325.20" r="2.0" fill="#d42127"/>
<circle cx="189.90" cy="307.80" r="2.0" fill="#d42127"/>
<circle cx="184.80" cy="306.80" r="2.0" fill="#d42127"/>
<circle cx="140.80" cy="285.90" r="2.0" fill="#d42127"/>
<circle cx="133.70" cy="290.40" r="2.0" fill="#d42127"/>
<circle cx="157.20" cy="275.10" r="2.0" fill="#d42127"/>
<circle cx="167.00" cy="286.30" r="2.0" fill="#d42127"/>
<circle cx="166.40" cy="297.60" r="2.0" fill="#d42127"/>
<circle cx="170.50" cy="279.20" r="2.0" fill="#d42127"/>
<circle cx="177.60" cy="279.80" r="2.0" fill="#d42127"/>
<circle cx="188.90" cy="272.50" r="2.0" fill="#d42127"/>
<circle cx="175.60" cy="294.50" r="2.0" fill="#d42127"/>
<circle cx="194.00" cy="321.10" r="2.0" fill="#d42127"/>
<circle cx="122.00" cy="324.23" r="2.0" fill="#d42127"/>
<circle cx="143.96" cy="326.00" r="2.0" fill="#d42127"/>
<circle cx="124.43" cy="328.88" r="2.0" fill="#d42127"/>
<circle cx="138.24" cy="325.36" r="2.0" fill="#d42127"/>
<circle cx="122.97" cy="325.46" r="2.0" fill="#d42127"/>
<circle cx="139.65" cy="328.49" r="2.0" fill="#d42127"/>
<circle cx="125.25" cy="329.83" r="2.0" fill="#d42127"/>
<circle cx="136.51" cy="328.65" r="2.0" fill="#d42127"/>
<circle cx="128.53" cy="324.11" r="2.0" fill="#d42127"/>
<circle cx="136.29" cy="327.07" r="2.0" fill="#d42127"/>
<circle cx="122.04" cy="326.14" r="2.0" fill="#d42127"/>
<circle cx="143.12" cy="324.66" r="2.0" fill="#d42127"/>
<line x1="191.30" y1="233.70" x2="198.90" y2="252.30" stroke="#d42127" stroke-width="0.9"/>
<line x1="222.40" y1="233.70" x2="215.70" y2="253.80" stroke="#d42127" stroke-width="0.9"/>
<line x1="207.20" y1="247.90" x2="210.80" y2="259.50" stroke="#d42127" stroke-width="0.9"/>
<line x1="222.00" y1="262.30" x2="225.80" y2="272.20" stroke="#d42127" stroke-width="0.9"/>
<line x1="155.30" y1="261.20" x2="170.10" y2="279.80" stroke="#d42127" stroke-width="0.9"/>
<line x1="188.10" y1="262.30" x2="188.60" y2="272.20" stroke="#d42127" stroke-width="0.9"/>
<line x1="212.50" y1="276.00" x2="214.20" y2="282.80" stroke="#d42127" stroke-width="0.9"/>
<line x1="134.60" y1="281.30" x2="133.50" y2="290.20" stroke="#d42127" stroke-width="0.9"/>
<line x1="185.60" y1="287.70" x2="176.50" y2="294.00" stroke="#d42127" stroke-width="0.9"/>
<line x1="140.10" y1="301.90" x2="134.60" y2="309.50" stroke="#d42127" stroke-width="0.9"/>
<line x1="149.00" y1="308.80" x2="142.60" y2="318.40" stroke="#d42127" stroke-width="0.9"/>
<line x1="223.10" y1="304.60" x2="218.20" y2="315.60" stroke="#d42127" stroke-width="0.9"/>
<text x="183.50" y="233.05" font-size="7.4" text-anchor="start" fill="#000" stroke="#000" stroke-width="0.1">IFIT1</text>
<text x="218.40" y="233.05" font-size="7.4" text-anchor="start" fill="#000" stroke="#000" stroke-width="0.1">OAS2</text>
<text x="201.50" y="247.25" font-size="7.4" text-anchor="start" fill="#000" stroke="#000" stroke-width="0.1">MX1</text>
<text x="218.40" y="261.45" font-size="7.4" text-anchor="start" fill="#000" stroke="#000" stroke-width="0.1">OAS1</text>
<text x="148.60" y="260.95" font-size="7.4" text-anchor="start" fill="#000" stroke="#000" stroke-width="0.1">IRF7</text>
<text x="180.70" y="261.45" font-size="7.4" text-anchor="start" fill="#000" stroke="#000" stroke-width="0.1">IFIT3</text>
<text x="165.90" y="274.75" font-size="7.4" text-anchor="start" fill="#000" stroke="#000" stroke-width="0.1">IFI6</text>
<text x="205.10" y="275.35" font-size="7.4" text-anchor="start" fill="#000" stroke="#000" stroke-width="0.1">IFIT2</text>
<text x="117.70" y="281.05" font-size="7.4" text-anchor="start" fill="#000" stroke="#000" stroke-width="0.1">STAT1</text>
<text x="186.40" y="289.95" font-size="7.4" text-anchor="start" fill="#000" stroke="#000" stroke-width="0.1">ISG15</text>
<text x="137.30" y="301.65" font-size="7.4" text-anchor="start" fill="#000" stroke="#000" stroke-width="0.1">JAK2</text>
<text x="174.40" y="303.95" font-size="7.4" text-anchor="start" fill="#000" stroke="#000" stroke-width="0.1">OAS3</text>
<text x="219.50" y="303.95" font-size="7.4" text-anchor="start" fill="#000" stroke="#000" stroke-width="0.1">OASL</text>
<text x="142.60" y="307.55" font-size="7.4" text-anchor="start" fill="#000" stroke="#000" stroke-width="0.1">IRF1</text>
<text x="194.50" y="319.15" font-size="7.4" text-anchor="start" fill="#000" stroke="#000" stroke-width="0.1">BATF2</text>
<text x="34.80" y="206.95" font-size="7.4" text-anchor="start" fill="#000" stroke="#000" stroke-width="0.1">NORAD</text>
<line x1="30.80" y1="192.00" x2="30.80" y2="357.90" stroke="#4d4d4d" stroke-width="0.9"/>
<line x1="28.60" y1="350.60" x2="30.80" y2="350.60" stroke="#4d4d4d" stroke-width="0.8"/>
<text x="28.00" y="352.89" font-size="6.4" text-anchor="end" fill="#333" stroke="#333" stroke-width="0.1">0</text>
<line x1="28.60" y1="309.20" x2="30.80" y2="309.20" stroke="#4d4d4d" stroke-width="0.8"/>
<text x="28.00" y="311.49" font-size="6.4" text-anchor="end" fill="#333" stroke="#333" stroke-width="0.1">3</text>
<line x1="28.60" y1="267.50" x2="30.80" y2="267.50" stroke="#4d4d4d" stroke-width="0.8"/>
<text x="28.00" y="269.79" font-size="6.4" text-anchor="end" fill="#333" stroke="#333" stroke-width="0.1">6</text>
<line x1="28.60" y1="225.90" x2="30.80" y2="225.90" stroke="#4d4d4d" stroke-width="0.8"/>
<text x="28.00" y="228.19" font-size="6.4" text-anchor="end" fill="#333" stroke="#333" stroke-width="0.1">9</text>
<line x1="28.60" y1="198.20" x2="30.80" y2="198.20" stroke="#4d4d4d" stroke-width="0.8"/>
<text x="28.00" y="200.49" font-size="6.4" text-anchor="end" fill="#333" stroke="#333" stroke-width="0.1">&gt;10</text>
<line x1="30.80" y1="357.90" x2="237.60" y2="357.90" stroke="#4d4d4d" stroke-width="0.9"/>
<line x1="56.30" y1="357.90" x2="56.30" y2="360.10" stroke="#4d4d4d" stroke-width="0.8"/>
<text x="56.30" y="365.59" font-size="6.4" text-anchor="middle" fill="#333" stroke="#333" stroke-width="0.1">-2.5</text>
<line x1="102.30" y1="357.90" x2="102.30" y2="360.10" stroke="#4d4d4d" stroke-width="0.8"/>
<text x="102.30" y="365.59" font-size="6.4" text-anchor="middle" fill="#333" stroke="#333" stroke-width="0.1">0.0</text>
<line x1="147.90" y1="357.90" x2="147.90" y2="360.10" stroke="#4d4d4d" stroke-width="0.8"/>
<text x="147.90" y="365.59" font-size="6.4" text-anchor="middle" fill="#333" stroke="#333" stroke-width="0.1">2.5</text>
<line x1="193.40" y1="357.90" x2="193.40" y2="360.10" stroke="#4d4d4d" stroke-width="0.8"/>
<text x="193.40" y="365.59" font-size="6.4" text-anchor="middle" fill="#333" stroke="#333" stroke-width="0.1">5.0</text>
<text x="125.00" y="378.42" font-size="9" text-anchor="middle" fill="#000" stroke="#000" stroke-width="0.1">log2 Fold Change</text>
<text x="16.32" y="278.00" font-size="9" text-anchor="middle" fill="#000" stroke="#000" stroke-width="0.1" transform="rotate(-90 16.32 278.00)">-log10(Padj)</text>
<line x1="274.60" y1="191.80" x2="274.60" y2="358.00" stroke="#4d4d4d" stroke-width="0.9"/>
<line x1="272.40" y1="346.90" x2="274.60" y2="346.90" stroke="#4d4d4d" stroke-width="0.8"/>
<text x="271.80" y="349.19" font-size="6.4" text-anchor="end" fill="#333" stroke="#333" stroke-width="0.1">0</text>
<line x1="272.40" y1="296.50" x2="274.60" y2="296.50" stroke="#4d4d4d" stroke-width="0.8"/>
<text x="271.80" y="298.79" font-size="6.4" text-anchor="end" fill="#333" stroke="#333" stroke-width="0.1">10</text>
<line x1="272.40" y1="247.20" x2="274.60" y2="247.20" stroke="#4d4d4d" stroke-width="0.8"/>
<text x="271.80" y="249.49" font-size="6.4" text-anchor="end" fill="#333" stroke="#333" stroke-width="0.1">20</text>
<line x1="272.40" y1="197.80" x2="274.60" y2="197.80" stroke="#4d4d4d" stroke-width="0.8"/>
<text x="271.80" y="200.09" font-size="6.4" text-anchor="end" fill="#333" stroke="#333" stroke-width="0.1">30</text>
<line x1="274.60" y1="358.00" x2="444.80" y2="358.00" stroke="#4d4d4d" stroke-width="0.9"/>
<line x1="297.80" y1="358.00" x2="297.80" y2="360.20" stroke="#4d4d4d" stroke-width="0.8"/>
<text x="297.80" y="366.99" font-size="6.4" text-anchor="middle" fill="#333" stroke="#333" stroke-width="0.1">2</text>
<line x1="348.50" y1="358.00" x2="348.50" y2="360.20" stroke="#4d4d4d" stroke-width="0.8"/>
<text x="348.50" y="366.99" font-size="6.4" text-anchor="middle" fill="#333" stroke="#333" stroke-width="0.1">3</text>
<line x1="399.50" y1="358.00" x2="399.50" y2="360.20" stroke="#4d4d4d" stroke-width="0.8"/>
<text x="399.50" y="366.99" font-size="6.4" text-anchor="middle" fill="#333" stroke="#333" stroke-width="0.1">4</text>
<text x="362.60" y="378.02" font-size="9" text-anchor="middle" fill="#000" stroke="#000" stroke-width="0.1">z-score</text>
<text x="258.42" y="280.70" font-size="9" text-anchor="middle" fill="#000" stroke="#000" stroke-width="0.1" transform="rotate(-90 258.42 280.70)">-log10(Padj)</text>
<circle cx="294.80" cy="340.40" r="4.8" fill="#f7b535" fill-opacity="0.88"/>
<circle cx="305.50" cy="332.70" r="6.5" fill="#f7b535" fill-opacity="0.88"/>
<circle cx="306.60" cy="339.30" r="6" fill="#f7b535" fill-opacity="0.88"/>
<circle cx="303.50" cy="337.80" r="5" fill="#f7b535" fill-opacity="0.88"/>
<circle cx="322.90" cy="328.60" r="5.3" fill="#f7b535" fill-opacity="0.88"/>
<circle cx="318.30" cy="335.80" r="5" fill="#f7b535" fill-opacity="0.88"/>
<circle cx="322.90" cy="340.40" r="6" fill="#f7b535" fill-opacity="0.88"/>
<circle cx="331.10" cy="316.90" r="6.6" fill="#f7b535" fill-opacity="0.88"/>
<circle cx="347.50" cy="284.80" r="8" fill="#f7b535" fill-opacity="0.88"/>
<circle cx="358.20" cy="277.40" r="10" fill="#f7b535" fill-opacity="0.88"/>
<circle cx="415.60" cy="207.60" r="14.3" fill="#f7b535" fill-opacity="0.88"/>
<circle cx="424.90" cy="270.00" r="15.0" fill="#f7b535" fill-opacity="0.88"/>
<text x="415.60" y="210.38" font-size="7.2" text-anchor="middle" fill="#000" stroke="#000" stroke-width="0.1">44</text>
<text x="424.90" y="272.78" font-size="7.2" text-anchor="middle" fill="#000" stroke="#000" stroke-width="0.1">49</text>
<text x="358.20" y="280.18" font-size="7.2" text-anchor="middle" fill="#000" stroke="#000" stroke-width="0.1">23</text>
<text x="347.50" y="287.58" font-size="7.2" text-anchor="middle" fill="#000" stroke="#000" stroke-width="0.1">16</text>
<text x="331.10" y="319.68" font-size="7.2" text-anchor="middle" fill="#000" stroke="#000" stroke-width="0.1">11</text>
<text x="363.60" y="224.66" font-size="7.7" text-anchor="start" fill="#000" stroke="#000" stroke-width="0.1">Defense response to virus</text>
<text x="360.20" y="254.26" font-size="7.7" text-anchor="start" fill="#000" stroke="#000" stroke-width="0.1">Innate immune response</text>
<text x="303.80" y="264.96" font-size="7.7" text-anchor="start" fill="#000" stroke="#000" stroke-width="0.1">Response to virus</text>
<text x="279.60" y="292.16" font-size="7.7" text-anchor="start" fill="#000" stroke="#000" stroke-width="0.1">Negative regulation</text>
<text x="279.60" y="301.26" font-size="7.7" text-anchor="start" fill="#000" stroke="#000" stroke-width="0.1">of viral genome replication</text>
<text x="335.70" y="319.76" font-size="7.7" text-anchor="start" fill="#000" stroke="#000" stroke-width="0.1">Positive regulation</text>
<text x="335.70" y="329.16" font-size="7.7" text-anchor="start" fill="#000" stroke="#000" stroke-width="0.1">of interferon-beta production</text>
<rect x="50.10" y="427.00" width="6.69" height="6.95" fill="#6a6dc2" stroke="#fff" stroke-width="0.7"/>
<rect x="56.79" y="427.00" width="6.69" height="6.95" fill="#2b35a0" stroke="#fff" stroke-width="0.7"/>
<rect x="63.48" y="427.00" width="6.69" height="6.95" fill="#f2d8d8" stroke="#fff" stroke-width="0.7"/>
<rect x="70.17" y="427.00" width="6.69" height="6.95" fill="#f2d6d6" stroke="#fff" stroke-width="0.7"/>
<rect x="76.86" y="427.00" width="6.69" height="6.95" fill="#f0c0c4" stroke="#fff" stroke-width="0.7"/>
<rect x="83.55" y="427.00" width="6.69" height="6.95" fill="#a0a3d8" stroke="#fff" stroke-width="0.7"/>
<rect x="90.24" y="427.00" width="6.69" height="6.95" fill="#f3dfe1" stroke="#fff" stroke-width="0.7"/>
<rect x="96.93" y="427.00" width="6.69" height="6.95" fill="#f3dfe1" stroke="#fff" stroke-width="0.7"/>
<rect x="103.62" y="427.00" width="6.69" height="6.95" fill="#f3dfe1" stroke="#fff" stroke-width="0.7"/>
<rect x="110.31" y="427.00" width="6.69" height="6.95" fill="#f3dfe1" stroke="#fff" stroke-width="0.7"/>
<rect x="117.00" y="427.00" width="6.69" height="6.95" fill="#f3dfe1" stroke="#fff" stroke-width="0.7"/>
<rect x="123.69" y="427.00" width="6.69" height="6.95" fill="#f3dfe1" stroke="#fff" stroke-width="0.7"/>
<rect x="130.38" y="427.00" width="6.69" height="6.95" fill="#f3e4e6" stroke="#fff" stroke-width="0.7"/>
<rect x="137.07" y="427.00" width="6.69" height="6.95" fill="#f3eded" stroke="#fff" stroke-width="0.7"/>
<rect x="143.76" y="427.00" width="6.69" height="6.95" fill="#dcdcee" stroke="#fff" stroke-width="0.7"/>
<rect x="150.45" y="427.00" width="6.69" height="6.95" fill="#b8badf" stroke="#fff" stroke-width="0.7"/>
<rect x="157.14" y="427.00" width="6.69" height="6.95" fill="#c0c2e2" stroke="#fff" stroke-width="0.7"/>
<rect x="163.83" y="427.00" width="6.69" height="6.95" fill="#b0b2dc" stroke="#fff" stroke-width="0.7"/>
<rect x="170.52" y="427.00" width="6.69" height="6.95" fill="#f2cdd0" stroke="#fff" stroke-width="0.7"/>
<rect x="177.21" y="427.00" width="6.69" height="6.95" fill="#f3d5d7" stroke="#fff" stroke-width="0.7"/>
<rect x="183.90" y="427.00" width="6.69" height="6.95" fill="#f3d8da" stroke="#fff" stroke-width="0.7"/>
<rect x="190.59" y="427.00" width="6.69" height="6.95" fill="#f4e6e8" stroke="#fff" stroke-width="0.7"/>
<rect x="197.28" y="427.00" width="6.69" height="6.95" fill="#f3dadc" stroke="#fff" stroke-width="0.7"/>
<rect x="203.97" y="427.00" width="6.69" height="6.95" fill="#f3dadc" stroke="#fff" stroke-width="0.7"/>
<rect x="210.66" y="427.00" width="6.69" height="6.95" fill="#f4ecee" stroke="#fff" stroke-width="0.7"/>
<rect x="217.35" y="427.00" width="6.69" height="6.95" fill="#f4eeee" stroke="#fff" stroke-width="0.7"/>
<rect x="224.04" y="427.00" width="6.69" height="6.95" fill="#f4e4e6" stroke="#fff" stroke-width="0.7"/>
<rect x="230.73" y="427.00" width="6.69" height="6.95" fill="#f4e2e4" stroke="#fff" stroke-width="0.7"/>
<rect x="237.42" y="427.00" width="6.69" height="6.95" fill="#f4eaec" stroke="#fff" stroke-width="0.7"/>
<rect x="244.11" y="427.00" width="6.69" height="6.95" fill="#f3dcde" stroke="#fff" stroke-width="0.7"/>
<rect x="250.80" y="427.00" width="6.69" height="6.95" fill="#f3e2e4" stroke="#fff" stroke-width="0.7"/>
<rect x="257.49" y="427.00" width="6.69" height="6.95" fill="#f4eef0" stroke="#fff" stroke-width="0.7"/>
<rect x="264.18" y="427.00" width="6.69" height="6.95" fill="#f3dcde" stroke="#fff" stroke-width="0.7"/>
<rect x="270.87" y="427.00" width="6.69" height="6.95" fill="#f3e4e6" stroke="#fff" stroke-width="0.7"/>
<rect x="277.56" y="427.00" width="6.69" height="6.95" fill="#d2d3ec" stroke="#fff" stroke-width="0.7"/>
<rect x="284.25" y="427.00" width="6.69" height="6.95" fill="#d4d5ec" stroke="#fff" stroke-width="0.7"/>
<rect x="290.94" y="427.00" width="6.69" height="6.95" fill="#f2f0f3" stroke="#fff" stroke-width="0.7"/>
<rect x="297.63" y="427.00" width="6.69" height="6.95" fill="#f3dfe1" stroke="#fff" stroke-width="0.7"/>
<rect x="304.32" y="427.00" width="6.69" height="6.95" fill="#f3e2e4" stroke="#fff" stroke-width="0.7"/>
<rect x="311.01" y="427.00" width="6.69" height="6.95" fill="#f3e2e4" stroke="#fff" stroke-width="0.7"/>
<rect x="317.70" y="427.00" width="6.69" height="6.95" fill="#e9a0a4" stroke="#fff" stroke-width="0.7"/>
<rect x="324.39" y="427.00" width="6.69" height="6.95" fill="#eeb0b4" stroke="#fff" stroke-width="0.7"/>
<rect x="331.08" y="427.00" width="6.69" height="6.95" fill="#f0c4c7" stroke="#fff" stroke-width="0.7"/>
<rect x="337.77" y="427.00" width="6.69" height="6.95" fill="#f2d0d3" stroke="#fff" stroke-width="0.7"/>
<rect x="344.46" y="427.00" width="6.69" height="6.95" fill="#e68a8e" stroke="#fff" stroke-width="0.7"/>
<rect x="351.15" y="427.00" width="6.69" height="6.95" fill="#eeb5b8" stroke="#fff" stroke-width="0.7"/>
<rect x="357.84" y="427.00" width="6.69" height="6.95" fill="#efbabd" stroke="#fff" stroke-width="0.7"/>
<rect x="364.53" y="427.00" width="6.69" height="6.95" fill="#efbcbe" stroke="#fff" stroke-width="0.7"/>
<rect x="371.22" y="427.00" width="6.69" height="6.95" fill="#f2d6d8" stroke="#fff" stroke-width="0.7"/>
<rect x="377.91" y="427.00" width="6.69" height="6.95" fill="#eba6aa" stroke="#fff" stroke-width="0.7"/>
<rect x="384.60" y="427.00" width="6.69" height="6.95" fill="#eba6aa" stroke="#fff" stroke-width="0.7"/>
<rect x="391.29" y="427.00" width="6.69" height="6.95" fill="#eeb4b7" stroke="#fff" stroke-width="0.7"/>
<rect x="397.98" y="427.00" width="6.69" height="6.95" fill="#eba8ac" stroke="#fff" stroke-width="0.7"/>
<rect x="404.67" y="427.00" width="6.69" height="6.95" fill="#eeb6b9" stroke="#fff" stroke-width="0.7"/>
<rect x="411.36" y="427.00" width="6.69" height="6.95" fill="#efbabd" stroke="#fff" stroke-width="0.7"/>
<rect x="418.05" y="427.00" width="6.69" height="6.95" fill="#efbcbe" stroke="#fff" stroke-width="0.7"/>
<rect x="424.74" y="427.00" width="6.69" height="6.95" fill="#e07074" stroke="#fff" stroke-width="0.7"/>
<rect x="431.43" y="427.00" width="6.69" height="6.95" fill="#e07478" stroke="#fff" stroke-width="0.7"/>
<rect x="438.12" y="427.00" width="6.69" height="6.95" fill="#e17a7e" stroke="#fff" stroke-width="0.7"/>
<rect x="444.81" y="427.00" width="6.69" height="6.95" fill="#d42228" stroke="#fff" stroke-width="0.7"/>
<rect x="451.50" y="427.00" width="6.69" height="6.95" fill="#d52a30" stroke="#fff" stroke-width="0.7"/>
<rect x="458.19" y="427.00" width="6.69" height="6.95" fill="#d42228" stroke="#fff" stroke-width="0.7"/>
<rect x="464.88" y="427.00" width="6.69" height="6.95" fill="#d42228" stroke="#fff" stroke-width="0.7"/>
<rect x="471.57" y="427.00" width="6.69" height="6.95" fill="#d63a3e" stroke="#fff" stroke-width="0.7"/>
<rect x="478.26" y="427.00" width="6.69" height="6.95" fill="#d8484c" stroke="#fff" stroke-width="0.7"/>
<rect x="484.95" y="427.00" width="6.69" height="6.95" fill="#d42228" stroke="#fff" stroke-width="0.7"/>
<rect x="491.64" y="427.00" width="6.69" height="6.95" fill="#db5c60" stroke="#fff" stroke-width="0.7"/>
<rect x="498.33" y="427.00" width="6.69" height="6.95" fill="#e9a0a4" stroke="#fff" stroke-width="0.7"/>
<rect x="505.02" y="427.00" width="6.69" height="6.95" fill="#e79498" stroke="#fff" stroke-width="0.7"/>
<rect x="511.71" y="427.00" width="6.69" height="6.95" fill="#df7276" stroke="#fff" stroke-width="0.7"/>
<rect x="50.10" y="434.00" width="6.69" height="6.95" fill="#e07a7e" stroke="#fff" stroke-width="0.7"/>
<rect x="56.79" y="434.00" width="6.69" height="6.95" fill="#e89ca0" stroke="#fff" stroke-width="0.7"/>
<rect x="63.48" y="434.00" width="6.69" height="6.95" fill="#db5c60" stroke="#fff" stroke-width="0.7"/>
<rect x="70.17" y="434.00" width="6.69" height="6.95" fill="#e48a8c" stroke="#fff" stroke-width="0.7"/>
<rect x="76.86" y="434.00" width="6.69" height="6.95" fill="#f0bcc0" stroke="#fff" stroke-width="0.7"/>
<rect x="83.55" y="434.00" width="6.69" height="6.95" fill="#f5f0f0" stroke="#fff" stroke-width="0.7"/>
<rect x="90.24" y="434.00" width="6.69" height="6.95" fill="#f3e0e2" stroke="#fff" stroke-width="0.7"/>
<rect x="96.93" y="434.00" width="6.69" height="6.95" fill="#f3e0e2" stroke="#fff" stroke-width="0.7"/>
<rect x="103.62" y="434.00" width="6.69" height="6.95" fill="#f3e0e2" stroke="#fff" stroke-width="0.7"/>
<rect x="110.31" y="434.00" width="6.69" height="6.95" fill="#f3e0e2" stroke="#fff" stroke-width="0.7"/>
<rect x="117.00" y="434.00" width="6.69" height="6.95" fill="#f3e0e2" stroke="#fff" stroke-width="0.7"/>
<rect x="123.69" y="434.00" width="6.69" height="6.95" fill="#f3e0e2" stroke="#fff" stroke-width="0.7"/>
<rect x="130.38" y="434.00" width="6.69" height="6.95" fill="#f2eff2" stroke="#fff" stroke-width="0.7"/>
<rect x="137.07" y="434.00" width="6.69" height="6.95" fill="#f2eff2" stroke="#fff" stroke-width="0.7"/>
<rect x="143.76" y="434.00" width="6.69" height="6.95" fill="#f3e6e8" stroke="#fff" stroke-width="0.7"/>
<rect x="150.45" y="434.00" width="6.69" height="6.95" fill="#f3eaec" stroke="#fff" stroke-width="0.7"/>
<rect x="157.14" y="434.00" width="6.69" height="6.95" fill="#f1f0f4" stroke="#fff" stroke-width="0.7"/>
<rect x="163.83" y="434.00" width="6.69" height="6.95" fill="#f3dfe1" stroke="#fff" stroke-width="0.7"/>
<rect x="170.52" y="434.00" width="6.69" height="6.95" fill="#f2cfd2" stroke="#fff" stroke-width="0.7"/>
<rect x="177.21" y="434.00" width="6.69" height="6.95" fill="#f2d2d4" stroke="#fff" stroke-width="0.7"/>
<rect x="183.90" y="434.00" width="6.69" height="6.95" fill="#f3e9ea" stroke="#fff" stroke-width="0.7"/>
<rect x="190.59" y="434.00" width="6.69" height="6.95" fill="#f0c8cc" stroke="#fff" stroke-width="0.7"/>
<rect x="197.28" y="434.00" width="6.69" height="6.95" fill="#f2d2d5" stroke="#fff" stroke-width="0.7"/>
<rect x="203.97" y="434.00" width="6.69" height="6.95" fill="#f1cdd0" stroke="#fff" stroke-width="0.7"/>
<rect x="210.66" y="434.00" width="6.69" height="6.95" fill="#f3e3e5" stroke="#fff" stroke-width="0.7"/>
<rect x="217.35" y="434.00" width="6.69" height="6.95" fill="#f3e2e4" stroke="#fff" stroke-width="0.7"/>
<rect x="224.04" y="434.00" width="6.69" height="6.95" fill="#f3dcde" stroke="#fff" stroke-width="0.7"/>
<rect x="230.73" y="434.00" width="6.69" height="6.95" fill="#f3d8da" stroke="#fff" stroke-width="0.7"/>
<rect x="237.42" y="434.00" width="6.69" height="6.95" fill="#f3dee0" stroke="#fff" stroke-width="0.7"/>
<rect x="244.11" y="434.00" width="6.69" height="6.95" fill="#f3e4e6" stroke="#fff" stroke-width="0.7"/>
<rect x="250.80" y="434.00" width="6.69" height="6.95" fill="#f3e0e2" stroke="#fff" stroke-width="0.7"/>
<rect x="257.49" y="434.00" width="6.69" height="6.95" fill="#f3e4e6" stroke="#fff" stroke-width="0.7"/>
<rect x="264.18" y="434.00" width="6.69" height="6.95" fill="#f3e0e2" stroke="#fff" stroke-width="0.7"/>
<rect x="270.87" y="434.00" width="6.69" height="6.95" fill="#f2d6d8" stroke="#fff" stroke-width="0.7"/>
<rect x="277.56" y="434.00" width="6.69" height="6.95" fill="#f2d2d4" stroke="#fff" stroke-width="0.7"/>
<rect x="284.25" y="434.00" width="6.69" height="6.95" fill="#f2d2d4" stroke="#fff" stroke-width="0.7"/>
<rect x="290.94" y="434.00" width="6.69" height="6.95" fill="#f2cdd0" stroke="#fff" stroke-width="0.7"/>
<rect x="297.63" y="434.00" width="6.69" height="6.95" fill="#f1f0f4" stroke="#fff" stroke-width="0.7"/>
<rect x="304.32" y="434.00" width="6.69" height="6.95" fill="#f2f0f3" stroke="#fff" stroke-width="0.7"/>
<rect x="311.01" y="434.00" width="6.69" height="6.95" fill="#e6e8f2" stroke="#fff" stroke-width="0.7"/>
<rect x="317.70" y="434.00" width="6.69" height="6.95" fill="#e58e92" stroke="#fff" stroke-width="0.7"/>
<rect x="324.39" y="434.00" width="6.69" height="6.95" fill="#eaa2a6" stroke="#fff" stroke-width="0.7"/>
<rect x="331.08" y="434.00" width="6.69" height="6.95" fill="#eba8ac" stroke="#fff" stroke-width="0.7"/>
<rect x="337.77" y="434.00" width="6.69" height="6.95" fill="#e9a0a4" stroke="#fff" stroke-width="0.7"/>
<rect x="344.46" y="434.00" width="6.69" height="6.95" fill="#eeb4b8" stroke="#fff" stroke-width="0.7"/>
<rect x="351.15" y="434.00" width="6.69" height="6.95" fill="#eeb8bb" stroke="#fff" stroke-width="0.7"/>
<rect x="357.84" y="434.00" width="6.69" height="6.95" fill="#eeb4b8" stroke="#fff" stroke-width="0.7"/>
<rect x="364.53" y="434.00" width="6.69" height="6.95" fill="#ebaaae" stroke="#fff" stroke-width="0.7"/>
<rect x="371.22" y="434.00" width="6.69" height="6.95" fill="#eeb6ba" stroke="#fff" stroke-width="0.7"/>
<rect x="377.91" y="434.00" width="6.69" height="6.95" fill="#eba9ac" stroke="#fff" stroke-width="0.7"/>
<rect x="384.60" y="434.00" width="6.69" height="6.95" fill="#ecaeb1" stroke="#fff" stroke-width="0.7"/>
<rect x="391.29" y="434.00" width="6.69" height="6.95" fill="#eba8ac" stroke="#fff" stroke-width="0.7"/>
<rect x="397.98" y="434.00" width="6.69" height="6.95" fill="#eaa4a8" stroke="#fff" stroke-width="0.7"/>
<rect x="404.67" y="434.00" width="6.69" height="6.95" fill="#f3e0e2" stroke="#fff" stroke-width="0.7"/>
<rect x="411.36" y="434.00" width="6.69" height="6.95" fill="#f3e2e4" stroke="#fff" stroke-width="0.7"/>
<rect x="418.05" y="434.00" width="6.69" height="6.95" fill="#f3e0e2" stroke="#fff" stroke-width="0.7"/>
<rect x="424.74" y="434.00" width="6.69" height="6.95" fill="#e99ea2" stroke="#fff" stroke-width="0.7"/>
<rect x="431.43" y="434.00" width="6.69" height="6.95" fill="#e99ea2" stroke="#fff" stroke-width="0.7"/>
<rect x="438.12" y="434.00" width="6.69" height="6.95" fill="#f2d8da" stroke="#fff" stroke-width="0.7"/>
<rect x="444.81" y="434.00" width="6.69" height="6.95" fill="#d42228" stroke="#fff" stroke-width="0.7"/>
<rect x="451.50" y="434.00" width="6.69" height="6.95" fill="#d42228" stroke="#fff" stroke-width="0.7"/>
<rect x="458.19" y="434.00" width="6.69" height="6.95" fill="#d42228" stroke="#fff" stroke-width="0.7"/>
<rect x="464.88" y="434.00" width="6.69" height="6.95" fill="#e07478" stroke="#fff" stroke-width="0.7"/>
<rect x="471.57" y="434.00" width="6.69" height="6.95" fill="#dc6064" stroke="#fff" stroke-width="0.7"/>
<rect x="478.26" y="434.00" width="6.69" height="6.95" fill="#da5c60" stroke="#fff" stroke-width="0.7"/>
<rect x="484.95" y="434.00" width="6.69" height="6.95" fill="#df6e72" stroke="#fff" stroke-width="0.7"/>
<rect x="491.64" y="434.00" width="6.69" height="6.95" fill="#dc6064" stroke="#fff" stroke-width="0.7"/>
<rect x="498.33" y="434.00" width="6.69" height="6.95" fill="#dd6468" stroke="#fff" stroke-width="0.7"/>
<rect x="505.02" y="434.00" width="6.69" height="6.95" fill="#db5c60" stroke="#fff" stroke-width="0.7"/>
<rect x="511.71" y="434.00" width="6.69" height="6.95" fill="#d63a3e" stroke="#fff" stroke-width="0.7"/>
<rect x="50.10" y="441.00" width="6.69" height="6.95" fill="#d94a4e" stroke="#fff" stroke-width="0.7"/>
<rect x="56.79" y="441.00" width="6.69" height="6.95" fill="#d21e24" stroke="#fff" stroke-width="0.7"/>
<rect x="63.48" y="441.00" width="6.69" height="6.95" fill="#d95054" stroke="#fff" stroke-width="0.7"/>
<rect x="70.17" y="441.00" width="6.69" height="6.95" fill="#d42c30" stroke="#fff" stroke-width="0.7"/>
<rect x="76.86" y="441.00" width="6.69" height="6.95" fill="#d21c22" stroke="#fff" stroke-width="0.7"/>
<rect x="83.55" y="441.00" width="6.69" height="6.95" fill="#d84044" stroke="#fff" stroke-width="0.7"/>
<rect x="90.24" y="441.00" width="6.69" height="6.95" fill="#eaa3a6" stroke="#fff" stroke-width="0.7"/>
<rect x="96.93" y="441.00" width="6.69" height="6.95" fill="#eaa3a6" stroke="#fff" stroke-width="0.7"/>
<rect x="103.62" y="441.00" width="6.69" height="6.95" fill="#eaa3a6" stroke="#fff" stroke-width="0.7"/>
<rect x="110.31" y="441.00" width="6.69" height="6.95" fill="#eaa3a6" stroke="#fff" stroke-width="0.7"/>
<rect x="117.00" y="441.00" width="6.69" height="6.95" fill="#eaa3a6" stroke="#fff" stroke-width="0.7"/>
<rect x="123.69" y="441.00" width="6.69" height="6.95" fill="#eaa3a6" stroke="#fff" stroke-width="0.7"/>
<rect x="130.38" y="441.00" width="6.69" height="6.95" fill="#eaa3a6" stroke="#fff" stroke-width="0.7"/>
<rect x="137.07" y="441.00" width="6.69" height="6.95" fill="#eaa9ac" stroke="#fff" stroke-width="0.7"/>
<rect x="143.76" y="441.00" width="6.69" height="6.95" fill="#e8a0a4" stroke="#fff" stroke-width="0.7"/>
<rect x="150.45" y="441.00" width="6.69" height="6.95" fill="#e8989c" stroke="#fff" stroke-width="0.7"/>
<rect x="157.14" y="441.00" width="6.69" height="6.95" fill="#e9a0a4" stroke="#fff" stroke-width="0.7"/>
<rect x="163.83" y="441.00" width="6.69" height="6.95" fill="#e8a0a4" stroke="#fff" stroke-width="0.7"/>
<rect x="170.52" y="441.00" width="6.69" height="6.95" fill="#e58e92" stroke="#fff" stroke-width="0.7"/>
<rect x="177.21" y="441.00" width="6.69" height="6.95" fill="#e3858a" stroke="#fff" stroke-width="0.7"/>
<rect x="183.90" y="441.00" width="6.69" height="6.95" fill="#e58e92" stroke="#fff" stroke-width="0.7"/>
<rect x="190.59" y="441.00" width="6.69" height="6.95" fill="#e48b8f" stroke="#fff" stroke-width="0.7"/>
<rect x="197.28" y="441.00" width="6.69" height="6.95" fill="#e58e92" stroke="#fff" stroke-width="0.7"/>
<rect x="203.97" y="441.00" width="6.69" height="6.95" fill="#e48a8e" stroke="#fff" stroke-width="0.7"/>
<rect x="210.66" y="441.00" width="6.69" height="6.95" fill="#eba9ac" stroke="#fff" stroke-width="0.7"/>
<rect x="217.35" y="441.00" width="6.69" height="6.95" fill="#eaa4a8" stroke="#fff" stroke-width="0.7"/>
<rect x="224.04" y="441.00" width="6.69" height="6.95" fill="#eba8ab" stroke="#fff" stroke-width="0.7"/>
<rect x="230.73" y="441.00" width="6.69" height="6.95" fill="#e9a2a6" stroke="#fff" stroke-width="0.7"/>
<rect x="237.42" y="441.00" width="6.69" height="6.95" fill="#e9a2a6" stroke="#fff" stroke-width="0.7"/>
<rect x="244.11" y="441.00" width="6.69" height="6.95" fill="#eba9ac" stroke="#fff" stroke-width="0.7"/>
<rect x="250.80" y="441.00" width="6.69" height="6.95" fill="#edb2b5" stroke="#fff" stroke-width="0.7"/>
<rect x="257.49" y="441.00" width="6.69" height="6.95" fill="#edb5b8" stroke="#fff" stroke-width="0.7"/>
<rect x="264.18" y="441.00" width="6.69" height="6.95" fill="#eba9ac" stroke="#fff" stroke-width="0.7"/>
<rect x="270.87" y="441.00" width="6.69" height="6.95" fill="#efbcbe" stroke="#fff" stroke-width="0.7"/>
<rect x="277.56" y="441.00" width="6.69" height="6.95" fill="#efbdbf" stroke="#fff" stroke-width="0.7"/>
<rect x="284.25" y="441.00" width="6.69" height="6.95" fill="#eeb6ba" stroke="#fff" stroke-width="0.7"/>
<rect x="290.94" y="441.00" width="6.69" height="6.95" fill="#edb2b5" stroke="#fff" stroke-width="0.7"/>
<rect x="297.63" y="441.00" width="6.69" height="6.95" fill="#efbcbe" stroke="#fff" stroke-width="0.7"/>
<rect x="304.32" y="441.00" width="6.69" height="6.95" fill="#eeb8bb" stroke="#fff" stroke-width="0.7"/>
<rect x="311.01" y="441.00" width="6.69" height="6.95" fill="#efbcbe" stroke="#fff" stroke-width="0.7"/>
<rect x="317.70" y="441.00" width="6.69" height="6.95" fill="#dd6468" stroke="#fff" stroke-width="0.7"/>
<rect x="324.39" y="441.00" width="6.69" height="6.95" fill="#d95458" stroke="#fff" stroke-width="0.7"/>
<rect x="331.08" y="441.00" width="6.69" height="6.95" fill="#dd6468" stroke="#fff" stroke-width="0.7"/>
<rect x="337.77" y="441.00" width="6.69" height="6.95" fill="#df7074" stroke="#fff" stroke-width="0.7"/>
<rect x="344.46" y="441.00" width="6.69" height="6.95" fill="#e9a2a6" stroke="#fff" stroke-width="0.7"/>
<rect x="351.15" y="441.00" width="6.69" height="6.95" fill="#dd6266" stroke="#fff" stroke-width="0.7"/>
<rect x="357.84" y="441.00" width="6.69" height="6.95" fill="#da5458" stroke="#fff" stroke-width="0.7"/>
<rect x="364.53" y="441.00" width="6.69" height="6.95" fill="#df7074" stroke="#fff" stroke-width="0.7"/>
<rect x="371.22" y="441.00" width="6.69" height="6.95" fill="#d84a4e" stroke="#fff" stroke-width="0.7"/>
<rect x="377.91" y="441.00" width="6.69" height="6.95" fill="#d63c42" stroke="#fff" stroke-width="0.7"/>
<rect x="384.60" y="441.00" width="6.69" height="6.95" fill="#d84a4e" stroke="#fff" stroke-width="0.7"/>
<rect x="391.29" y="441.00" width="6.69" height="6.95" fill="#d84a4e" stroke="#fff" stroke-width="0.7"/>
<rect x="397.98" y="441.00" width="6.69" height="6.95" fill="#d63c42" stroke="#fff" stroke-width="0.7"/>
<rect x="404.67" y="441.00" width="6.69" height="6.95" fill="#df7276" stroke="#fff" stroke-width="0.7"/>
<rect x="411.36" y="441.00" width="6.69" height="6.95" fill="#e07478" stroke="#fff" stroke-width="0.7"/>
<rect x="418.05" y="441.00" width="6.69" height="6.95" fill="#d84a4e" stroke="#fff" stroke-width="0.7"/>
<rect x="424.74" y="441.00" width="6.69" height="6.95" fill="#d63c42" stroke="#fff" stroke-width="0.7"/>
<rect x="431.43" y="441.00" width="6.69" height="6.95" fill="#d42a30" stroke="#fff" stroke-width="0.7"/>
<rect x="438.12" y="441.00" width="6.69" height="6.95" fill="#db5a5e" stroke="#fff" stroke-width="0.7"/>
<rect x="444.81" y="441.00" width="6.69" height="6.95" fill="#d42228" stroke="#fff" stroke-width="0.7"/>
<rect x="451.50" y="441.00" width="6.69" height="6.95" fill="#d52e34" stroke="#fff" stroke-width="0.7"/>
<rect x="458.19" y="441.00" width="6.69" height="6.95" fill="#d42a30" stroke="#fff" stroke-width="0.7"/>
<rect x="464.88" y="441.00" width="6.69" height="6.95" fill="#d42228" stroke="#fff" stroke-width="0.7"/>
<rect x="471.57" y="441.00" width="6.69" height="6.95" fill="#d42228" stroke="#fff" stroke-width="0.7"/>
<rect x="478.26" y="441.00" width="6.69" height="6.95" fill="#d63a3e" stroke="#fff" stroke-width="0.7"/>
<rect x="484.95" y="441.00" width="6.69" height="6.95" fill="#d42228" stroke="#fff" stroke-width="0.7"/>
<rect x="491.64" y="441.00" width="6.69" height="6.95" fill="#d63c40" stroke="#fff" stroke-width="0.7"/>
<rect x="498.33" y="441.00" width="6.69" height="6.95" fill="#d42228" stroke="#fff" stroke-width="0.7"/>
<rect x="505.02" y="441.00" width="6.69" height="6.95" fill="#d42228" stroke="#fff" stroke-width="0.7"/>
<rect x="511.71" y="441.00" width="6.69" height="6.95" fill="#d42228" stroke="#fff" stroke-width="0.7"/>
<text x="49.30" y="432.53" font-size="7.7" text-anchor="end" fill="#000" stroke="#000" stroke-width="0.1">8 hours</text>
<text x="49.30" y="439.53" font-size="7.7" text-anchor="end" fill="#000" stroke="#000" stroke-width="0.1">16 hours</text>
<text x="49.30" y="446.53" font-size="7.7" text-anchor="end" fill="#000" stroke="#000" stroke-width="0.1">24 hours</text>
<text x="55.92" y="450.80" font-size="6.9" text-anchor="end" fill="#000" stroke="#000" stroke-width="0.1" transform="rotate(-90 55.92 450.80)">TNFSF13B</text>
<text x="62.61" y="450.80" font-size="6.9" text-anchor="end" fill="#000" stroke="#000" stroke-width="0.1" transform="rotate(-90 62.61 450.80)">LGALS9</text>
<text x="69.30" y="450.80" font-size="6.9" text-anchor="end" fill="#000" stroke="#000" stroke-width="0.1" transform="rotate(-90 69.30 450.80)">IFI44</text>
<text x="75.99" y="450.80" font-size="6.9" text-anchor="end" fill="#000" stroke="#000" stroke-width="0.1" transform="rotate(-90 75.99 450.80)">IFI44L</text>
<text x="82.68" y="450.80" font-size="6.9" text-anchor="end" fill="#000" stroke="#000" stroke-width="0.1" transform="rotate(-90 82.68 450.80)">ETV7</text>
<text x="89.37" y="450.80" font-size="6.9" text-anchor="end" fill="#000" stroke="#000" stroke-width="0.1" transform="rotate(-90 89.37 450.80)">ISG20</text>
<text x="96.06" y="450.80" font-size="6.9" text-anchor="end" fill="#000" stroke="#000" stroke-width="0.1" transform="rotate(-90 96.06 450.80)">CD274</text>
<text x="102.75" y="450.80" font-size="6.9" text-anchor="end" fill="#000" stroke="#000" stroke-width="0.1" transform="rotate(-90 102.75 450.80)">SP110</text>
<text x="109.44" y="450.80" font-size="6.9" text-anchor="end" fill="#000" stroke="#000" stroke-width="0.1" transform="rotate(-90 109.44 450.80)">UBE2L6</text>
<text x="116.13" y="450.80" font-size="6.9" text-anchor="end" fill="#000" stroke="#000" stroke-width="0.1" transform="rotate(-90 116.13 450.80)">HES4</text>
<text x="122.82" y="450.80" font-size="6.9" text-anchor="end" fill="#000" stroke="#000" stroke-width="0.1" transform="rotate(-90 122.82 450.80)">APOL2</text>
<text x="129.51" y="450.80" font-size="6.9" text-anchor="end" fill="#000" stroke="#000" stroke-width="0.1" transform="rotate(-90 129.51 450.80)">JAK2</text>
<text x="136.20" y="450.80" font-size="6.9" text-anchor="end" fill="#000" stroke="#000" stroke-width="0.1" transform="rotate(-90 136.20 450.80)">UNC93B1</text>
<text x="142.89" y="450.80" font-size="6.9" text-anchor="end" fill="#000" stroke="#000" stroke-width="0.1" transform="rotate(-90 142.89 450.80)">TAP1</text>
<text x="149.58" y="450.80" font-size="6.9" text-anchor="end" fill="#000" stroke="#000" stroke-width="0.1" transform="rotate(-90 149.58 450.80)">ATF3</text>
<text x="156.27" y="450.80" font-size="6.9" text-anchor="end" fill="#000" stroke="#000" stroke-width="0.1" transform="rotate(-90 156.27 450.80)">MYD88</text>
<text x="162.96" y="450.80" font-size="6.9" text-anchor="end" fill="#000" stroke="#000" stroke-width="0.1" transform="rotate(-90 162.96 450.80)">CASP7</text>
<text x="169.65" y="450.80" font-size="6.9" text-anchor="end" fill="#000" stroke="#000" stroke-width="0.1" transform="rotate(-90 169.65 450.80)">TAP2</text>
<text x="176.34" y="450.80" font-size="6.9" text-anchor="end" fill="#000" stroke="#000" stroke-width="0.1" transform="rotate(-90 176.34 450.80)">DTX3L</text>
<text x="183.03" y="450.80" font-size="6.9" text-anchor="end" fill="#000" stroke="#000" stroke-width="0.1" transform="rotate(-90 183.03 450.80)">UBA7</text>
<text x="189.72" y="450.80" font-size="6.9" text-anchor="end" fill="#000" stroke="#000" stroke-width="0.1" transform="rotate(-90 189.72 450.80)">TYMP</text>
<text x="196.41" y="450.80" font-size="6.9" text-anchor="end" fill="#000" stroke="#000" stroke-width="0.1" transform="rotate(-90 196.41 450.80)">PSMB9</text>
<text x="203.10" y="450.80" font-size="6.9" text-anchor="end" fill="#000" stroke="#000" stroke-width="0.1" transform="rotate(-90 203.10 450.80)">TRIM21</text>
<text x="209.79" y="450.80" font-size="6.9" text-anchor="end" fill="#000" stroke="#000" stroke-width="0.1" transform="rotate(-90 209.79 450.80)">IRF1</text>
<text x="216.48" y="450.80" font-size="6.9" text-anchor="end" fill="#000" stroke="#000" stroke-width="0.1" transform="rotate(-90 216.48 450.80)">IRF9</text>
<text x="223.17" y="450.80" font-size="6.9" text-anchor="end" fill="#000" stroke="#000" stroke-width="0.1" transform="rotate(-90 223.17 450.80)">IFIT5</text>
<text x="229.86" y="450.80" font-size="6.9" text-anchor="end" fill="#000" stroke="#000" stroke-width="0.1" transform="rotate(-90 229.86 450.80)">VEGFC</text>
<text x="236.55" y="450.80" font-size="6.9" text-anchor="end" fill="#000" stroke="#000" stroke-width="0.1" transform="rotate(-90 236.55 450.80)">TRIM25</text>
<text x="243.24" y="450.80" font-size="6.9" text-anchor="end" fill="#000" stroke="#000" stroke-width="0.1" transform="rotate(-90 243.24 450.80)">STAT1</text>
<text x="249.93" y="450.80" font-size="6.9" text-anchor="end" fill="#000" stroke="#000" stroke-width="0.1" transform="rotate(-90 249.93 450.80)">TRIM5</text>
<text x="256.62" y="450.80" font-size="6.9" text-anchor="end" fill="#000" stroke="#000" stroke-width="0.1" transform="rotate(-90 256.62 450.80)">ZC3HAV1</text>
<text x="263.31" y="450.80" font-size="6.9" text-anchor="end" fill="#000" stroke="#000" stroke-width="0.1" transform="rotate(-90 263.31 450.80)">SLC25A28</text>
<text x="270.00" y="450.80" font-size="6.9" text-anchor="end" fill="#000" stroke="#000" stroke-width="0.1" transform="rotate(-90 270.00 450.80)">TRIM38</text>
<text x="276.69" y="450.80" font-size="6.9" text-anchor="end" fill="#000" stroke="#000" stroke-width="0.1" transform="rotate(-90 276.69 450.80)">MICB</text>
<text x="283.38" y="450.80" font-size="6.9" text-anchor="end" fill="#000" stroke="#000" stroke-width="0.1" transform="rotate(-90 283.38 450.80)">EIF2AK2</text>
<text x="290.07" y="450.80" font-size="6.9" text-anchor="end" fill="#000" stroke="#000" stroke-width="0.1" transform="rotate(-90 290.07 450.80)">SPSB1</text>
<text x="296.76" y="450.80" font-size="6.9" text-anchor="end" fill="#000" stroke="#000" stroke-width="0.1" transform="rotate(-90 296.76 450.80)">OGFR</text>
<text x="303.45" y="450.80" font-size="6.9" text-anchor="end" fill="#000" stroke="#000" stroke-width="0.1" transform="rotate(-90 303.45 450.80)">PIM3</text>
<text x="310.14" y="450.80" font-size="6.9" text-anchor="end" fill="#000" stroke="#000" stroke-width="0.1" transform="rotate(-90 310.14 450.80)">IFITM3</text>
<text x="316.83" y="450.80" font-size="6.9" text-anchor="end" fill="#000" stroke="#000" stroke-width="0.1" transform="rotate(-90 316.83 450.80)">JUNB</text>
<text x="323.52" y="450.80" font-size="6.9" text-anchor="end" fill="#000" stroke="#000" stroke-width="0.1" transform="rotate(-90 323.52 450.80)">TMEM140</text>
<text x="330.21" y="450.80" font-size="6.9" text-anchor="end" fill="#000" stroke="#000" stroke-width="0.1" transform="rotate(-90 330.21 450.80)">XAF1</text>
<text x="336.90" y="450.80" font-size="6.9" text-anchor="end" fill="#000" stroke="#000" stroke-width="0.1" transform="rotate(-90 336.90 450.80)">PARP12</text>
<text x="343.59" y="450.80" font-size="6.9" text-anchor="end" fill="#000" stroke="#000" stroke-width="0.1" transform="rotate(-90 343.59 450.80)">DHX58</text>
<text x="350.28" y="450.80" font-size="6.9" text-anchor="end" fill="#000" stroke="#000" stroke-width="0.1" transform="rotate(-90 350.28 450.80)">DDX60</text>
<text x="356.97" y="450.80" font-size="6.9" text-anchor="end" fill="#000" stroke="#000" stroke-width="0.1" transform="rotate(-90 356.97 450.80)">DDX58</text>
<text x="363.66" y="450.80" font-size="6.9" text-anchor="end" fill="#000" stroke="#000" stroke-width="0.1" transform="rotate(-90 363.66 450.80)">HELZ2</text>
<text x="370.35" y="450.80" font-size="6.9" text-anchor="end" fill="#000" stroke="#000" stroke-width="0.1" transform="rotate(-90 370.35 450.80)">PARP9</text>
<text x="377.04" y="450.80" font-size="6.9" text-anchor="end" fill="#000" stroke="#000" stroke-width="0.1" transform="rotate(-90 377.04 450.80)">GMPR</text>
<text x="383.73" y="450.80" font-size="6.9" text-anchor="end" fill="#000" stroke="#000" stroke-width="0.1" transform="rotate(-90 383.73 450.80)">ISG15</text>
<text x="390.42" y="450.80" font-size="6.9" text-anchor="end" fill="#000" stroke="#000" stroke-width="0.1" transform="rotate(-90 390.42 450.80)">IRF7</text>
<text x="397.11" y="450.80" font-size="6.9" text-anchor="end" fill="#000" stroke="#000" stroke-width="0.1" transform="rotate(-90 397.11 450.80)">OAS3</text>
<text x="403.80" y="450.80" font-size="6.9" text-anchor="end" fill="#000" stroke="#000" stroke-width="0.1" transform="rotate(-90 403.80 450.80)">IFI6</text>
<text x="410.49" y="450.80" font-size="6.9" text-anchor="end" fill="#000" stroke="#000" stroke-width="0.1" transform="rotate(-90 410.49 450.80)">IFI35</text>
<text x="417.18" y="450.80" font-size="6.9" text-anchor="end" fill="#000" stroke="#000" stroke-width="0.1" transform="rotate(-90 417.18 450.80)">PLSCR1</text>
<text x="423.87" y="450.80" font-size="6.9" text-anchor="end" fill="#000" stroke="#000" stroke-width="0.1" transform="rotate(-90 423.87 450.80)">IFI27</text>
<text x="430.56" y="450.80" font-size="6.9" text-anchor="end" fill="#000" stroke="#000" stroke-width="0.1" transform="rotate(-90 430.56 450.80)">HERC6</text>
<text x="437.25" y="450.80" font-size="6.9" text-anchor="end" fill="#000" stroke="#000" stroke-width="0.1" transform="rotate(-90 437.25 450.80)">IFIT3</text>
<text x="443.94" y="450.80" font-size="6.9" text-anchor="end" fill="#000" stroke="#000" stroke-width="0.1" transform="rotate(-90 443.94 450.80)">EPSTI1</text>
<text x="450.63" y="450.80" font-size="6.9" text-anchor="end" fill="#000" stroke="#000" stroke-width="0.1" transform="rotate(-90 450.63 450.80)">IFIT2</text>
<text x="457.32" y="450.80" font-size="6.9" text-anchor="end" fill="#000" stroke="#000" stroke-width="0.1" transform="rotate(-90 457.32 450.80)">RSAD2</text>
<text x="464.01" y="450.80" font-size="6.9" text-anchor="end" fill="#000" stroke="#000" stroke-width="0.1" transform="rotate(-90 464.01 450.80)">OAS1</text>
<text x="470.70" y="450.80" font-size="6.9" text-anchor="end" fill="#000" stroke="#000" stroke-width="0.1" transform="rotate(-90 470.70 450.80)">OAS2</text>
<text x="477.39" y="450.80" font-size="6.9" text-anchor="end" fill="#000" stroke="#000" stroke-width="0.1" transform="rotate(-90 477.39 450.80)">MX1</text>
<text x="484.08" y="450.80" font-size="6.9" text-anchor="end" fill="#000" stroke="#000" stroke-width="0.1" transform="rotate(-90 484.08 450.80)">IFIT1</text>
<text x="490.77" y="450.80" font-size="6.9" text-anchor="end" fill="#000" stroke="#000" stroke-width="0.1" transform="rotate(-90 490.77 450.80)">BATF2</text>
<text x="497.46" y="450.80" font-size="6.9" text-anchor="end" fill="#000" stroke="#000" stroke-width="0.1" transform="rotate(-90 497.46 450.80)">IFIH1</text>
<text x="504.15" y="450.80" font-size="6.9" text-anchor="end" fill="#000" stroke="#000" stroke-width="0.1" transform="rotate(-90 504.15 450.80)">RTP4</text>
<text x="510.84" y="450.80" font-size="6.9" text-anchor="end" fill="#000" stroke="#000" stroke-width="0.1" transform="rotate(-90 510.84 450.80)">MX2</text>
<text x="517.53" y="450.80" font-size="6.9" text-anchor="end" fill="#000" stroke="#000" stroke-width="0.1" transform="rotate(-90 517.53 450.80)">OASL</text>
<line x1="53.45" y1="427.00" x2="53.45" y2="422.40" stroke="#555" stroke-width="0.7"/>
<line x1="60.14" y1="427.00" x2="60.14" y2="422.40" stroke="#555" stroke-width="0.7"/>
<line x1="53.45" y1="422.40" x2="60.14" y2="422.40" stroke="#555" stroke-width="0.7"/>
<line x1="66.83" y1="427.00" x2="66.83" y2="423.70" stroke="#555" stroke-width="0.7"/>
<line x1="73.52" y1="427.00" x2="73.52" y2="423.70" stroke="#555" stroke-width="0.7"/>
<line x1="66.83" y1="423.70" x2="73.52" y2="423.70" stroke="#555" stroke-width="0.7"/>
<line x1="80.20" y1="427.00" x2="80.20" y2="421.90" stroke="#555" stroke-width="0.7"/>
<line x1="86.90" y1="427.00" x2="86.90" y2="421.90" stroke="#555" stroke-width="0.7"/>
<line x1="80.20" y1="421.90" x2="86.90" y2="421.90" stroke="#555" stroke-width="0.7"/>
<line x1="56.79" y1="422.40" x2="56.79" y2="419.30" stroke="#555" stroke-width="0.7"/>
<line x1="70.17" y1="423.70" x2="70.17" y2="419.30" stroke="#555" stroke-width="0.7"/>
<line x1="56.79" y1="419.30" x2="70.17" y2="419.30" stroke="#555" stroke-width="0.7"/>
<line x1="63.48" y1="419.30" x2="63.48" y2="417.20" stroke="#555" stroke-width="0.7"/>
<line x1="83.55" y1="421.90" x2="83.55" y2="417.20" stroke="#555" stroke-width="0.7"/>
<line x1="63.48" y1="417.20" x2="83.55" y2="417.20" stroke="#555" stroke-width="0.7"/>
<line x1="100.28" y1="427.00" x2="100.28" y2="426.60" stroke="#555" stroke-width="0.7"/>
<line x1="106.97" y1="427.00" x2="106.97" y2="426.60" stroke="#555" stroke-width="0.7"/>
<line x1="100.28" y1="426.60" x2="106.97" y2="426.60" stroke="#555" stroke-width="0.7"/>
<line x1="103.62" y1="426.60" x2="103.62" y2="426.60" stroke="#555" stroke-width="0.7"/>
<line x1="113.66" y1="427.00" x2="113.66" y2="426.60" stroke="#555" stroke-width="0.7"/>
<line x1="103.62" y1="426.60" x2="113.66" y2="426.60" stroke="#555" stroke-width="0.7"/>
<line x1="93.59" y1="427.00" x2="93.59" y2="426.60" stroke="#555" stroke-width="0.7"/>
<line x1="108.64" y1="426.60" x2="108.64" y2="426.60" stroke="#555" stroke-width="0.7"/>
<line x1="93.59" y1="426.60" x2="108.64" y2="426.60" stroke="#555" stroke-width="0.7"/>
<line x1="101.11" y1="426.60" x2="101.11" y2="426.19" stroke="#555" stroke-width="0.7"/>
<line x1="120.34" y1="427.00" x2="120.34" y2="426.19" stroke="#555" stroke-width="0.7"/>
<line x1="101.11" y1="426.19" x2="120.34" y2="426.19" stroke="#555" stroke-width="0.7"/>
<line x1="110.73" y1="426.19" x2="110.73" y2="425.36" stroke="#555" stroke-width="0.7"/>
<line x1="127.03" y1="427.00" x2="127.03" y2="425.36" stroke="#555" stroke-width="0.7"/>
<line x1="110.73" y1="425.36" x2="127.03" y2="425.36" stroke="#555" stroke-width="0.7"/>
<line x1="133.72" y1="427.00" x2="133.72" y2="425.66" stroke="#555" stroke-width="0.7"/>
<line x1="140.42" y1="427.00" x2="140.42" y2="425.66" stroke="#555" stroke-width="0.7"/>
<line x1="133.72" y1="425.66" x2="140.42" y2="425.66" stroke="#555" stroke-width="0.7"/>
<line x1="118.88" y1="425.36" x2="118.88" y2="424.72" stroke="#555" stroke-width="0.7"/>
<line x1="137.07" y1="425.66" x2="137.07" y2="424.72" stroke="#555" stroke-width="0.7"/>
<line x1="118.88" y1="424.72" x2="137.07" y2="424.72" stroke="#555" stroke-width="0.7"/>
<line x1="147.11" y1="427.00" x2="147.11" y2="426.60" stroke="#555" stroke-width="0.7"/>
<line x1="153.80" y1="427.00" x2="153.80" y2="426.60" stroke="#555" stroke-width="0.7"/>
<line x1="147.11" y1="426.60" x2="153.80" y2="426.60" stroke="#555" stroke-width="0.7"/>
<line x1="150.45" y1="426.60" x2="150.45" y2="426.27" stroke="#555" stroke-width="0.7"/>
<line x1="160.49" y1="427.00" x2="160.49" y2="426.27" stroke="#555" stroke-width="0.7"/>
<line x1="150.45" y1="426.27" x2="160.49" y2="426.27" stroke="#555" stroke-width="0.7"/>
<line x1="155.47" y1="426.27" x2="155.47" y2="425.54" stroke="#555" stroke-width="0.7"/>
<line x1="167.18" y1="427.00" x2="167.18" y2="425.54" stroke="#555" stroke-width="0.7"/>
<line x1="155.47" y1="425.54" x2="167.18" y2="425.54" stroke="#555" stroke-width="0.7"/>
<line x1="161.32" y1="425.54" x2="161.32" y2="425.02" stroke="#555" stroke-width="0.7"/>
<line x1="173.87" y1="427.00" x2="173.87" y2="425.02" stroke="#555" stroke-width="0.7"/>
<line x1="161.32" y1="425.02" x2="173.87" y2="425.02" stroke="#555" stroke-width="0.7"/>
<line x1="127.98" y1="424.72" x2="127.98" y2="423.91" stroke="#555" stroke-width="0.7"/>
<line x1="167.59" y1="425.02" x2="167.59" y2="423.91" stroke="#555" stroke-width="0.7"/>
<line x1="127.98" y1="423.91" x2="167.59" y2="423.91" stroke="#555" stroke-width="0.7"/>
<line x1="180.56" y1="427.00" x2="180.56" y2="425.78" stroke="#555" stroke-width="0.7"/>
<line x1="187.25" y1="427.00" x2="187.25" y2="425.78" stroke="#555" stroke-width="0.7"/>
<line x1="180.56" y1="425.78" x2="187.25" y2="425.78" stroke="#555" stroke-width="0.7"/>
<line x1="193.94" y1="427.00" x2="193.94" y2="426.60" stroke="#555" stroke-width="0.7"/>
<line x1="200.62" y1="427.00" x2="200.62" y2="426.60" stroke="#555" stroke-width="0.7"/>
<line x1="193.94" y1="426.60" x2="200.62" y2="426.60" stroke="#555" stroke-width="0.7"/>
<line x1="197.28" y1="426.60" x2="197.28" y2="426.60" stroke="#555" stroke-width="0.7"/>
<line x1="207.31" y1="427.00" x2="207.31" y2="426.60" stroke="#555" stroke-width="0.7"/>
<line x1="197.28" y1="426.60" x2="207.31" y2="426.60" stroke="#555" stroke-width="0.7"/>
<line x1="202.30" y1="426.60" x2="202.30" y2="426.34" stroke="#555" stroke-width="0.7"/>
<line x1="214.00" y1="427.00" x2="214.00" y2="426.34" stroke="#555" stroke-width="0.7"/>
<line x1="202.30" y1="426.34" x2="214.00" y2="426.34" stroke="#555" stroke-width="0.7"/>
<line x1="208.15" y1="426.34" x2="208.15" y2="425.30" stroke="#555" stroke-width="0.7"/>
<line x1="220.69" y1="427.00" x2="220.69" y2="425.30" stroke="#555" stroke-width="0.7"/>
<line x1="208.15" y1="425.30" x2="220.69" y2="425.30" stroke="#555" stroke-width="0.7"/>
<line x1="183.90" y1="425.78" x2="183.90" y2="424.78" stroke="#555" stroke-width="0.7"/>
<line x1="214.42" y1="425.30" x2="214.42" y2="424.78" stroke="#555" stroke-width="0.7"/>
<line x1="183.90" y1="424.78" x2="214.42" y2="424.78" stroke="#555" stroke-width="0.7"/>
<line x1="227.38" y1="427.00" x2="227.38" y2="425.56" stroke="#555" stroke-width="0.7"/>
<line x1="234.08" y1="427.00" x2="234.08" y2="425.56" stroke="#555" stroke-width="0.7"/>
<line x1="227.38" y1="425.56" x2="234.08" y2="425.56" stroke="#555" stroke-width="0.7"/>
<line x1="230.73" y1="425.56" x2="230.73" y2="424.77" stroke="#555" stroke-width="0.7"/>
<line x1="240.77" y1="427.00" x2="240.77" y2="424.77" stroke="#555" stroke-width="0.7"/>
<line x1="230.73" y1="424.77" x2="240.77" y2="424.77" stroke="#555" stroke-width="0.7"/>
<line x1="199.16" y1="424.78" x2="199.16" y2="423.58" stroke="#555" stroke-width="0.7"/>
<line x1="235.75" y1="424.77" x2="235.75" y2="423.58" stroke="#555" stroke-width="0.7"/>
<line x1="199.16" y1="423.58" x2="235.75" y2="423.58" stroke="#555" stroke-width="0.7"/>
<line x1="147.78" y1="423.91" x2="147.78" y2="422.80" stroke="#555" stroke-width="0.7"/>
<line x1="217.45" y1="423.58" x2="217.45" y2="422.80" stroke="#555" stroke-width="0.7"/>
<line x1="147.78" y1="422.80" x2="217.45" y2="422.80" stroke="#555" stroke-width="0.7"/>
<line x1="260.84" y1="427.00" x2="260.84" y2="425.34" stroke="#555" stroke-width="0.7"/>
<line x1="267.53" y1="427.00" x2="267.53" y2="425.34" stroke="#555" stroke-width="0.7"/>
<line x1="260.84" y1="425.34" x2="267.53" y2="425.34" stroke="#555" stroke-width="0.7"/>
<line x1="254.15" y1="427.00" x2="254.15" y2="424.35" stroke="#555" stroke-width="0.7"/>
<line x1="264.18" y1="425.34" x2="264.18" y2="424.35" stroke="#555" stroke-width="0.7"/>
<line x1="254.15" y1="424.35" x2="264.18" y2="424.35" stroke="#555" stroke-width="0.7"/>
<line x1="247.46" y1="427.00" x2="247.46" y2="423.32" stroke="#555" stroke-width="0.7"/>
<line x1="259.16" y1="424.35" x2="259.16" y2="423.32" stroke="#555" stroke-width="0.7"/>
<line x1="247.46" y1="423.32" x2="259.16" y2="423.32" stroke="#555" stroke-width="0.7"/>
<line x1="274.22" y1="427.00" x2="274.22" y2="425.28" stroke="#555" stroke-width="0.7"/>
<line x1="280.91" y1="427.00" x2="280.91" y2="425.28" stroke="#555" stroke-width="0.7"/>
<line x1="274.22" y1="425.28" x2="280.91" y2="425.28" stroke="#555" stroke-width="0.7"/>
<line x1="287.60" y1="427.00" x2="287.60" y2="426.24" stroke="#555" stroke-width="0.7"/>
<line x1="294.29" y1="427.00" x2="294.29" y2="426.24" stroke="#555" stroke-width="0.7"/>
<line x1="287.60" y1="426.24" x2="294.29" y2="426.24" stroke="#555" stroke-width="0.7"/>
<line x1="290.94" y1="426.24" x2="290.94" y2="425.14" stroke="#555" stroke-width="0.7"/>
<line x1="300.98" y1="427.00" x2="300.98" y2="425.14" stroke="#555" stroke-width="0.7"/>
<line x1="290.94" y1="425.14" x2="300.98" y2="425.14" stroke="#555" stroke-width="0.7"/>
<line x1="277.56" y1="425.28" x2="277.56" y2="424.49" stroke="#555" stroke-width="0.7"/>
<line x1="295.96" y1="425.14" x2="295.96" y2="424.49" stroke="#555" stroke-width="0.7"/>
<line x1="277.56" y1="424.49" x2="295.96" y2="424.49" stroke="#555" stroke-width="0.7"/>
<line x1="286.76" y1="424.49" x2="286.76" y2="423.86" stroke="#555" stroke-width="0.7"/>
<line x1="307.67" y1="427.00" x2="307.67" y2="423.86" stroke="#555" stroke-width="0.7"/>
<line x1="286.76" y1="423.86" x2="307.67" y2="423.86" stroke="#555" stroke-width="0.7"/>
<line x1="297.21" y1="423.86" x2="297.21" y2="423.22" stroke="#555" stroke-width="0.7"/>
<line x1="314.36" y1="427.00" x2="314.36" y2="423.22" stroke="#555" stroke-width="0.7"/>
<line x1="297.21" y1="423.22" x2="314.36" y2="423.22" stroke="#555" stroke-width="0.7"/>
<line x1="253.31" y1="423.32" x2="253.31" y2="422.60" stroke="#555" stroke-width="0.7"/>
<line x1="305.78" y1="423.22" x2="305.78" y2="422.60" stroke="#555" stroke-width="0.7"/>
<line x1="253.31" y1="422.60" x2="305.78" y2="422.60" stroke="#555" stroke-width="0.7"/>
<line x1="182.62" y1="422.80" x2="182.62" y2="421.90" stroke="#555" stroke-width="0.7"/>
<line x1="279.55" y1="422.60" x2="279.55" y2="421.90" stroke="#555" stroke-width="0.7"/>
<line x1="182.62" y1="421.90" x2="279.55" y2="421.90" stroke="#555" stroke-width="0.7"/>
<line x1="73.52" y1="417.20" x2="73.52" y2="413.30" stroke="#555" stroke-width="0.7"/>
<line x1="231.08" y1="421.90" x2="231.08" y2="413.30" stroke="#555" stroke-width="0.7"/>
<line x1="73.52" y1="413.30" x2="231.08" y2="413.30" stroke="#555" stroke-width="0.7"/>
<line x1="321.05" y1="427.00" x2="321.05" y2="424.90" stroke="#555" stroke-width="0.7"/>
<line x1="327.74" y1="427.00" x2="327.74" y2="424.90" stroke="#555" stroke-width="0.7"/>
<line x1="321.05" y1="424.90" x2="327.74" y2="424.90" stroke="#555" stroke-width="0.7"/>
<line x1="334.43" y1="427.00" x2="334.43" y2="424.90" stroke="#555" stroke-width="0.7"/>
<line x1="341.12" y1="427.00" x2="341.12" y2="424.90" stroke="#555" stroke-width="0.7"/>
<line x1="334.43" y1="424.90" x2="341.12" y2="424.90" stroke="#555" stroke-width="0.7"/>
<line x1="324.39" y1="424.90" x2="324.39" y2="423.30" stroke="#555" stroke-width="0.7"/>
<line x1="337.77" y1="424.90" x2="337.77" y2="423.30" stroke="#555" stroke-width="0.7"/>
<line x1="324.39" y1="423.30" x2="337.77" y2="423.30" stroke="#555" stroke-width="0.7"/>
<line x1="331.08" y1="423.30" x2="331.08" y2="421.30" stroke="#555" stroke-width="0.7"/>
<line x1="347.81" y1="427.00" x2="347.81" y2="421.30" stroke="#555" stroke-width="0.7"/>
<line x1="331.08" y1="421.30" x2="347.81" y2="421.30" stroke="#555" stroke-width="0.7"/>
<line x1="354.50" y1="427.00" x2="354.50" y2="424.72" stroke="#555" stroke-width="0.7"/>
<line x1="361.19" y1="427.00" x2="361.19" y2="424.72" stroke="#555" stroke-width="0.7"/>
<line x1="354.50" y1="424.72" x2="361.19" y2="424.72" stroke="#555" stroke-width="0.7"/>
<line x1="374.57" y1="427.00" x2="374.57" y2="426.60" stroke="#555" stroke-width="0.7"/>
<line x1="381.26" y1="427.00" x2="381.26" y2="426.60" stroke="#555" stroke-width="0.7"/>
<line x1="374.57" y1="426.60" x2="381.26" y2="426.60" stroke="#555" stroke-width="0.7"/>
<line x1="367.88" y1="427.00" x2="367.88" y2="425.80" stroke="#555" stroke-width="0.7"/>
<line x1="377.91" y1="426.60" x2="377.91" y2="425.80" stroke="#555" stroke-width="0.7"/>
<line x1="367.88" y1="425.80" x2="377.91" y2="425.80" stroke="#555" stroke-width="0.7"/>
<line x1="372.89" y1="425.80" x2="372.89" y2="425.15" stroke="#555" stroke-width="0.7"/>
<line x1="387.95" y1="427.00" x2="387.95" y2="425.15" stroke="#555" stroke-width="0.7"/>
<line x1="372.89" y1="425.15" x2="387.95" y2="425.15" stroke="#555" stroke-width="0.7"/>
<line x1="357.84" y1="424.72" x2="357.84" y2="423.97" stroke="#555" stroke-width="0.7"/>
<line x1="380.42" y1="425.15" x2="380.42" y2="423.97" stroke="#555" stroke-width="0.7"/>
<line x1="357.84" y1="423.97" x2="380.42" y2="423.97" stroke="#555" stroke-width="0.7"/>
<line x1="369.13" y1="423.97" x2="369.13" y2="423.30" stroke="#555" stroke-width="0.7"/>
<line x1="394.64" y1="427.00" x2="394.64" y2="423.30" stroke="#555" stroke-width="0.7"/>
<line x1="369.13" y1="423.30" x2="394.64" y2="423.30" stroke="#555" stroke-width="0.7"/>
<line x1="408.02" y1="427.00" x2="408.02" y2="425.71" stroke="#555" stroke-width="0.7"/>
<line x1="414.71" y1="427.00" x2="414.71" y2="425.71" stroke="#555" stroke-width="0.7"/>
<line x1="408.02" y1="425.71" x2="414.71" y2="425.71" stroke="#555" stroke-width="0.7"/>
<line x1="401.33" y1="427.00" x2="401.33" y2="424.98" stroke="#555" stroke-width="0.7"/>
<line x1="411.36" y1="425.71" x2="411.36" y2="424.98" stroke="#555" stroke-width="0.7"/>
<line x1="401.33" y1="424.98" x2="411.36" y2="424.98" stroke="#555" stroke-width="0.7"/>
<line x1="406.34" y1="424.98" x2="406.34" y2="423.80" stroke="#555" stroke-width="0.7"/>
<line x1="421.40" y1="427.00" x2="421.40" y2="423.80" stroke="#555" stroke-width="0.7"/>
<line x1="406.34" y1="423.80" x2="421.40" y2="423.80" stroke="#555" stroke-width="0.7"/>
<line x1="381.88" y1="423.30" x2="381.88" y2="422.30" stroke="#555" stroke-width="0.7"/>
<line x1="413.87" y1="423.80" x2="413.87" y2="422.30" stroke="#555" stroke-width="0.7"/>
<line x1="381.88" y1="422.30" x2="413.87" y2="422.30" stroke="#555" stroke-width="0.7"/>
<line x1="339.44" y1="421.30" x2="339.44" y2="420.50" stroke="#555" stroke-width="0.7"/>
<line x1="397.88" y1="422.30" x2="397.88" y2="420.50" stroke="#555" stroke-width="0.7"/>
<line x1="339.44" y1="420.50" x2="397.88" y2="420.50" stroke="#555" stroke-width="0.7"/>
<line x1="428.09" y1="427.00" x2="428.09" y2="425.90" stroke="#555" stroke-width="0.7"/>
<line x1="434.78" y1="427.00" x2="434.78" y2="425.90" stroke="#555" stroke-width="0.7"/>
<line x1="428.09" y1="425.90" x2="434.78" y2="425.90" stroke="#555" stroke-width="0.7"/>
<line x1="431.43" y1="425.90" x2="431.43" y2="423.30" stroke="#555" stroke-width="0.7"/>
<line x1="441.47" y1="427.00" x2="441.47" y2="423.30" stroke="#555" stroke-width="0.7"/>
<line x1="431.43" y1="423.30" x2="441.47" y2="423.30" stroke="#555" stroke-width="0.7"/>
<line x1="368.66" y1="420.50" x2="368.66" y2="418.50" stroke="#555" stroke-width="0.7"/>
<line x1="436.45" y1="423.30" x2="436.45" y2="418.50" stroke="#555" stroke-width="0.7"/>
<line x1="368.66" y1="418.50" x2="436.45" y2="418.50" stroke="#555" stroke-width="0.7"/>
<line x1="152.30" y1="413.30" x2="152.30" y2="412.80" stroke="#555" stroke-width="0.7"/>
<line x1="402.55" y1="418.50" x2="402.55" y2="412.80" stroke="#555" stroke-width="0.7"/>
<line x1="152.30" y1="412.80" x2="402.55" y2="412.80" stroke="#555" stroke-width="0.7"/>
<line x1="448.16" y1="427.00" x2="448.16" y2="425.60" stroke="#555" stroke-width="0.7"/>
<line x1="454.85" y1="427.00" x2="454.85" y2="425.60" stroke="#555" stroke-width="0.7"/>
<line x1="448.16" y1="425.60" x2="454.85" y2="425.60" stroke="#555" stroke-width="0.7"/>
<line x1="451.50" y1="425.60" x2="451.50" y2="423.40" stroke="#555" stroke-width="0.7"/>
<line x1="461.54" y1="427.00" x2="461.54" y2="423.40" stroke="#555" stroke-width="0.7"/>
<line x1="451.50" y1="423.40" x2="461.54" y2="423.40" stroke="#555" stroke-width="0.7"/>
<line x1="456.52" y1="423.40" x2="456.52" y2="417.30" stroke="#555" stroke-width="0.7"/>
<line x1="468.23" y1="427.00" x2="468.23" y2="417.30" stroke="#555" stroke-width="0.7"/>
<line x1="456.52" y1="417.30" x2="468.23" y2="417.30" stroke="#555" stroke-width="0.7"/>
<line x1="474.92" y1="427.00" x2="474.92" y2="425.60" stroke="#555" stroke-width="0.7"/>
<line x1="481.61" y1="427.00" x2="481.61" y2="425.60" stroke="#555" stroke-width="0.7"/>
<line x1="474.92" y1="425.60" x2="481.61" y2="425.60" stroke="#555" stroke-width="0.7"/>
<line x1="478.26" y1="425.60" x2="478.26" y2="424.30" stroke="#555" stroke-width="0.7"/>
<line x1="488.30" y1="427.00" x2="488.30" y2="424.30" stroke="#555" stroke-width="0.7"/>
<line x1="478.26" y1="424.30" x2="488.30" y2="424.30" stroke="#555" stroke-width="0.7"/>
<line x1="483.28" y1="424.30" x2="483.28" y2="422.30" stroke="#555" stroke-width="0.7"/>
<line x1="494.99" y1="427.00" x2="494.99" y2="422.30" stroke="#555" stroke-width="0.7"/>
<line x1="483.28" y1="422.30" x2="494.99" y2="422.30" stroke="#555" stroke-width="0.7"/>
<line x1="501.68" y1="427.00" x2="501.68" y2="425.60" stroke="#555" stroke-width="0.7"/>
<line x1="508.37" y1="427.00" x2="508.37" y2="425.60" stroke="#555" stroke-width="0.7"/>
<line x1="501.68" y1="425.60" x2="508.37" y2="425.60" stroke="#555" stroke-width="0.7"/>
<line x1="505.02" y1="425.60" x2="505.02" y2="423.60" stroke="#555" stroke-width="0.7"/>
<line x1="515.06" y1="427.00" x2="515.06" y2="423.60" stroke="#555" stroke-width="0.7"/>
<line x1="505.02" y1="423.60" x2="515.06" y2="423.60" stroke="#555" stroke-width="0.7"/>
<line x1="489.13" y1="422.30" x2="489.13" y2="419.40" stroke="#555" stroke-width="0.7"/>
<line x1="510.04" y1="423.60" x2="510.04" y2="419.40" stroke="#555" stroke-width="0.7"/>
<line x1="489.13" y1="419.40" x2="510.04" y2="419.40" stroke="#555" stroke-width="0.7"/>
<line x1="462.37" y1="417.30" x2="462.37" y2="414.20" stroke="#555" stroke-width="0.7"/>
<line x1="499.58" y1="419.40" x2="499.58" y2="414.20" stroke="#555" stroke-width="0.7"/>
<line x1="462.37" y1="414.20" x2="499.58" y2="414.20" stroke="#555" stroke-width="0.7"/>
<line x1="277.43" y1="412.80" x2="277.43" y2="401.00" stroke="#555" stroke-width="0.7"/>
<line x1="480.98" y1="414.20" x2="480.98" y2="401.00" stroke="#555" stroke-width="0.7"/>
<line x1="277.43" y1="401.00" x2="480.98" y2="401.00" stroke="#555" stroke-width="0.7"/>
<defs><linearGradient id="hcb" x1="0" x2="1" y1="0" y2="0"><stop offset="0" stop-color="#23269a"/><stop offset="0.1" stop-color="#4d50ae"/><stop offset="0.29" stop-color="#f3eff2"/><stop offset="0.6" stop-color="#edb0b3"/><stop offset="1" stop-color="#d01c22"/></linearGradient><linearGradient id="bcb" x1="0" x2="0" y1="0" y2="1"><stop offset="0" stop-color="#e81f26"/><stop offset="0.5" stop-color="#c41a89"/><stop offset="1" stop-color="#3f55a6"/></linearGradient></defs>
<rect x="50.80" y="487.90" width="74.80" height="6.50" fill="url(#hcb)"/>
<text x="53.60" y="502.66" font-size="6.6" text-anchor="middle" fill="#000" stroke="#000" stroke-width="0.1">−2</text>
<text x="72.60" y="502.66" font-size="6.6" text-anchor="middle" fill="#000" stroke="#000" stroke-width="0.1">0</text>
<text x="92.90" y="502.66" font-size="6.6" text-anchor="middle" fill="#000" stroke="#000" stroke-width="0.1">2</text>
<text x="115.10" y="502.66" font-size="6.6" text-anchor="middle" fill="#000" stroke="#000" stroke-width="0.1">4</text>
<text x="124.90" y="502.66" font-size="6.6" text-anchor="middle" fill="#000" stroke="#000" stroke-width="0.1">5</text>
<text x="82.00" y="510.27" font-size="6.35" text-anchor="middle" fill="#000" stroke="#000" stroke-width="0.1">log2 fold change</text>
<circle cx="112.03" cy="647.92" r="2.0" fill="#d9d9d9"/>
<circle cx="94.86" cy="660.31" r="2.0" fill="#d9d9d9"/>
<circle cx="119.12" cy="649.24" r="2.0" fill="#d9d9d9"/>
<circle cx="118.54" cy="638.17" r="2.0" fill="#d9d9d9"/>
<circle cx="95.54" cy="630.67" r="2.0" fill="#d9d9d9"/>
<circle cx="121.88" cy="653.33" r="2.0" fill="#d9d9d9"/>
<circle cx="125.03" cy="643.55" r="2.0" fill="#d9d9d9"/>
<circle cx="104.58" cy="650.80" r="2.0" fill="#d9d9d9"/>
<circle cx="100.06" cy="648.15" r="2.0" fill="#d9d9d9"/>
<circle cx="93.66" cy="630.47" r="2.0" fill="#d9d9d9"/>
<circle cx="121.50" cy="638.28" r="2.0" fill="#d9d9d9"/>
<circle cx="117.99" cy="637.24" r="2.0" fill="#d9d9d9"/>
<circle cx="116.95" cy="659.13" r="2.0" fill="#d9d9d9"/>
<circle cx="109.81" cy="657.83" r="2.0" fill="#d9d9d9"/>
<circle cx="91.02" cy="647.81" r="2.0" fill="#d9d9d9"/>
<circle cx="119.91" cy="636.94" r="2.0" fill="#d9d9d9"/>
<circle cx="102.79" cy="643.43" r="2.0" fill="#d9d9d9"/>
<circle cx="104.50" cy="644.24" r="2.0" fill="#d9d9d9"/>
<circle cx="87.10" cy="632.68" r="2.0" fill="#d9d9d9"/>
<circle cx="106.34" cy="648.42" r="2.0" fill="#d9d9d9"/>
<circle cx="108.57" cy="658.55" r="2.0" fill="#d9d9d9"/>
<circle cx="95.10" cy="653.05" r="2.0" fill="#d9d9d9"/>
<circle cx="93.41" cy="635.72" r="2.0" fill="#d9d9d9"/>
<circle cx="100.28" cy="665.62" r="2.0" fill="#d9d9d9"/>
<circle cx="100.21" cy="652.59" r="2.0" fill="#d9d9d9"/>
<circle cx="98.57" cy="633.08" r="2.0" fill="#d9d9d9"/>
<circle cx="117.86" cy="643.81" r="2.0" fill="#d9d9d9"/>
<circle cx="114.02" cy="655.70" r="2.0" fill="#d9d9d9"/>
<circle cx="122.21" cy="648.39" r="2.0" fill="#d9d9d9"/>
<circle cx="101.40" cy="638.76" r="2.0" fill="#d9d9d9"/>
<circle cx="121.92" cy="635.41" r="2.0" fill="#d9d9d9"/>
<circle cx="117.73" cy="648.09" r="2.0" fill="#d9d9d9"/>
<circle cx="120.32" cy="631.06" r="2.0" fill="#d9d9d9"/>
<circle cx="96.58" cy="640.45" r="2.0" fill="#d9d9d9"/>
<circle cx="88.85" cy="642.35" r="2.0" fill="#d9d9d9"/>
<circle cx="116.58" cy="647.92" r="2.0" fill="#d9d9d9"/>
<circle cx="107.55" cy="657.78" r="2.0" fill="#d9d9d9"/>
<circle cx="120.37" cy="660.41" r="2.0" fill="#d9d9d9"/>
<circle cx="122.14" cy="652.75" r="2.0" fill="#d9d9d9"/>
<circle cx="103.47" cy="651.96" r="2.0" fill="#d9d9d9"/>
<circle cx="120.82" cy="641.17" r="2.0" fill="#d9d9d9"/>
<circle cx="117.50" cy="629.40" r="2.0" fill="#d9d9d9"/>
<circle cx="114.10" cy="666.68" r="2.0" fill="#d9d9d9"/>
<circle cx="112.40" cy="662.64" r="2.0" fill="#d9d9d9"/>
<circle cx="102.63" cy="666.87" r="2.0" fill="#d9d9d9"/>
<circle cx="123.13" cy="634.27" r="2.0" fill="#d9d9d9"/>
<circle cx="89.89" cy="632.71" r="2.0" fill="#d9d9d9"/>
<circle cx="92.81" cy="636.27" r="2.0" fill="#d9d9d9"/>
<circle cx="101.49" cy="657.04" r="2.0" fill="#d9d9d9"/>
<circle cx="115.15" cy="663.52" r="2.0" fill="#d9d9d9"/>
<circle cx="117.74" cy="660.23" r="2.0" fill="#d9d9d9"/>
<circle cx="96.37" cy="656.52" r="2.0" fill="#d9d9d9"/>
<circle cx="98.86" cy="630.66" r="2.0" fill="#d9d9d9"/>
<circle cx="101.94" cy="641.22" r="2.0" fill="#d9d9d9"/>
<circle cx="122.93" cy="640.65" r="2.0" fill="#d9d9d9"/>
<circle cx="106.63" cy="650.70" r="2.0" fill="#d9d9d9"/>
<circle cx="124.88" cy="632.89" r="2.0" fill="#d9d9d9"/>
<circle cx="98.72" cy="656.63" r="2.0" fill="#d9d9d9"/>
<circle cx="126.05" cy="643.03" r="2.0" fill="#d9d9d9"/>
<circle cx="90.41" cy="632.01" r="2.0" fill="#d9d9d9"/>
<circle cx="117.16" cy="646.70" r="2.0" fill="#d9d9d9"/>
<circle cx="112.43" cy="646.48" r="2.0" fill="#d9d9d9"/>
<circle cx="102.46" cy="637.91" r="2.0" fill="#d9d9d9"/>
<circle cx="96.13" cy="656.82" r="2.0" fill="#d9d9d9"/>
<circle cx="119.51" cy="657.59" r="2.0" fill="#d9d9d9"/>
<circle cx="101.80" cy="648.23" r="2.0" fill="#d9d9d9"/>
<circle cx="111.90" cy="667.04" r="2.0" fill="#d9d9d9"/>
<circle cx="106.17" cy="657.33" r="2.0" fill="#d9d9d9"/>
<circle cx="122.51" cy="659.79" r="2.0" fill="#d9d9d9"/>
<circle cx="111.70" cy="658.96" r="2.0" fill="#d9d9d9"/>
<circle cx="113.39" cy="662.93" r="2.0" fill="#d9d9d9"/>
<circle cx="114.66" cy="655.98" r="2.0" fill="#d9d9d9"/>
<circle cx="101.82" cy="653.28" r="2.0" fill="#d9d9d9"/>
<circle cx="98.82" cy="641.31" r="2.0" fill="#d9d9d9"/>
<circle cx="102.04" cy="634.74" r="2.0" fill="#d9d9d9"/>
<circle cx="116.44" cy="647.26" r="2.0" fill="#d9d9d9"/>
<circle cx="114.86" cy="637.13" r="2.0" fill="#d9d9d9"/>
<circle cx="99.75" cy="654.34" r="2.0" fill="#d9d9d9"/>
<circle cx="113.95" cy="639.30" r="2.0" fill="#d9d9d9"/>
<circle cx="125.00" cy="641.72" r="2.0" fill="#d9d9d9"/>
<circle cx="96.42" cy="662.39" r="2.0" fill="#d9d9d9"/>
<circle cx="94.20" cy="652.62" r="2.0" fill="#d9d9d9"/>
<circle cx="97.37" cy="643.97" r="2.0" fill="#d9d9d9"/>
<circle cx="124.57" cy="647.45" r="2.0" fill="#d9d9d9"/>
<circle cx="103.91" cy="653.38" r="2.0" fill="#d9d9d9"/>
<circle cx="97.51" cy="635.89" r="2.0" fill="#d9d9d9"/>
<circle cx="101.77" cy="639.76" r="2.0" fill="#d9d9d9"/>
<circle cx="114.72" cy="638.49" r="2.0" fill="#d9d9d9"/>
<circle cx="89.88" cy="641.20" r="2.0" fill="#d9d9d9"/>
<circle cx="104.62" cy="664.33" r="2.0" fill="#d9d9d9"/>
<circle cx="101.17" cy="634.33" r="2.0" fill="#d9d9d9"/>
<circle cx="118.46" cy="661.48" r="2.0" fill="#d9d9d9"/>
<circle cx="93.69" cy="644.92" r="2.0" fill="#d9d9d9"/>
<circle cx="118.90" cy="662.32" r="2.0" fill="#d9d9d9"/>
<circle cx="116.62" cy="658.99" r="2.0" fill="#d9d9d9"/>
<circle cx="93.72" cy="631.36" r="2.0" fill="#d9d9d9"/>
<circle cx="119.42" cy="652.96" r="2.0" fill="#d9d9d9"/>
<circle cx="118.80" cy="642.35" r="2.0" fill="#d9d9d9"/>
<circle cx="97.06" cy="642.95" r="2.0" fill="#d9d9d9"/>
<circle cx="98.22" cy="653.77" r="2.0" fill="#d9d9d9"/>
<circle cx="122.50" cy="631.81" r="2.0" fill="#d9d9d9"/>
<circle cx="97.06" cy="631.32" r="2.0" fill="#d9d9d9"/>
<circle cx="113.91" cy="654.80" r="2.0" fill="#d9d9d9"/>
<circle cx="92.49" cy="633.11" r="2.0" fill="#d9d9d9"/>
<circle cx="124.17" cy="650.27" r="2.0" fill="#d9d9d9"/>
<circle cx="102.75" cy="656.29" r="2.0" fill="#d9d9d9"/>
<circle cx="115.84" cy="649.72" r="2.0" fill="#d9d9d9"/>
<circle cx="94.76" cy="630.60" r="2.0" fill="#d9d9d9"/>
<circle cx="100.44" cy="650.04" r="2.0" fill="#d9d9d9"/>
<circle cx="115.09" cy="648.51" r="2.0" fill="#d9d9d9"/>
<circle cx="117.88" cy="664.66" r="2.0" fill="#d9d9d9"/>
<circle cx="107.86" cy="664.88" r="2.0" fill="#d9d9d9"/>
<circle cx="125.78" cy="644.41" r="2.0" fill="#d9d9d9"/>
<circle cx="118.55" cy="629.44" r="2.0" fill="#d9d9d9"/>
<circle cx="100.43" cy="653.24" r="2.0" fill="#d9d9d9"/>
<circle cx="110.89" cy="658.85" r="2.0" fill="#d9d9d9"/>
<circle cx="124.16" cy="650.18" r="2.0" fill="#d9d9d9"/>
<circle cx="122.15" cy="637.17" r="2.0" fill="#d9d9d9"/>
<circle cx="117.80" cy="658.23" r="2.0" fill="#d9d9d9"/>
<circle cx="122.19" cy="643.31" r="2.0" fill="#d9d9d9"/>
<circle cx="89.40" cy="645.02" r="2.0" fill="#d9d9d9"/>
<circle cx="93.31" cy="650.32" r="2.0" fill="#d9d9d9"/>
<circle cx="119.41" cy="643.31" r="2.0" fill="#d9d9d9"/>
<circle cx="91.37" cy="630.07" r="2.0" fill="#d9d9d9"/>
<circle cx="103.34" cy="651.93" r="2.0" fill="#d9d9d9"/>
<circle cx="94.65" cy="633.23" r="2.0" fill="#d9d9d9"/>
<circle cx="124.04" cy="649.66" r="2.0" fill="#d9d9d9"/>
<circle cx="122.70" cy="649.30" r="2.0" fill="#d9d9d9"/>
<circle cx="91.04" cy="638.48" r="2.0" fill="#d9d9d9"/>
<circle cx="103.39" cy="654.31" r="2.0" fill="#d9d9d9"/>
<circle cx="117.61" cy="658.68" r="2.0" fill="#d9d9d9"/>
<circle cx="103.64" cy="643.93" r="2.0" fill="#d9d9d9"/>
<circle cx="110.04" cy="660.71" r="2.0" fill="#d9d9d9"/>
<circle cx="116.20" cy="657.87" r="2.0" fill="#d9d9d9"/>
<circle cx="113.24" cy="651.97" r="2.0" fill="#d9d9d9"/>
<circle cx="94.07" cy="637.98" r="2.0" fill="#d9d9d9"/>
<circle cx="116.10" cy="661.09" r="2.0" fill="#d9d9d9"/>
<circle cx="101.19" cy="661.64" r="2.0" fill="#d9d9d9"/>
<circle cx="101.97" cy="653.82" r="2.0" fill="#d9d9d9"/>
<circle cx="110.54" cy="656.37" r="2.0" fill="#d9d9d9"/>
<circle cx="121.48" cy="658.68" r="2.0" fill="#d9d9d9"/>
<circle cx="101.37" cy="638.89" r="2.0" fill="#d9d9d9"/>
<circle cx="118.06" cy="660.32" r="2.0" fill="#d9d9d9"/>
<circle cx="124.05" cy="636.85" r="2.0" fill="#d9d9d9"/>
<circle cx="89.17" cy="641.17" r="2.0" fill="#d9d9d9"/>
<circle cx="120.08" cy="639.46" r="2.0" fill="#d9d9d9"/>
<circle cx="113.98" cy="640.68" r="2.0" fill="#d9d9d9"/>
<circle cx="94.95" cy="637.18" r="2.0" fill="#d9d9d9"/>
<circle cx="106.40" cy="657.17" r="2.0" fill="#d9d9d9"/>
<circle cx="94.93" cy="656.11" r="2.0" fill="#d9d9d9"/>
<circle cx="99.74" cy="654.65" r="2.0" fill="#d9d9d9"/>
<circle cx="101.10" cy="636.63" r="2.0" fill="#d9d9d9"/>
<circle cx="91.78" cy="631.28" r="2.0" fill="#d9d9d9"/>
<circle cx="114.55" cy="645.34" r="2.0" fill="#d9d9d9"/>
<circle cx="115.71" cy="652.49" r="2.0" fill="#d9d9d9"/>
<circle cx="104.19" cy="648.77" r="2.0" fill="#d9d9d9"/>
<circle cx="125.45" cy="643.77" r="2.0" fill="#d9d9d9"/>
<circle cx="112.08" cy="654.11" r="2.0" fill="#d9d9d9"/>
<circle cx="100.99" cy="642.68" r="2.0" fill="#d9d9d9"/>
<circle cx="116.95" cy="654.11" r="2.0" fill="#d9d9d9"/>
<circle cx="104.73" cy="649.29" r="2.0" fill="#d9d9d9"/>
<circle cx="95.16" cy="660.18" r="2.0" fill="#d9d9d9"/>
<circle cx="99.40" cy="641.97" r="2.0" fill="#d9d9d9"/>
<circle cx="94.83" cy="630.90" r="2.0" fill="#d9d9d9"/>
<circle cx="93.65" cy="634.99" r="2.0" fill="#d9d9d9"/>
<circle cx="111.59" cy="662.47" r="2.0" fill="#d9d9d9"/>
<circle cx="95.06" cy="633.41" r="2.0" fill="#d9d9d9"/>
<circle cx="102.61" cy="659.05" r="2.0" fill="#d9d9d9"/>
<circle cx="94.33" cy="656.64" r="2.0" fill="#d9d9d9"/>
<circle cx="95.94" cy="652.68" r="2.0" fill="#d9d9d9"/>
<circle cx="89.95" cy="637.05" r="2.0" fill="#d9d9d9"/>
<circle cx="109.65" cy="661.31" r="2.0" fill="#d9d9d9"/>
<circle cx="107.34" cy="655.21" r="2.0" fill="#d9d9d9"/>
<circle cx="99.04" cy="665.08" r="2.0" fill="#d9d9d9"/>
<circle cx="100.66" cy="660.00" r="2.0" fill="#d9d9d9"/>
<circle cx="122.55" cy="659.47" r="2.0" fill="#d9d9d9"/>
<circle cx="123.98" cy="632.15" r="2.0" fill="#d9d9d9"/>
<circle cx="115.51" cy="649.96" r="2.0" fill="#d9d9d9"/>
<circle cx="92.72" cy="642.46" r="2.0" fill="#d9d9d9"/>
<circle cx="113.22" cy="654.91" r="2.0" fill="#d9d9d9"/>
<circle cx="101.96" cy="660.65" r="2.0" fill="#d9d9d9"/>
<circle cx="88.19" cy="640.35" r="2.0" fill="#d9d9d9"/>
<circle cx="89.71" cy="641.83" r="2.0" fill="#d9d9d9"/>
<circle cx="118.51" cy="658.76" r="2.0" fill="#d9d9d9"/>
<circle cx="92.12" cy="641.18" r="2.0" fill="#d9d9d9"/>
<circle cx="101.34" cy="663.18" r="2.0" fill="#d9d9d9"/>
<circle cx="103.43" cy="656.29" r="2.0" fill="#d9d9d9"/>
<circle cx="111.74" cy="647.71" r="2.0" fill="#d9d9d9"/>
<circle cx="94.13" cy="648.53" r="2.0" fill="#d9d9d9"/>
<circle cx="98.48" cy="642.04" r="2.0" fill="#d9d9d9"/>
<circle cx="103.45" cy="636.91" r="2.0" fill="#d9d9d9"/>
<circle cx="121.61" cy="642.31" r="2.0" fill="#d9d9d9"/>
<circle cx="112.68" cy="646.78" r="2.0" fill="#d9d9d9"/>
<circle cx="116.19" cy="649.87" r="2.0" fill="#d9d9d9"/>
<circle cx="101.39" cy="640.06" r="2.0" fill="#d9d9d9"/>
<circle cx="110.36" cy="661.86" r="2.0" fill="#d9d9d9"/>
<circle cx="114.36" cy="647.96" r="2.0" fill="#d9d9d9"/>
<circle cx="99.47" cy="664.21" r="2.0" fill="#d9d9d9"/>
<circle cx="120.70" cy="634.76" r="2.0" fill="#d9d9d9"/>
<circle cx="113.85" cy="659.50" r="2.0" fill="#d9d9d9"/>
<circle cx="113.71" cy="667.09" r="2.0" fill="#d9d9d9"/>
<circle cx="122.04" cy="638.72" r="2.0" fill="#d9d9d9"/>
<circle cx="92.86" cy="644.62" r="2.0" fill="#d9d9d9"/>
<circle cx="96.95" cy="660.37" r="2.0" fill="#d9d9d9"/>
<circle cx="111.11" cy="658.38" r="2.0" fill="#d9d9d9"/>
<circle cx="118.39" cy="663.45" r="2.0" fill="#d9d9d9"/>
<circle cx="114.77" cy="649.30" r="2.0" fill="#d9d9d9"/>
<circle cx="103.65" cy="655.23" r="2.0" fill="#d9d9d9"/>
<circle cx="98.09" cy="634.11" r="2.0" fill="#d9d9d9"/>
<circle cx="101.84" cy="634.41" r="2.0" fill="#d9d9d9"/>
<circle cx="104.63" cy="659.15" r="2.0" fill="#d9d9d9"/>
<circle cx="90.56" cy="649.16" r="2.0" fill="#d9d9d9"/>
<circle cx="98.13" cy="646.62" r="2.0" fill="#d9d9d9"/>
<circle cx="115.19" cy="645.33" r="2.0" fill="#d9d9d9"/>
<circle cx="102.06" cy="657.78" r="2.0" fill="#d9d9d9"/>
<circle cx="90.75" cy="642.78" r="2.0" fill="#d9d9d9"/>
<circle cx="114.77" cy="661.98" r="2.0" fill="#d9d9d9"/>
<circle cx="126.16" cy="639.16" r="2.0" fill="#d9d9d9"/>
<circle cx="114.78" cy="662.42" r="2.0" fill="#d9d9d9"/>
<circle cx="91.54" cy="642.63" r="2.0" fill="#d9d9d9"/>
<circle cx="124.39" cy="642.92" r="2.0" fill="#d9d9d9"/>
<circle cx="111.92" cy="661.33" r="2.0" fill="#d9d9d9"/>
<circle cx="97.43" cy="659.95" r="2.0" fill="#d9d9d9"/>
<circle cx="92.84" cy="642.66" r="2.0" fill="#d9d9d9"/>
<circle cx="94.74" cy="630.00" r="2.0" fill="#d9d9d9"/>
<circle cx="118.93" cy="635.85" r="2.0" fill="#d9d9d9"/>
<circle cx="117.19" cy="632.85" r="2.0" fill="#d9d9d9"/>
<circle cx="124.07" cy="641.18" r="2.0" fill="#d9d9d9"/>
<circle cx="96.36" cy="637.56" r="2.0" fill="#d9d9d9"/>
<circle cx="102.24" cy="660.27" r="2.0" fill="#d9d9d9"/>
<circle cx="121.05" cy="658.47" r="2.0" fill="#d9d9d9"/>
<circle cx="115.90" cy="638.64" r="2.0" fill="#d9d9d9"/>
<circle cx="99.17" cy="641.02" r="2.0" fill="#d9d9d9"/>
<circle cx="103.77" cy="663.54" r="2.0" fill="#d9d9d9"/>
<circle cx="126.83" cy="632.31" r="2.0" fill="#d9d9d9"/>
<circle cx="104.90" cy="656.37" r="2.0" fill="#d9d9d9"/>
<circle cx="118.16" cy="636.38" r="2.0" fill="#d9d9d9"/>
<circle cx="111.25" cy="667.78" r="2.0" fill="#d9d9d9"/>
<circle cx="105.95" cy="664.91" r="2.0" fill="#d9d9d9"/>
<circle cx="92.84" cy="650.68" r="2.0" fill="#d9d9d9"/>
<circle cx="98.69" cy="634.59" r="2.0" fill="#d9d9d9"/>
<circle cx="112.05" cy="653.88" r="2.0" fill="#d9d9d9"/>
<circle cx="125.58" cy="646.41" r="2.0" fill="#d9d9d9"/>
<circle cx="104.07" cy="658.62" r="2.0" fill="#d9d9d9"/>
<circle cx="93.64" cy="640.78" r="2.0" fill="#d9d9d9"/>
<circle cx="117.31" cy="637.89" r="2.0" fill="#d9d9d9"/>
<circle cx="92.54" cy="645.24" r="2.0" fill="#d9d9d9"/>
<circle cx="98.85" cy="639.34" r="2.0" fill="#d9d9d9"/>
<circle cx="100.45" cy="650.23" r="2.0" fill="#d9d9d9"/>
<circle cx="88.09" cy="632.12" r="2.0" fill="#d9d9d9"/>
<circle cx="94.29" cy="638.49" r="2.0" fill="#d9d9d9"/>
<circle cx="100.00" cy="640.50" r="2.0" fill="#d9d9d9"/>
<circle cx="120.31" cy="654.99" r="2.0" fill="#d9d9d9"/>
<circle cx="105.40" cy="659.47" r="2.0" fill="#d9d9d9"/>
<circle cx="114.12" cy="641.46" r="2.0" fill="#d9d9d9"/>
<circle cx="111.25" cy="658.45" r="2.0" fill="#d9d9d9"/>
<circle cx="107.91" cy="658.72" r="2.0" fill="#d9d9d9"/>
<circle cx="111.94" cy="665.65" r="2.0" fill="#d9d9d9"/>
<circle cx="96.83" cy="655.53" r="2.0" fill="#d9d9d9"/>
<circle cx="123.11" cy="632.74" r="2.0" fill="#d9d9d9"/>
<circle cx="115.66" cy="639.48" r="2.0" fill="#d9d9d9"/>
<circle cx="116.76" cy="645.73" r="2.0" fill="#d9d9d9"/>
<circle cx="112.38" cy="653.84" r="2.0" fill="#d9d9d9"/>
<circle cx="90.75" cy="640.58" r="2.0" fill="#d9d9d9"/>
<circle cx="125.69" cy="637.03" r="2.0" fill="#d9d9d9"/>
<circle cx="108.05" cy="656.51" r="2.0" fill="#d9d9d9"/>
<circle cx="106.93" cy="650.89" r="2.0" fill="#d9d9d9"/>
<circle cx="95.72" cy="645.99" r="2.0" fill="#d9d9d9"/>
<circle cx="103.21" cy="656.01" r="2.0" fill="#d9d9d9"/>
<circle cx="114.39" cy="646.03" r="2.0" fill="#d9d9d9"/>
<circle cx="101.45" cy="636.78" r="2.0" fill="#d9d9d9"/>
<circle cx="121.15" cy="648.42" r="2.0" fill="#d9d9d9"/>
<circle cx="110.05" cy="664.30" r="2.0" fill="#d9d9d9"/>
<circle cx="101.34" cy="642.47" r="2.0" fill="#d9d9d9"/>
<circle cx="113.84" cy="666.79" r="2.0" fill="#d9d9d9"/>
<circle cx="95.60" cy="636.34" r="2.0" fill="#d9d9d9"/>
<circle cx="99.72" cy="660.46" r="2.0" fill="#d9d9d9"/>
<circle cx="95.29" cy="659.45" r="2.0" fill="#d9d9d9"/>
<circle cx="93.08" cy="652.50" r="2.0" fill="#d9d9d9"/>
<circle cx="115.57" cy="655.62" r="2.0" fill="#d9d9d9"/>
<circle cx="120.77" cy="648.00" r="2.0" fill="#d9d9d9"/>
<circle cx="121.24" cy="652.74" r="2.0" fill="#d9d9d9"/>
<circle cx="92.91" cy="644.68" r="2.0" fill="#d9d9d9"/>
<circle cx="119.65" cy="647.32" r="2.0" fill="#d9d9d9"/>
<circle cx="87.72" cy="635.55" r="2.0" fill="#d9d9d9"/>
<circle cx="93.63" cy="652.15" r="2.0" fill="#d9d9d9"/>
<circle cx="112.40" cy="646.69" r="2.0" fill="#d9d9d9"/>
<circle cx="102.55" cy="667.03" r="2.0" fill="#d9d9d9"/>
<circle cx="100.06" cy="655.55" r="2.0" fill="#d9d9d9"/>
<circle cx="94.39" cy="649.31" r="2.0" fill="#d9d9d9"/>
<circle cx="93.36" cy="633.48" r="2.0" fill="#d9d9d9"/>
<circle cx="99.81" cy="633.54" r="2.0" fill="#d9d9d9"/>
<circle cx="101.63" cy="654.79" r="2.0" fill="#d9d9d9"/>
<circle cx="108.51" cy="660.43" r="2.0" fill="#d9d9d9"/>
<circle cx="115.82" cy="644.88" r="2.0" fill="#d9d9d9"/>
<circle cx="100.67" cy="648.69" r="2.0" fill="#d9d9d9"/>
<circle cx="99.09" cy="633.01" r="2.0" fill="#d9d9d9"/>
<circle cx="102.34" cy="654.92" r="2.0" fill="#d9d9d9"/>
<circle cx="119.46" cy="659.08" r="2.0" fill="#d9d9d9"/>
<circle cx="102.87" cy="654.45" r="2.0" fill="#d9d9d9"/>
<circle cx="115.03" cy="639.48" r="2.0" fill="#d9d9d9"/>
<circle cx="118.60" cy="645.85" r="2.0" fill="#d9d9d9"/>
<circle cx="117.88" cy="644.01" r="2.0" fill="#d9d9d9"/>
<circle cx="100.04" cy="666.36" r="2.0" fill="#d9d9d9"/>
<circle cx="123.09" cy="636.49" r="2.0" fill="#d9d9d9"/>
<circle cx="100.85" cy="660.13" r="2.0" fill="#d9d9d9"/>
<circle cx="117.01" cy="640.18" r="2.0" fill="#d9d9d9"/>
<circle cx="104.30" cy="666.99" r="2.0" fill="#d9d9d9"/>
<circle cx="89.70" cy="639.83" r="2.0" fill="#d9d9d9"/>
<circle cx="113.24" cy="664.85" r="2.0" fill="#d9d9d9"/>
<circle cx="124.82" cy="647.54" r="2.0" fill="#d9d9d9"/>
<circle cx="99.51" cy="637.99" r="2.0" fill="#d9d9d9"/>
<circle cx="96.64" cy="659.91" r="2.0" fill="#d9d9d9"/>
<circle cx="91.72" cy="650.59" r="2.0" fill="#d9d9d9"/>
<circle cx="124.12" cy="636.94" r="2.0" fill="#d9d9d9"/>
<circle cx="111.78" cy="649.93" r="2.0" fill="#d9d9d9"/>
<circle cx="106.13" cy="664.69" r="2.0" fill="#d9d9d9"/>
<circle cx="116.85" cy="634.73" r="2.0" fill="#d9d9d9"/>
<circle cx="118.96" cy="644.77" r="2.0" fill="#d9d9d9"/>
<circle cx="95.31" cy="639.91" r="2.0" fill="#d9d9d9"/>
<circle cx="94.45" cy="635.64" r="2.0" fill="#d9d9d9"/>
<circle cx="110.55" cy="652.61" r="2.0" fill="#d9d9d9"/>
<circle cx="116.16" cy="651.41" r="2.0" fill="#d9d9d9"/>
<circle cx="124.02" cy="640.11" r="2.0" fill="#d9d9d9"/>
<circle cx="120.18" cy="638.65" r="2.0" fill="#d9d9d9"/>
<circle cx="100.15" cy="643.77" r="2.0" fill="#d9d9d9"/>
<circle cx="105.59" cy="654.83" r="2.0" fill="#d9d9d9"/>
<circle cx="98.92" cy="656.88" r="2.0" fill="#d9d9d9"/>
<circle cx="115.11" cy="664.95" r="2.0" fill="#d9d9d9"/>
<circle cx="116.51" cy="641.11" r="2.0" fill="#d9d9d9"/>
<circle cx="115.49" cy="634.21" r="2.0" fill="#d9d9d9"/>
<circle cx="120.79" cy="644.35" r="2.0" fill="#d9d9d9"/>
<circle cx="107.44" cy="660.22" r="2.0" fill="#d9d9d9"/>
<circle cx="126.11" cy="639.24" r="2.0" fill="#d9d9d9"/>
<circle cx="114.46" cy="659.88" r="2.0" fill="#d9d9d9"/>
<circle cx="118.55" cy="642.70" r="2.0" fill="#d9d9d9"/>
<circle cx="105.45" cy="659.97" r="2.0" fill="#d9d9d9"/>
<circle cx="96.28" cy="648.19" r="2.0" fill="#d9d9d9"/>
<circle cx="111.97" cy="662.62" r="2.0" fill="#d9d9d9"/>
<circle cx="96.00" cy="655.28" r="2.0" fill="#d9d9d9"/>
<circle cx="94.90" cy="635.20" r="2.0" fill="#d9d9d9"/>
<circle cx="105.56" cy="654.59" r="2.0" fill="#d9d9d9"/>
<circle cx="112.25" cy="666.45" r="2.0" fill="#d9d9d9"/>
<circle cx="92.74" cy="649.95" r="2.0" fill="#d9d9d9"/>
<circle cx="123.62" cy="634.68" r="2.0" fill="#d9d9d9"/>
<circle cx="96.68" cy="630.60" r="2.0" fill="#d9d9d9"/>
<circle cx="112.39" cy="654.98" r="2.0" fill="#d9d9d9"/>
<circle cx="98.87" cy="663.16" r="2.0" fill="#d9d9d9"/>
<circle cx="91.34" cy="642.74" r="2.0" fill="#d9d9d9"/>
<circle cx="103.17" cy="666.72" r="2.0" fill="#d9d9d9"/>
<circle cx="98.25" cy="644.24" r="2.0" fill="#d9d9d9"/>
<circle cx="99.98" cy="650.72" r="2.0" fill="#d9d9d9"/>
<circle cx="121.94" cy="639.53" r="2.0" fill="#d9d9d9"/>
<circle cx="107.67" cy="654.12" r="2.0" fill="#d9d9d9"/>
<circle cx="110.84" cy="651.68" r="2.0" fill="#d9d9d9"/>
<circle cx="118.78" cy="635.19" r="2.0" fill="#d9d9d9"/>
<circle cx="113.59" cy="646.91" r="2.0" fill="#d9d9d9"/>
<circle cx="107.53" cy="661.84" r="2.0" fill="#d9d9d9"/>
<circle cx="121.78" cy="649.44" r="2.0" fill="#d9d9d9"/>
<circle cx="103.48" cy="639.48" r="2.0" fill="#d9d9d9"/>
<circle cx="124.39" cy="640.23" r="2.0" fill="#d9d9d9"/>
<circle cx="105.30" cy="655.60" r="2.0" fill="#d9d9d9"/>
<circle cx="88.74" cy="642.21" r="2.0" fill="#d9d9d9"/>
<circle cx="115.83" cy="642.60" r="2.0" fill="#d9d9d9"/>
<circle cx="103.90" cy="656.45" r="2.0" fill="#d9d9d9"/>
<circle cx="105.85" cy="661.09" r="2.0" fill="#d9d9d9"/>
<circle cx="106.99" cy="667.51" r="2.0" fill="#d9d9d9"/>
<circle cx="119.34" cy="657.51" r="2.0" fill="#d9d9d9"/>
<circle cx="106.10" cy="653.08" r="2.0" fill="#d9d9d9"/>
<circle cx="101.44" cy="632.02" r="2.0" fill="#d9d9d9"/>
<circle cx="117.45" cy="662.94" r="2.0" fill="#d9d9d9"/>
<circle cx="108.59" cy="668.28" r="2.0" fill="#d9d9d9"/>
<circle cx="105.40" cy="667.74" r="2.0" fill="#d9d9d9"/>
<circle cx="89.31" cy="643.95" r="2.0" fill="#d9d9d9"/>
<circle cx="109.42" cy="661.33" r="2.0" fill="#d9d9d9"/>
<circle cx="107.35" cy="660.21" r="2.0" fill="#d9d9d9"/>
<circle cx="101.32" cy="655.74" r="2.0" fill="#d9d9d9"/>
<circle cx="118.66" cy="652.71" r="2.0" fill="#d9d9d9"/>
<circle cx="88.96" cy="637.17" r="2.0" fill="#d9d9d9"/>
<circle cx="114.50" cy="665.52" r="2.0" fill="#d9d9d9"/>
<circle cx="102.29" cy="653.57" r="2.0" fill="#d9d9d9"/>
<circle cx="106.11" cy="653.19" r="2.0" fill="#d9d9d9"/>
<circle cx="122.94" cy="636.82" r="2.0" fill="#d9d9d9"/>
<circle cx="118.00" cy="662.51" r="2.0" fill="#d9d9d9"/>
<circle cx="118.02" cy="641.26" r="2.0" fill="#d9d9d9"/>
<circle cx="111.57" cy="653.75" r="2.0" fill="#d9d9d9"/>
<circle cx="89.93" cy="635.99" r="2.0" fill="#d9d9d9"/>
<circle cx="100.64" cy="644.65" r="2.0" fill="#d9d9d9"/>
<circle cx="115.39" cy="639.26" r="2.0" fill="#d9d9d9"/>
<circle cx="98.51" cy="654.38" r="2.0" fill="#d9d9d9"/>
<circle cx="112.12" cy="647.13" r="2.0" fill="#d9d9d9"/>
<circle cx="118.94" cy="642.82" r="2.0" fill="#d9d9d9"/>
<circle cx="115.21" cy="650.00" r="2.0" fill="#d9d9d9"/>
<circle cx="98.79" cy="647.97" r="2.0" fill="#d9d9d9"/>
<circle cx="117.22" cy="663.60" r="2.0" fill="#d9d9d9"/>
<circle cx="121.01" cy="643.52" r="2.0" fill="#d9d9d9"/>
<circle cx="120.73" cy="635.04" r="2.0" fill="#d9d9d9"/>
<circle cx="121.51" cy="657.53" r="2.0" fill="#d9d9d9"/>
<circle cx="113.02" cy="661.03" r="2.0" fill="#d9d9d9"/>
<circle cx="100.25" cy="646.54" r="2.0" fill="#d9d9d9"/>
<circle cx="90.22" cy="642.85" r="2.0" fill="#d9d9d9"/>
<circle cx="94.18" cy="657.89" r="2.0" fill="#d9d9d9"/>
<circle cx="90.89" cy="646.64" r="2.0" fill="#d9d9d9"/>
<circle cx="126.04" cy="643.25" r="2.0" fill="#d9d9d9"/>
<circle cx="103.82" cy="640.26" r="2.0" fill="#d9d9d9"/>
<circle cx="101.30" cy="639.92" r="2.0" fill="#d9d9d9"/>
<circle cx="121.02" cy="631.83" r="2.0" fill="#d9d9d9"/>
<circle cx="100.95" cy="652.60" r="2.0" fill="#d9d9d9"/>
<circle cx="98.60" cy="646.19" r="2.0" fill="#d9d9d9"/>
<circle cx="117.43" cy="645.99" r="2.0" fill="#d9d9d9"/>
<circle cx="103.03" cy="654.84" r="2.0" fill="#d9d9d9"/>
<circle cx="97.34" cy="650.73" r="2.0" fill="#d9d9d9"/>
<circle cx="93.99" cy="653.38" r="2.0" fill="#d9d9d9"/>
<circle cx="121.87" cy="660.41" r="2.0" fill="#d9d9d9"/>
<circle cx="125.11" cy="646.57" r="2.0" fill="#d9d9d9"/>
<circle cx="101.03" cy="646.97" r="2.0" fill="#d9d9d9"/>
<circle cx="119.01" cy="640.90" r="2.0" fill="#d9d9d9"/>
<circle cx="90.87" cy="637.05" r="2.0" fill="#d9d9d9"/>
<circle cx="113.56" cy="656.74" r="2.0" fill="#d9d9d9"/>
<circle cx="124.01" cy="633.93" r="2.0" fill="#d9d9d9"/>
<circle cx="79.79" cy="656.18" r="2.0" fill="#d9d9d9"/>
<circle cx="147.27" cy="660.36" r="2.0" fill="#d9d9d9"/>
<circle cx="72.12" cy="631.90" r="2.0" fill="#d9d9d9"/>
<circle cx="82.74" cy="647.70" r="2.0" fill="#d9d9d9"/>
<circle cx="78.78" cy="659.92" r="2.0" fill="#d9d9d9"/>
<circle cx="126.91" cy="649.07" r="2.0" fill="#d9d9d9"/>
<circle cx="76.50" cy="642.83" r="2.0" fill="#d9d9d9"/>
<circle cx="139.86" cy="635.13" r="2.0" fill="#d9d9d9"/>
<circle cx="142.45" cy="639.86" r="2.0" fill="#d9d9d9"/>
<circle cx="62.52" cy="655.29" r="2.0" fill="#d9d9d9"/>
<circle cx="62.56" cy="635.06" r="2.0" fill="#d9d9d9"/>
<circle cx="74.38" cy="658.97" r="2.0" fill="#d9d9d9"/>
<circle cx="128.19" cy="643.54" r="2.0" fill="#d9d9d9"/>
<circle cx="132.78" cy="635.19" r="2.0" fill="#d9d9d9"/>
<circle cx="81.41" cy="648.37" r="2.0" fill="#d9d9d9"/>
<circle cx="69.46" cy="662.09" r="2.0" fill="#d9d9d9"/>
<circle cx="133.78" cy="640.02" r="2.0" fill="#d9d9d9"/>
<circle cx="79.87" cy="658.41" r="2.0" fill="#d9d9d9"/>
<circle cx="148.39" cy="649.87" r="2.0" fill="#d9d9d9"/>
<circle cx="134.85" cy="648.69" r="2.0" fill="#d9d9d9"/>
<circle cx="144.43" cy="660.50" r="2.0" fill="#d9d9d9"/>
<circle cx="83.58" cy="640.75" r="2.0" fill="#d9d9d9"/>
<circle cx="62.22" cy="645.63" r="2.0" fill="#d9d9d9"/>
<circle cx="76.00" cy="653.14" r="2.0" fill="#d9d9d9"/>
<circle cx="66.79" cy="632.82" r="2.0" fill="#d9d9d9"/>
<circle cx="69.45" cy="646.20" r="2.0" fill="#d9d9d9"/>
<circle cx="78.47" cy="643.48" r="2.0" fill="#d9d9d9"/>
<circle cx="140.71" cy="644.61" r="2.0" fill="#d9d9d9"/>
<circle cx="74.22" cy="645.24" r="2.0" fill="#d9d9d9"/>
<circle cx="139.03" cy="642.45" r="2.0" fill="#d9d9d9"/>
<circle cx="122.09" cy="661.45" r="2.0" fill="#d9d9d9"/>
<circle cx="65.56" cy="648.77" r="2.0" fill="#d9d9d9"/>
<circle cx="84.92" cy="657.27" r="2.0" fill="#d9d9d9"/>
<circle cx="74.06" cy="659.70" r="2.0" fill="#d9d9d9"/>
<circle cx="126.04" cy="653.97" r="2.0" fill="#d9d9d9"/>
<circle cx="76.58" cy="644.25" r="2.0" fill="#d9d9d9"/>
<circle cx="72.16" cy="643.99" r="2.0" fill="#d9d9d9"/>
<circle cx="92.62" cy="661.52" r="2.0" fill="#d9d9d9"/>
<circle cx="151.07" cy="652.44" r="2.0" fill="#d9d9d9"/>
<circle cx="78.43" cy="645.01" r="2.0" fill="#d9d9d9"/>
<circle cx="127.38" cy="653.01" r="2.0" fill="#d9d9d9"/>
<circle cx="133.23" cy="649.44" r="2.0" fill="#d9d9d9"/>
<circle cx="123.86" cy="658.64" r="2.0" fill="#d9d9d9"/>
<circle cx="144.30" cy="655.17" r="2.0" fill="#d9d9d9"/>
<circle cx="75.41" cy="632.58" r="2.0" fill="#d9d9d9"/>
<circle cx="134.28" cy="660.00" r="2.0" fill="#d9d9d9"/>
<circle cx="125.89" cy="656.72" r="2.0" fill="#d9d9d9"/>
<circle cx="86.52" cy="636.36" r="2.0" fill="#d9d9d9"/>
<circle cx="123.95" cy="656.58" r="2.0" fill="#d9d9d9"/>
<circle cx="77.58" cy="650.99" r="2.0" fill="#d9d9d9"/>
<circle cx="125.39" cy="662.84" r="2.0" fill="#d9d9d9"/>
<circle cx="88.50" cy="646.55" r="2.0" fill="#d9d9d9"/>
<circle cx="80.15" cy="651.38" r="2.0" fill="#d9d9d9"/>
<circle cx="129.29" cy="661.62" r="2.0" fill="#d9d9d9"/>
<circle cx="128.32" cy="649.34" r="2.0" fill="#d9d9d9"/>
<circle cx="134.08" cy="657.84" r="2.0" fill="#d9d9d9"/>
<circle cx="149.34" cy="653.14" r="2.0" fill="#d9d9d9"/>
<circle cx="60.76" cy="632.41" r="2.0" fill="#d9d9d9"/>
<circle cx="82.22" cy="643.52" r="2.0" fill="#d9d9d9"/>
<circle cx="129.12" cy="642.68" r="2.0" fill="#d9d9d9"/>
<circle cx="123.99" cy="657.58" r="2.0" fill="#d9d9d9"/>
<circle cx="85.94" cy="653.00" r="2.0" fill="#d9d9d9"/>
<circle cx="66.75" cy="639.50" r="2.0" fill="#d9d9d9"/>
<circle cx="130.92" cy="657.73" r="2.0" fill="#d9d9d9"/>
<circle cx="70.60" cy="651.60" r="2.0" fill="#d9d9d9"/>
<circle cx="94.05" cy="659.30" r="2.0" fill="#d9d9d9"/>
<circle cx="84.33" cy="648.98" r="2.0" fill="#d9d9d9"/>
<circle cx="129.52" cy="649.47" r="2.0" fill="#d9d9d9"/>
<circle cx="84.05" cy="633.63" r="2.0" fill="#d9d9d9"/>
<circle cx="145.57" cy="654.78" r="2.0" fill="#d9d9d9"/>
<circle cx="143.24" cy="643.32" r="2.0" fill="#d9d9d9"/>
<circle cx="129.19" cy="642.98" r="2.0" fill="#d9d9d9"/>
<circle cx="39.90" cy="637.60" r="2.0" fill="#d9d9d9"/>
<circle cx="47.90" cy="648.30" r="2.0" fill="#d9d9d9"/>
<circle cx="169.70" cy="638.80" r="2.0" fill="#d9d9d9"/>
<circle cx="157.80" cy="641.60" r="2.0" fill="#d9d9d9"/>
<circle cx="152.10" cy="652.00" r="2.0" fill="#d9d9d9"/>
<circle cx="58.00" cy="646.00" r="2.0" fill="#d9d9d9"/>
<circle cx="63.00" cy="642.00" r="2.0" fill="#d9d9d9"/>
<circle cx="55.00" cy="652.00" r="2.0" fill="#d9d9d9"/>
<circle cx="161.00" cy="650.00" r="2.0" fill="#d9d9d9"/>
<circle cx="65.00" cy="659.00" r="2.0" fill="#d9d9d9"/>
<circle cx="70.00" cy="662.00" r="2.0" fill="#d9d9d9"/>
<circle cx="145.00" cy="663.00" r="2.0" fill="#d9d9d9"/>
<circle cx="155.00" cy="658.00" r="2.0" fill="#d9d9d9"/>
<circle cx="88.00" cy="626.00" r="2.0" fill="#d9d9d9"/>
<circle cx="126.00" cy="627.00" r="2.0" fill="#d9d9d9"/>
<circle cx="138.00" cy="627.00" r="2.0" fill="#d9d9d9"/>
<circle cx="69.70" cy="601.10" r="2.0" fill="#3a3a3a"/>
<circle cx="90.80" cy="601.00" r="2.0" fill="#3a3a3a"/>
<circle cx="91.60" cy="603.00" r="2.0" fill="#3a3a3a"/>
<circle cx="99.00" cy="603.80" r="2.0" fill="#3a3a3a"/>
<circle cx="94.50" cy="606.80" r="2.0" fill="#3a3a3a"/>
<circle cx="90.80" cy="607.80" r="2.0" fill="#3a3a3a"/>
<circle cx="95.30" cy="614.70" r="2.0" fill="#3a3a3a"/>
<circle cx="99.00" cy="615.70" r="2.0" fill="#3a3a3a"/>
<circle cx="91.60" cy="619.70" r="2.0" fill="#3a3a3a"/>
<circle cx="77.90" cy="625.90" r="2.0" fill="#3a3a3a"/>
<circle cx="84.60" cy="625.90" r="2.0" fill="#3a3a3a"/>
<circle cx="91.60" cy="627.20" r="2.0" fill="#3a3a3a"/>
<circle cx="95.30" cy="627.00" r="2.0" fill="#3a3a3a"/>
<circle cx="99.50" cy="626.00" r="2.0" fill="#3a3a3a"/>
<circle cx="129.80" cy="596.10" r="2.0" fill="#3a3a3a"/>
<circle cx="161.00" cy="588.20" r="2.0" fill="#3a3a3a"/>
<circle cx="123.80" cy="601.10" r="2.0" fill="#3a3a3a"/>
<circle cx="128.00" cy="605.30" r="2.0" fill="#3a3a3a"/>
<circle cx="123.80" cy="605.00" r="2.0" fill="#3a3a3a"/>
<circle cx="140.40" cy="606.10" r="2.0" fill="#3a3a3a"/>
<circle cx="138.00" cy="608.50" r="2.0" fill="#3a3a3a"/>
<circle cx="157.30" cy="607.30" r="2.0" fill="#3a3a3a"/>
<circle cx="131.80" cy="615.20" r="2.0" fill="#3a3a3a"/>
<circle cx="151.60" cy="614.70" r="2.0" fill="#3a3a3a"/>
<circle cx="120.80" cy="620.50" r="2.0" fill="#3a3a3a"/>
<circle cx="145.40" cy="622.90" r="2.0" fill="#3a3a3a"/>
<circle cx="128.80" cy="628.40" r="2.0" fill="#3a3a3a"/>
<circle cx="117.40" cy="627.20" r="2.0" fill="#3a3a3a"/>
<circle cx="122.30" cy="624.20" r="2.0" fill="#3a3a3a"/>
<circle cx="91.70" cy="552.40" r="2.0" fill="#3a3a3a"/>
<circle cx="92.50" cy="552.40" r="2.0" fill="#3a3a3a"/>
<circle cx="156.60" cy="552.40" r="2.0" fill="#3a3a3a"/>
<circle cx="131.30" cy="588.70" r="2.0" fill="#d42127"/>
<circle cx="136.70" cy="588.70" r="2.0" fill="#d42127"/>
<circle cx="123.80" cy="596.40" r="2.0" fill="#d42127"/>
<circle cx="120.60" cy="601.10" r="2.0" fill="#d42127"/>
<circle cx="126.30" cy="600.40" r="2.0" fill="#d42127"/>
<circle cx="131.80" cy="601.10" r="2.0" fill="#d42127"/>
<circle cx="124.30" cy="604.10" r="2.0" fill="#d42127"/>
<circle cx="120.60" cy="606.80" r="2.0" fill="#d42127"/>
<circle cx="126.80" cy="606.80" r="2.0" fill="#d42127"/>
<circle cx="131.80" cy="606.10" r="2.0" fill="#d42127"/>
<circle cx="117.40" cy="614.70" r="2.0" fill="#d42127"/>
<circle cx="119.80" cy="614.70" r="2.0" fill="#d42127"/>
<circle cx="122.30" cy="614.30" r="2.0" fill="#d42127"/>
<circle cx="125.60" cy="619.70" r="2.0" fill="#d42127"/>
<circle cx="124.30" cy="621.00" r="2.0" fill="#d42127"/>
<circle cx="144.70" cy="614.30" r="2.0" fill="#d42127"/>
<circle cx="136.70" cy="622.20" r="2.0" fill="#d42127"/>
<circle cx="120.60" cy="626.70" r="2.0" fill="#d42127"/>
<circle cx="131.30" cy="629.10" r="2.0" fill="#d42127"/>
<circle cx="151.10" cy="629.10" r="2.0" fill="#d42127"/>
<circle cx="173.50" cy="608.50" r="2.0" fill="#d42127"/>
<circle cx="161.80" cy="552.40" r="2.0" fill="#d42127"/>
<circle cx="164.60" cy="552.40" r="2.0" fill="#d42127"/>
<circle cx="168.30" cy="552.40" r="2.0" fill="#d42127"/>
<circle cx="173.00" cy="552.40" r="2.0" fill="#d42127"/>
<circle cx="176.90" cy="552.40" r="2.0" fill="#d42127"/>
<circle cx="179.30" cy="552.40" r="2.0" fill="#d42127"/>
<circle cx="180.90" cy="552.40" r="2.0" fill="#d42127"/>
<circle cx="187.90" cy="552.40" r="2.0" fill="#d42127"/>
<circle cx="193.30" cy="552.40" r="2.0" fill="#d42127"/>
<circle cx="203.10" cy="552.40" r="2.0" fill="#d42127"/>
<circle cx="224.10" cy="552.40" r="2.0" fill="#d42127"/>
<circle cx="121.00" cy="552.40" r="1.8" fill="#d42127"/>
<circle cx="122.90" cy="552.40" r="1.8" fill="#d42127"/>
<circle cx="124.80" cy="552.40" r="1.8" fill="#d42127"/>
<circle cx="126.70" cy="552.40" r="1.8" fill="#d42127"/>
<circle cx="128.60" cy="552.40" r="1.8" fill="#d42127"/>
<circle cx="130.50" cy="552.40" r="1.8" fill="#d42127"/>
<circle cx="132.40" cy="552.40" r="1.8" fill="#d42127"/>
<circle cx="134.30" cy="552.40" r="1.8" fill="#d42127"/>
<circle cx="136.20" cy="552.40" r="1.8" fill="#d42127"/>
<circle cx="138.10" cy="552.40" r="1.8" fill="#d42127"/>
<circle cx="140.00" cy="552.40" r="1.8" fill="#d42127"/>
<circle cx="141.90" cy="552.40" r="1.8" fill="#d42127"/>
<circle cx="143.80" cy="552.40" r="1.8" fill="#d42127"/>
<circle cx="145.70" cy="552.40" r="1.8" fill="#d42127"/>
<circle cx="147.60" cy="552.40" r="1.8" fill="#d42127"/>
<circle cx="149.50" cy="552.40" r="1.8" fill="#d42127"/>
<circle cx="151.40" cy="552.40" r="1.8" fill="#d42127"/>
<circle cx="153.30" cy="552.40" r="1.8" fill="#d42127"/>
<circle cx="128.00" cy="552.40" r="2.0" fill="#8a2a2e"/>
<circle cx="133.00" cy="552.40" r="2.0" fill="#8a2a2e"/>
<circle cx="141.00" cy="552.40" r="2.0" fill="#8a2a2e"/>
<line x1="130.90" y1="544.30" x2="133.30" y2="551.50" stroke="#d42127" stroke-width="0.9"/>
<line x1="129.00" y1="558.50" x2="130.20" y2="553.30" stroke="#d42127" stroke-width="0.9"/>
<line x1="149.40" y1="544.30" x2="150.00" y2="551.50" stroke="#d42127" stroke-width="0.9"/>
<line x1="154.70" y1="558.00" x2="150.10" y2="553.30" stroke="#d42127" stroke-width="0.9"/>
<line x1="184.00" y1="545.20" x2="180.40" y2="551.80" stroke="#d42127" stroke-width="0.9"/>
<line x1="192.80" y1="557.30" x2="188.60" y2="553.30" stroke="#d42127" stroke-width="0.9"/>
<line x1="111.40" y1="597.90" x2="116.90" y2="613.00" stroke="#d42127" stroke-width="0.9"/>
<line x1="137.20" y1="596.90" x2="131.80" y2="601.10" stroke="#d42127" stroke-width="0.9"/>
<text x="115.00" y="543.95" font-size="7.4" text-anchor="start" fill="#000" stroke="#000" stroke-width="0.1">ISG15</text>
<text x="144.90" y="543.95" font-size="7.4" text-anchor="start" fill="#000" stroke="#000" stroke-width="0.1">IFI6</text>
<text x="164.10" y="543.95" font-size="7.4" text-anchor="start" fill="#000" stroke="#000" stroke-width="0.1">IFIT1</text>
<text x="182.80" y="543.95" font-size="7.4" text-anchor="start" fill="#000" stroke="#000" stroke-width="0.1">OAS1</text>
<text x="203.30" y="549.75" font-size="7.4" text-anchor="start" fill="#000" stroke="#000" stroke-width="0.1">IFIT2</text>
<text x="109.90" y="564.95" font-size="7.4" text-anchor="start" fill="#000" stroke="#000" stroke-width="0.1">STAT1</text>
<text x="155.20" y="562.85" font-size="7.4" text-anchor="start" fill="#000" stroke="#000" stroke-width="0.1">MX1</text>
<text x="192.80" y="564.95" font-size="7.4" text-anchor="start" fill="#000" stroke="#000" stroke-width="0.1">OASL</text>
<text x="222.00" y="561.45" font-size="7.4" text-anchor="start" fill="#000" stroke="#000" stroke-width="0.1">IFIH1</text>
<text x="85.10" y="594.85" font-size="7.4" text-anchor="start" fill="#000" stroke="#000" stroke-width="0.1">SAMHD1</text>
<text x="137.40" y="600.85" font-size="7.4" text-anchor="start" fill="#000" stroke="#000" stroke-width="0.1">OAS3</text>
<text x="174.50" y="607.25" font-size="7.4" text-anchor="start" fill="#000" stroke="#000" stroke-width="0.1">BST2</text>
<line x1="30.80" y1="532.50" x2="30.80" y2="673.50" stroke="#4d4d4d" stroke-width="0.9"/>
<line x1="28.60" y1="666.40" x2="30.80" y2="666.40" stroke="#4d4d4d" stroke-width="0.8"/>
<text x="28.00" y="668.69" font-size="6.4" text-anchor="end" fill="#333" stroke="#333" stroke-width="0.1">0</text>
<line x1="28.60" y1="637.60" x2="30.80" y2="637.60" stroke="#4d4d4d" stroke-width="0.8"/>
<text x="28.00" y="639.89" font-size="6.4" text-anchor="end" fill="#333" stroke="#333" stroke-width="0.1">1</text>
<line x1="28.60" y1="608.90" x2="30.80" y2="608.90" stroke="#4d4d4d" stroke-width="0.8"/>
<text x="28.00" y="611.19" font-size="6.4" text-anchor="end" fill="#333" stroke="#333" stroke-width="0.1">2</text>
<line x1="28.60" y1="580.50" x2="30.80" y2="580.50" stroke="#4d4d4d" stroke-width="0.8"/>
<text x="28.00" y="582.79" font-size="6.4" text-anchor="end" fill="#333" stroke="#333" stroke-width="0.1">3</text>
<line x1="28.60" y1="551.80" x2="30.80" y2="551.80" stroke="#4d4d4d" stroke-width="0.8"/>
<text x="28.00" y="554.09" font-size="6.4" text-anchor="end" fill="#333" stroke="#333" stroke-width="0.1">&gt;4</text>
<line x1="30.80" y1="673.50" x2="235.50" y2="673.50" stroke="#4d4d4d" stroke-width="0.9"/>
<line x1="64.80" y1="673.50" x2="64.80" y2="675.70" stroke="#4d4d4d" stroke-width="0.8"/>
<text x="64.80" y="681.09" font-size="6.4" text-anchor="middle" fill="#333" stroke="#333" stroke-width="0.1">−2</text>
<line x1="108.60" y1="673.50" x2="108.60" y2="675.70" stroke="#4d4d4d" stroke-width="0.8"/>
<text x="108.60" y="681.09" font-size="6.4" text-anchor="middle" fill="#333" stroke="#333" stroke-width="0.1">0</text>
<line x1="151.70" y1="673.50" x2="151.70" y2="675.70" stroke="#4d4d4d" stroke-width="0.8"/>
<text x="151.70" y="681.09" font-size="6.4" text-anchor="middle" fill="#333" stroke="#333" stroke-width="0.1">2</text>
<line x1="195.20" y1="673.50" x2="195.20" y2="675.70" stroke="#4d4d4d" stroke-width="0.8"/>
<text x="195.20" y="681.09" font-size="6.4" text-anchor="middle" fill="#333" stroke="#333" stroke-width="0.1">4</text>
<text x="117.40" y="691.82" font-size="9" text-anchor="middle" fill="#000" stroke="#000" stroke-width="0.1">log2 Fold Change</text>
<text x="16.32" y="611.60" font-size="9" text-anchor="middle" fill="#000" stroke="#000" stroke-width="0.1" transform="rotate(-90 16.32 611.60)">−log10(Padj)</text>
<rect x="385.10" y="534.10" width="128.80" height="11.90" fill="#bb1a8c"/>
<text x="382.00" y="541.11" font-size="7.7" text-anchor="end" fill="#000" stroke="#000" stroke-width="0.1">Type I interferon signaling pathway</text>
<rect x="385.10" y="548.00" width="114.90" height="11.70" fill="#e81f26"/>
<text x="382.00" y="554.91" font-size="7.7" text-anchor="end" fill="#000" stroke="#000" stroke-width="0.1">Defense response to virus</text>
<rect x="385.10" y="561.90" width="106.60" height="11.70" fill="#e81f28"/>
<text x="382.00" y="568.81" font-size="7.7" text-anchor="end" fill="#000" stroke="#000" stroke-width="0.1">Defense response to other organism</text>
<rect x="385.10" y="575.50" width="93.40" height="12.10" fill="#dd1d66"/>
<text x="382.00" y="582.61" font-size="7.7" text-anchor="end" fill="#000" stroke="#000" stroke-width="0.1">Response to virus</text>
<rect x="385.10" y="589.30" width="89.10" height="12.10" fill="#4650a0"/>
<text x="382.00" y="596.41" font-size="7.7" text-anchor="end" fill="#000" stroke="#000" stroke-width="0.1">Regulation of multi−organism process</text>
<rect x="385.10" y="603.10" width="83.60" height="12.40" fill="#df1d5e"/>
<text x="382.00" y="610.36" font-size="7.7" text-anchor="end" fill="#000" stroke="#000" stroke-width="0.1">Response to other organism</text>
<rect x="385.10" y="617.00" width="72.90" height="12.30" fill="#b3228e"/>
<text x="382.00" y="624.21" font-size="7.7" text-anchor="end" fill="#000" stroke="#000" stroke-width="0.1">Response to external biotic stimulus</text>
<rect x="385.10" y="631.00" width="72.90" height="12.10" fill="#c21b8a"/>
<text x="382.00" y="638.11" font-size="7.7" text-anchor="end" fill="#000" stroke="#000" stroke-width="0.1">Response to biotic stimulus</text>
<rect x="385.10" y="644.80" width="70.90" height="12.00" fill="#c41a89"/>
<text x="382.00" y="651.86" font-size="7.7" text-anchor="end" fill="#000" stroke="#000" stroke-width="0.1">Defense response</text>
<rect x="385.10" y="658.70" width="58.30" height="12.10" fill="#3f55a6"/>
<text x="382.00" y="665.81" font-size="7.7" text-anchor="end" fill="#000" stroke="#000" stroke-width="0.1">Response to external stimulus</text>
<line x1="385.10" y1="531.00" x2="385.10" y2="673.20" stroke="#333" stroke-width="0.9"/>
<line x1="385.10" y1="673.20" x2="519.40" y2="673.20" stroke="#4d4d4d" stroke-width="0.9"/>
<line x1="385.10" y1="673.20" x2="385.10" y2="675.40" stroke="#4d4d4d" stroke-width="0.8"/>
<text x="385.10" y="680.79" font-size="6.4" text-anchor="middle" fill="#333" stroke="#333" stroke-width="0.1">0</text>
<line x1="426.10" y1="673.20" x2="426.10" y2="675.40" stroke="#4d4d4d" stroke-width="0.8"/>
<text x="426.10" y="680.79" font-size="6.4" text-anchor="middle" fill="#333" stroke="#333" stroke-width="0.1">2</text>
<line x1="467.40" y1="673.20" x2="467.40" y2="675.40" stroke="#4d4d4d" stroke-width="0.8"/>
<text x="467.40" y="680.79" font-size="6.4" text-anchor="middle" fill="#333" stroke="#333" stroke-width="0.1">4</text>
<line x1="507.70" y1="673.20" x2="507.70" y2="675.40" stroke="#4d4d4d" stroke-width="0.8"/>
<text x="507.70" y="680.79" font-size="6.4" text-anchor="middle" fill="#333" stroke="#333" stroke-width="0.1">6</text>
<text x="446.60" y="691.22" font-size="9" text-anchor="middle" fill="#000" stroke="#000" stroke-width="0.1">Enrichment Score</text>
<rect x="501.10" y="621.10" width="8.50" height="40.90" fill="url(#bcb)"/>
<text x="511.70" y="627.46" font-size="6.6" text-anchor="start" fill="#000" stroke="#000" stroke-width="0.1">10</text>
<text x="511.70" y="635.86" font-size="6.6" text-anchor="start" fill="#000" stroke="#000" stroke-width="0.1">9</text>
<text x="511.70" y="644.96" font-size="6.6" text-anchor="start" fill="#000" stroke="#000" stroke-width="0.1">8</text>
<text x="511.70" y="653.36" font-size="6.6" text-anchor="start" fill="#000" stroke="#000" stroke-width="0.1">7</text>
<text x="511.70" y="661.76" font-size="6.6" text-anchor="start" fill="#000" stroke="#000" stroke-width="0.1">6</text>
<text x="528.62" y="642.50" font-size="6.2" text-anchor="middle" fill="#000" stroke="#000" stroke-width="0.1" transform="rotate(-90 528.62 642.50)">−log10(FDR q−value)</text>
<line x1="30.70" y1="697.90" x2="30.70" y2="767.20" stroke="#4d4d4d" stroke-width="0.9"/>
<line x1="30.70" y1="767.20" x2="548.50" y2="767.20" stroke="#4d4d4d" stroke-width="0.9"/>
<line x1="30.70" y1="770.90" x2="30.70" y2="821.40" stroke="#4d4d4d" stroke-width="0.9"/>
<line x1="30.70" y1="821.40" x2="548.50" y2="821.40" stroke="#4d4d4d" stroke-width="0.9"/>
<line x1="28.50" y1="707.00" x2="30.70" y2="707.00" stroke="#4d4d4d" stroke-width="0.8"/>
<text x="27.90" y="709.29" font-size="6.4" text-anchor="end" fill="#333" stroke="#333" stroke-width="0.1">7.5</text>
<line x1="28.50" y1="727.10" x2="30.70" y2="727.10" stroke="#4d4d4d" stroke-width="0.8"/>
<text x="27.90" y="729.39" font-size="6.4" text-anchor="end" fill="#333" stroke="#333" stroke-width="0.1">5.0</text>
<line x1="28.50" y1="747.30" x2="30.70" y2="747.30" stroke="#4d4d4d" stroke-width="0.8"/>
<text x="27.90" y="749.59" font-size="6.4" text-anchor="end" fill="#333" stroke="#333" stroke-width="0.1">2.5</text>
<line x1="28.50" y1="767.10" x2="30.70" y2="767.10" stroke="#4d4d4d" stroke-width="0.8"/>
<text x="27.90" y="769.39" font-size="6.4" text-anchor="end" fill="#333" stroke="#333" stroke-width="0.1">0.0</text>
<line x1="28.50" y1="781.00" x2="30.70" y2="781.00" stroke="#4d4d4d" stroke-width="0.8"/>
<text x="27.90" y="783.29" font-size="6.4" text-anchor="end" fill="#333" stroke="#333" stroke-width="0.1">5.0</text>
<line x1="28.50" y1="801.20" x2="30.70" y2="801.20" stroke="#4d4d4d" stroke-width="0.8"/>
<text x="27.90" y="803.49" font-size="6.4" text-anchor="end" fill="#333" stroke="#333" stroke-width="0.1">2.5</text>
<line x1="28.50" y1="821.30" x2="30.70" y2="821.30" stroke="#4d4d4d" stroke-width="0.8"/>
<text x="27.90" y="823.59" font-size="6.4" text-anchor="end" fill="#333" stroke="#333" stroke-width="0.1">0.0</text>
<text x="32.90" y="705.12" font-size="9" text-anchor="start" fill="#000" stroke="#000" stroke-width="0.1">RNA</text>
<text x="32.90" y="777.62" font-size="9" text-anchor="start" fill="#000" stroke="#000" stroke-width="0.1">Protein</text>
<text x="12.82" y="769.30" font-size="9" text-anchor="middle" fill="#000" stroke="#000" stroke-width="0.1" transform="rotate(-90 12.82 769.30)">log2 Fold Change</text>
<line x1="36.30" y1="767.20" x2="36.30" y2="712.80" stroke="#d42424" stroke-width="1.3"/>
<line x1="36.30" y1="821.40" x2="36.30" y2="790.10" stroke="#f09c40" stroke-width="1.3"/>
<line x1="45.37" y1="767.20" x2="45.37" y2="712.80" stroke="#d42424" stroke-width="1.3"/>
<line x1="45.37" y1="821.40" x2="45.37" y2="794.70" stroke="#f09c40" stroke-width="1.3"/>
<line x1="54.44" y1="767.20" x2="54.44" y2="713.70" stroke="#d42424" stroke-width="1.3"/>
<line x1="54.44" y1="821.40" x2="54.44" y2="797.30" stroke="#f09c40" stroke-width="1.3"/>
<line x1="63.51" y1="767.20" x2="63.51" y2="716.30" stroke="#d42424" stroke-width="1.3"/>
<line x1="63.51" y1="821.40" x2="63.51" y2="791.90" stroke="#f09c40" stroke-width="1.3"/>
<line x1="72.58" y1="767.20" x2="72.58" y2="717.50" stroke="#d42424" stroke-width="1.3"/>
<line x1="72.58" y1="821.40" x2="72.58" y2="807.30" stroke="#f09c40" stroke-width="1.3"/>
<line x1="81.65" y1="767.20" x2="81.65" y2="717.50" stroke="#d42424" stroke-width="1.3"/>
<line x1="81.65" y1="821.40" x2="81.65" y2="807.00" stroke="#f09c40" stroke-width="1.3"/>
<line x1="90.72" y1="767.20" x2="90.72" y2="718.00" stroke="#d42424" stroke-width="1.3"/>
<line x1="90.72" y1="821.40" x2="90.72" y2="786.30" stroke="#f09c40" stroke-width="1.3"/>
<line x1="99.79" y1="767.20" x2="99.79" y2="719.40" stroke="#d42424" stroke-width="1.3"/>
<line x1="99.79" y1="821.40" x2="99.79" y2="806.40" stroke="#f09c40" stroke-width="1.3"/>
<line x1="108.86" y1="767.20" x2="108.86" y2="724.70" stroke="#d42424" stroke-width="1.3"/>
<line x1="108.86" y1="821.40" x2="108.86" y2="800.30" stroke="#f09c40" stroke-width="1.3"/>
<line x1="117.93" y1="767.20" x2="117.93" y2="729.40" stroke="#d42424" stroke-width="1.3"/>
<line x1="117.93" y1="821.40" x2="117.93" y2="797.70" stroke="#f09c40" stroke-width="1.3"/>
<line x1="127.00" y1="767.20" x2="127.00" y2="732.60" stroke="#d42424" stroke-width="1.3"/>
<line x1="127.00" y1="821.40" x2="127.00" y2="778.10" stroke="#f09c40" stroke-width="1.3"/>
<line x1="136.07" y1="767.20" x2="136.07" y2="732.90" stroke="#d42424" stroke-width="1.3"/>
<line x1="136.07" y1="821.40" x2="136.07" y2="801.60" stroke="#f09c40" stroke-width="1.3"/>
<line x1="145.14" y1="767.20" x2="145.14" y2="733.20" stroke="#d42424" stroke-width="1.3"/>
<line x1="145.14" y1="821.40" x2="145.14" y2="807.50" stroke="#f09c40" stroke-width="1.3"/>
<line x1="154.21" y1="767.20" x2="154.21" y2="734.70" stroke="#d42424" stroke-width="1.3"/>
<line x1="154.21" y1="821.40" x2="154.21" y2="812.40" stroke="#f09c40" stroke-width="1.3"/>
<line x1="163.28" y1="767.20" x2="163.28" y2="735.40" stroke="#d42424" stroke-width="1.3"/>
<line x1="163.28" y1="821.40" x2="163.28" y2="812.40" stroke="#f09c40" stroke-width="1.3"/>
<line x1="172.35" y1="767.20" x2="172.35" y2="738.20" stroke="#d42424" stroke-width="1.3"/>
<line x1="172.35" y1="821.40" x2="172.35" y2="799.10" stroke="#f09c40" stroke-width="1.3"/>
<line x1="181.42" y1="767.20" x2="181.42" y2="742.00" stroke="#d42424" stroke-width="1.3"/>
<line x1="181.42" y1="821.40" x2="181.42" y2="808.20" stroke="#f09c40" stroke-width="1.3"/>
<line x1="190.49" y1="767.20" x2="190.49" y2="742.40" stroke="#d42424" stroke-width="1.3"/>
<line x1="190.49" y1="821.40" x2="190.49" y2="810.30" stroke="#f09c40" stroke-width="1.3"/>
<line x1="199.56" y1="767.20" x2="199.56" y2="742.80" stroke="#d42424" stroke-width="1.3"/>
<line x1="199.56" y1="821.40" x2="199.56" y2="806.80" stroke="#f09c40" stroke-width="1.3"/>
<line x1="208.63" y1="767.20" x2="208.63" y2="746.90" stroke="#d42424" stroke-width="1.3"/>
<line x1="208.63" y1="821.40" x2="208.63" y2="813.10" stroke="#f09c40" stroke-width="1.3"/>
<line x1="217.70" y1="767.20" x2="217.70" y2="747.20" stroke="#d42424" stroke-width="1.3"/>
<line x1="217.70" y1="821.40" x2="217.70" y2="805.40" stroke="#f09c40" stroke-width="1.3"/>
<line x1="226.77" y1="767.20" x2="226.77" y2="749.40" stroke="#d42424" stroke-width="1.3"/>
<line x1="226.77" y1="821.40" x2="226.77" y2="815.20" stroke="#f09c40" stroke-width="1.3"/>
<line x1="235.84" y1="767.20" x2="235.84" y2="749.80" stroke="#d42424" stroke-width="1.3"/>
<line x1="235.84" y1="821.40" x2="235.84" y2="811.80" stroke="#f09c40" stroke-width="1.3"/>
<line x1="244.91" y1="767.20" x2="244.91" y2="750.40" stroke="#d42424" stroke-width="1.3"/>
<line x1="244.91" y1="821.40" x2="244.91" y2="816.90" stroke="#f09c40" stroke-width="1.3"/>
<line x1="253.98" y1="767.20" x2="253.98" y2="750.40" stroke="#d42424" stroke-width="1.3"/>
<line x1="253.98" y1="821.40" x2="253.98" y2="804.80" stroke="#f09c40" stroke-width="1.3"/>
<line x1="263.05" y1="767.20" x2="263.05" y2="751.10" stroke="#d42424" stroke-width="1.3"/>
<line x1="263.05" y1="821.40" x2="263.05" y2="810.90" stroke="#f09c40" stroke-width="1.3"/>
<line x1="272.12" y1="767.20" x2="272.12" y2="751.10" stroke="#d42424" stroke-width="1.3"/>
<line x1="272.12" y1="821.40" x2="272.12" y2="811.00" stroke="#f09c40" stroke-width="1.3"/>
<line x1="281.19" y1="767.20" x2="281.19" y2="751.10" stroke="#d42424" stroke-width="1.3"/>
<line x1="281.19" y1="821.40" x2="281.19" y2="805.80" stroke="#f09c40" stroke-width="1.3"/>
<line x1="290.26" y1="767.20" x2="290.26" y2="751.80" stroke="#d42424" stroke-width="1.3"/>
<line x1="290.26" y1="821.40" x2="290.26" y2="795.80" stroke="#f09c40" stroke-width="1.3"/>
<line x1="299.33" y1="767.20" x2="299.33" y2="752.10" stroke="#d42424" stroke-width="1.3"/>
<line x1="299.33" y1="821.40" x2="299.33" y2="826.00" stroke="#f09c40" stroke-width="1.3"/>
<line x1="308.40" y1="767.20" x2="308.40" y2="752.10" stroke="#d42424" stroke-width="1.3"/>
<line x1="308.40" y1="821.40" x2="308.40" y2="813.20" stroke="#f09c40" stroke-width="1.3"/>
<line x1="317.47" y1="767.20" x2="317.47" y2="752.10" stroke="#d42424" stroke-width="1.3"/>
<line x1="317.47" y1="821.40" x2="317.47" y2="805.20" stroke="#f09c40" stroke-width="1.3"/>
<line x1="326.54" y1="767.20" x2="326.54" y2="752.10" stroke="#d42424" stroke-width="1.3"/>
<line x1="326.54" y1="821.40" x2="326.54" y2="808.50" stroke="#f09c40" stroke-width="1.3"/>
<line x1="335.61" y1="767.20" x2="335.61" y2="752.40" stroke="#d42424" stroke-width="1.3"/>
<line x1="335.61" y1="821.40" x2="335.61" y2="815.30" stroke="#f09c40" stroke-width="1.3"/>
<line x1="344.68" y1="767.20" x2="344.68" y2="752.40" stroke="#d42424" stroke-width="1.3"/>
<line x1="344.68" y1="821.40" x2="344.68" y2="817.60" stroke="#f09c40" stroke-width="1.3"/>
<line x1="353.75" y1="767.20" x2="353.75" y2="752.80" stroke="#d42424" stroke-width="1.3"/>
<line x1="353.75" y1="821.40" x2="353.75" y2="815.30" stroke="#f09c40" stroke-width="1.3"/>
<line x1="362.82" y1="767.20" x2="362.82" y2="753.10" stroke="#d42424" stroke-width="1.3"/>
<line x1="362.82" y1="821.40" x2="362.82" y2="812.90" stroke="#f09c40" stroke-width="1.3"/>
<line x1="371.89" y1="767.20" x2="371.89" y2="754.50" stroke="#d42424" stroke-width="1.3"/>
<line x1="371.89" y1="821.40" x2="371.89" y2="810.90" stroke="#f09c40" stroke-width="1.3"/>
<line x1="380.96" y1="767.20" x2="380.96" y2="754.50" stroke="#d42424" stroke-width="1.3"/>
<line x1="380.96" y1="821.40" x2="380.96" y2="818.00" stroke="#f09c40" stroke-width="1.3"/>
<line x1="390.03" y1="767.20" x2="390.03" y2="754.80" stroke="#d42424" stroke-width="1.3"/>
<line x1="390.03" y1="821.40" x2="390.03" y2="816.30" stroke="#f09c40" stroke-width="1.3"/>
<line x1="399.10" y1="767.20" x2="399.10" y2="755.10" stroke="#d42424" stroke-width="1.3"/>
<line x1="399.10" y1="821.40" x2="399.10" y2="816.90" stroke="#f09c40" stroke-width="1.3"/>
<line x1="408.17" y1="767.20" x2="408.17" y2="755.10" stroke="#d42424" stroke-width="1.3"/>
<line x1="408.17" y1="821.40" x2="408.17" y2="808.20" stroke="#f09c40" stroke-width="1.3"/>
<line x1="417.24" y1="767.20" x2="417.24" y2="756.50" stroke="#d42424" stroke-width="1.3"/>
<line x1="417.24" y1="821.40" x2="417.24" y2="813.90" stroke="#f09c40" stroke-width="1.3"/>
<line x1="426.31" y1="767.20" x2="426.31" y2="756.50" stroke="#d42424" stroke-width="1.3"/>
<line x1="426.31" y1="821.40" x2="426.31" y2="812.60" stroke="#f09c40" stroke-width="1.3"/>
<line x1="435.38" y1="767.20" x2="435.38" y2="756.80" stroke="#d42424" stroke-width="1.3"/>
<line x1="435.38" y1="821.40" x2="435.38" y2="817.60" stroke="#f09c40" stroke-width="1.3"/>
<line x1="444.45" y1="767.20" x2="444.45" y2="757.20" stroke="#d42424" stroke-width="1.3"/>
<line x1="444.45" y1="821.40" x2="444.45" y2="818.30" stroke="#f09c40" stroke-width="1.3"/>
<line x1="453.52" y1="767.20" x2="453.52" y2="758.20" stroke="#d42424" stroke-width="1.3"/>
<line x1="453.52" y1="821.40" x2="453.52" y2="815.90" stroke="#f09c40" stroke-width="1.3"/>
<line x1="462.59" y1="767.20" x2="462.59" y2="758.50" stroke="#d42424" stroke-width="1.3"/>
<line x1="462.59" y1="821.40" x2="462.59" y2="809.20" stroke="#f09c40" stroke-width="1.3"/>
<line x1="471.66" y1="767.20" x2="471.66" y2="758.50" stroke="#d42424" stroke-width="1.3"/>
<line x1="471.66" y1="821.40" x2="471.66" y2="816.90" stroke="#f09c40" stroke-width="1.3"/>
<line x1="480.73" y1="767.20" x2="480.73" y2="758.50" stroke="#d42424" stroke-width="1.3"/>
<line x1="480.73" y1="821.40" x2="480.73" y2="815.90" stroke="#f09c40" stroke-width="1.3"/>
<line x1="489.80" y1="767.20" x2="489.80" y2="758.50" stroke="#d42424" stroke-width="1.3"/>
<line x1="489.80" y1="821.40" x2="489.80" y2="818.00" stroke="#f09c40" stroke-width="1.3"/>
<line x1="498.87" y1="767.20" x2="498.87" y2="758.80" stroke="#d42424" stroke-width="1.3"/>
<line x1="498.87" y1="821.40" x2="498.87" y2="815.60" stroke="#f09c40" stroke-width="1.3"/>
<line x1="507.94" y1="767.20" x2="507.94" y2="759.80" stroke="#d42424" stroke-width="1.3"/>
<line x1="507.94" y1="821.40" x2="507.94" y2="813.20" stroke="#f09c40" stroke-width="1.3"/>
<line x1="517.01" y1="767.20" x2="517.01" y2="761.50" stroke="#d42424" stroke-width="1.3"/>
<line x1="517.01" y1="821.40" x2="517.01" y2="815.90" stroke="#f09c40" stroke-width="1.3"/>
<line x1="526.08" y1="767.20" x2="526.08" y2="761.80" stroke="#d42424" stroke-width="1.3"/>
<line x1="526.08" y1="821.40" x2="526.08" y2="813.20" stroke="#f09c40" stroke-width="1.3"/>
<line x1="535.15" y1="767.20" x2="535.15" y2="763.20" stroke="#d42424" stroke-width="1.3"/>
<line x1="535.15" y1="821.40" x2="535.15" y2="814.60" stroke="#f09c40" stroke-width="1.3"/>
<line x1="544.22" y1="767.20" x2="544.22" y2="765.90" stroke="#d42424" stroke-width="1.3"/>
<line x1="544.22" y1="821.40" x2="544.22" y2="816.90" stroke="#f09c40" stroke-width="1.3"/>
<circle cx="36.30" cy="712.80" r="2.25" fill="#d42127" stroke="#000" stroke-width="1.25"/>
<circle cx="36.30" cy="790.10" r="2.25" fill="#f39c3a" stroke="#000" stroke-width="1.25"/>
<text x="38.56" y="832.70" font-size="6.3" text-anchor="end" fill="#000" stroke="#000" stroke-width="0.1" transform="rotate(-90 38.56 832.70)">RSAD2</text>
<circle cx="45.37" cy="712.80" r="2.25" fill="#d42127" stroke="#000" stroke-width="1.25"/>
<circle cx="45.37" cy="794.70" r="2.25" fill="#f39c3a" stroke="#000" stroke-width="1.25"/>
<text x="47.63" y="832.70" font-size="6.3" text-anchor="end" fill="#000" stroke="#000" stroke-width="0.1" transform="rotate(-90 47.63 832.70)">OAS1</text>
<circle cx="54.44" cy="713.70" r="2.25" fill="#e0e0e0" stroke="#000" stroke-width="1.25"/>
<circle cx="54.44" cy="797.30" r="2.25" fill="#f39c3a" stroke="#000" stroke-width="1.25"/>
<text x="56.70" y="832.70" font-size="6.3" text-anchor="end" fill="#000" stroke="#000" stroke-width="0.1" transform="rotate(-90 56.70 832.70)">BST2</text>
<circle cx="63.51" cy="716.30" r="2.25" fill="#d42127" stroke="#000" stroke-width="1.25"/>
<circle cx="63.51" cy="791.90" r="2.25" fill="#f39c3a" stroke="#000" stroke-width="1.25"/>
<text x="65.77" y="832.70" font-size="6.3" text-anchor="end" fill="#000" stroke="#000" stroke-width="0.1" transform="rotate(-90 65.77 832.70)">OASL</text>
<circle cx="72.58" cy="717.50" r="2.25" fill="#d42127" stroke="#000" stroke-width="1.25"/>
<circle cx="72.58" cy="807.30" r="2.25" fill="#f39c3a" stroke="#000" stroke-width="1.25"/>
<text x="74.84" y="832.70" font-size="6.3" text-anchor="end" fill="#000" stroke="#000" stroke-width="0.1" transform="rotate(-90 74.84 832.70)">MX2</text>
<circle cx="81.65" cy="717.50" r="2.25" fill="#d42127" stroke="#000" stroke-width="1.25"/>
<circle cx="81.65" cy="807.00" r="2.25" fill="#f39c3a" stroke="#000" stroke-width="1.25"/>
<text x="83.91" y="832.70" font-size="6.3" text-anchor="end" fill="#000" stroke="#000" stroke-width="0.1" transform="rotate(-90 83.91 832.70)">OAS2</text>
<circle cx="90.72" cy="718.00" r="2.25" fill="#d42127" stroke="#000" stroke-width="1.25"/>
<circle cx="90.72" cy="786.30" r="2.25" fill="#f39c3a" stroke="#000" stroke-width="1.25"/>
<text x="92.98" y="832.70" font-size="6.3" text-anchor="end" fill="#000" stroke="#000" stroke-width="0.1" transform="rotate(-90 92.98 832.70)">IFIT2</text>
<circle cx="99.79" cy="719.40" r="2.25" fill="#d42127" stroke="#000" stroke-width="1.25"/>
<circle cx="99.79" cy="806.40" r="2.25" fill="#f39c3a" stroke="#000" stroke-width="1.25"/>
<text x="102.05" y="832.70" font-size="6.3" text-anchor="end" fill="#000" stroke="#000" stroke-width="0.1" transform="rotate(-90 102.05 832.70)">MX1</text>
<circle cx="108.86" cy="724.70" r="2.25" fill="#d42127" stroke="#000" stroke-width="1.25"/>
<circle cx="108.86" cy="800.30" r="2.25" fill="#f39c3a" stroke="#000" stroke-width="1.25"/>
<text x="111.12" y="832.70" font-size="6.3" text-anchor="end" fill="#000" stroke="#000" stroke-width="0.1" transform="rotate(-90 111.12 832.70)">IFIT1</text>
<circle cx="117.93" cy="729.40" r="2.25" fill="#d42127" stroke="#000" stroke-width="1.25"/>
<circle cx="117.93" cy="797.70" r="2.25" fill="#f39c3a" stroke="#000" stroke-width="1.25"/>
<text x="120.19" y="832.70" font-size="6.3" text-anchor="end" fill="#000" stroke="#000" stroke-width="0.1" transform="rotate(-90 120.19 832.70)">IFIT3</text>
<circle cx="127.00" cy="732.60" r="2.25" fill="#d42127" stroke="#000" stroke-width="1.25"/>
<circle cx="127.00" cy="778.10" r="2.25" fill="#f39c3a" stroke="#000" stroke-width="1.25"/>
<text x="129.26" y="832.70" font-size="6.3" text-anchor="end" fill="#000" stroke="#000" stroke-width="0.1" transform="rotate(-90 129.26 832.70)">IFIH1</text>
<circle cx="136.07" cy="732.90" r="2.25" fill="#d42127" stroke="#000" stroke-width="1.25"/>
<circle cx="136.07" cy="801.60" r="2.25" fill="#f39c3a" stroke="#000" stroke-width="1.25"/>
<text x="138.33" y="832.70" font-size="6.3" text-anchor="end" fill="#000" stroke="#000" stroke-width="0.1" transform="rotate(-90 138.33 832.70)">HERC6</text>
<circle cx="145.14" cy="733.20" r="2.25" fill="#d42127" stroke="#000" stroke-width="1.25"/>
<circle cx="145.14" cy="807.50" r="2.25" fill="#f39c3a" stroke="#000" stroke-width="1.25"/>
<text x="147.40" y="832.70" font-size="6.3" text-anchor="end" fill="#000" stroke="#000" stroke-width="0.1" transform="rotate(-90 147.40 832.70)">IFI6</text>
<circle cx="154.21" cy="734.70" r="2.25" fill="#d42127" stroke="#000" stroke-width="1.25"/>
<circle cx="154.21" cy="812.40" r="2.25" fill="#f39c3a" stroke="#000" stroke-width="1.25"/>
<text x="156.47" y="832.70" font-size="6.3" text-anchor="end" fill="#000" stroke="#000" stroke-width="0.1" transform="rotate(-90 156.47 832.70)">ISG15</text>
<circle cx="163.28" cy="735.40" r="2.25" fill="#d42127" stroke="#000" stroke-width="1.25"/>
<circle cx="163.28" cy="812.40" r="2.25" fill="#f39c3a" stroke="#000" stroke-width="1.25"/>
<text x="165.54" y="832.70" font-size="6.3" text-anchor="end" fill="#000" stroke="#000" stroke-width="0.1" transform="rotate(-90 165.54 832.70)">OAS3</text>
<circle cx="172.35" cy="738.20" r="2.25" fill="#d42127" stroke="#000" stroke-width="1.25"/>
<circle cx="172.35" cy="799.10" r="2.25" fill="#f39c3a" stroke="#000" stroke-width="1.25"/>
<text x="174.61" y="832.70" font-size="6.3" text-anchor="end" fill="#000" stroke="#000" stroke-width="0.1" transform="rotate(-90 174.61 832.70)">HELZ2</text>
<circle cx="181.42" cy="742.00" r="2.25" fill="#d42127" stroke="#000" stroke-width="1.25"/>
<circle cx="181.42" cy="808.20" r="2.25" fill="#f39c3a" stroke="#000" stroke-width="1.25"/>
<text x="183.68" y="832.70" font-size="6.3" text-anchor="end" fill="#000" stroke="#000" stroke-width="0.1" transform="rotate(-90 183.68 832.70)">PARP12</text>
<circle cx="190.49" cy="742.40" r="2.25" fill="#d42127" stroke="#000" stroke-width="1.25"/>
<circle cx="190.49" cy="810.30" r="2.25" fill="#f39c3a" stroke="#000" stroke-width="1.25"/>
<text x="192.75" y="832.70" font-size="6.3" text-anchor="end" fill="#000" stroke="#000" stroke-width="0.1" transform="rotate(-90 192.75 832.70)">PLSCR1</text>
<circle cx="199.56" cy="742.80" r="2.25" fill="#d42127" stroke="#000" stroke-width="1.25"/>
<circle cx="199.56" cy="806.80" r="2.25" fill="#f39c3a" stroke="#000" stroke-width="1.25"/>
<text x="201.82" y="832.70" font-size="6.3" text-anchor="end" fill="#000" stroke="#000" stroke-width="0.1" transform="rotate(-90 201.82 832.70)">IFI35</text>
<circle cx="208.63" cy="746.90" r="2.25" fill="#d42127" stroke="#000" stroke-width="1.25"/>
<circle cx="208.63" cy="813.10" r="2.25" fill="#f39c3a" stroke="#000" stroke-width="1.25"/>
<text x="210.89" y="832.70" font-size="6.3" text-anchor="end" fill="#000" stroke="#000" stroke-width="0.1" transform="rotate(-90 210.89 832.70)">TYMP</text>
<circle cx="217.70" cy="747.20" r="2.25" fill="#d42127" stroke="#000" stroke-width="1.25"/>
<circle cx="217.70" cy="805.40" r="2.25" fill="#f39c3a" stroke="#000" stroke-width="1.25"/>
<text x="219.96" y="832.70" font-size="6.3" text-anchor="end" fill="#000" stroke="#000" stroke-width="0.1" transform="rotate(-90 219.96 832.70)">DTX3L</text>
<circle cx="226.77" cy="749.40" r="2.25" fill="#d42127" stroke="#000" stroke-width="1.25"/>
<circle cx="226.77" cy="815.20" r="2.25" fill="#f39c3a" stroke="#000" stroke-width="1.25"/>
<text x="229.03" y="832.70" font-size="6.3" text-anchor="end" fill="#000" stroke="#000" stroke-width="0.1" transform="rotate(-90 229.03 832.70)">PSMB9</text>
<circle cx="235.84" cy="749.80" r="2.25" fill="#d42127" stroke="#000" stroke-width="1.25"/>
<circle cx="235.84" cy="811.80" r="2.25" fill="#f39c3a" stroke="#000" stroke-width="1.25"/>
<text x="238.10" y="832.70" font-size="6.3" text-anchor="end" fill="#000" stroke="#000" stroke-width="0.1" transform="rotate(-90 238.10 832.70)">TRIM21</text>
<circle cx="244.91" cy="750.40" r="2.25" fill="#d42127" stroke="#000" stroke-width="1.25"/>
<circle cx="244.91" cy="816.90" r="2.25" fill="#f39c3a" stroke="#000" stroke-width="1.25"/>
<text x="247.17" y="832.70" font-size="6.3" text-anchor="end" fill="#000" stroke="#000" stroke-width="0.1" transform="rotate(-90 247.17 832.70)">TAP2</text>
<circle cx="253.98" cy="750.40" r="2.25" fill="#d42127" stroke="#000" stroke-width="1.25"/>
<circle cx="253.98" cy="804.80" r="2.25" fill="#f39c3a" stroke="#000" stroke-width="1.25"/>
<text x="256.24" y="832.70" font-size="6.3" text-anchor="end" fill="#000" stroke="#000" stroke-width="0.1" transform="rotate(-90 256.24 832.70)">SP110</text>
<circle cx="263.05" cy="751.10" r="2.25" fill="#e0e0e0" stroke="#000" stroke-width="1.25"/>
<circle cx="263.05" cy="810.90" r="2.25" fill="#f39c3a" stroke="#000" stroke-width="1.25"/>
<text x="265.31" y="832.70" font-size="6.3" text-anchor="end" fill="#000" stroke="#000" stroke-width="0.1" transform="rotate(-90 265.31 832.70)">TRIM14</text>
<circle cx="272.12" cy="751.10" r="2.25" fill="#d42127" stroke="#000" stroke-width="1.25"/>
<circle cx="272.12" cy="811.00" r="2.25" fill="#f39c3a" stroke="#000" stroke-width="1.25"/>
<text x="274.38" y="832.70" font-size="6.3" text-anchor="end" fill="#000" stroke="#000" stroke-width="0.1" transform="rotate(-90 274.38 832.70)">UBE2L6</text>
<circle cx="281.19" cy="751.10" r="2.25" fill="#d42127" stroke="#000" stroke-width="1.25"/>
<circle cx="281.19" cy="805.80" r="2.25" fill="#f39c3a" stroke="#000" stroke-width="1.25"/>
<text x="283.45" y="832.70" font-size="6.3" text-anchor="end" fill="#000" stroke="#000" stroke-width="0.1" transform="rotate(-90 283.45 832.70)">CD274</text>
<circle cx="290.26" cy="751.80" r="2.25" fill="#e0e0e0" stroke="#000" stroke-width="1.25"/>
<circle cx="290.26" cy="795.80" r="2.25" fill="#f39c3a" stroke="#000" stroke-width="1.25"/>
<text x="292.52" y="832.70" font-size="6.3" text-anchor="end" fill="#000" stroke="#000" stroke-width="0.1" transform="rotate(-90 292.52 832.70)">SECTM1</text>
<circle cx="299.33" cy="752.10" r="2.25" fill="#d42127" stroke="#000" stroke-width="1.25"/>
<circle cx="299.33" cy="826.00" r="2.25" fill="#e0e0e0" stroke="#000" stroke-width="1.25"/>
<text x="301.59" y="832.70" font-size="6.3" text-anchor="end" fill="#000" stroke="#000" stroke-width="0.1" transform="rotate(-90 301.59 832.70)">DDX60</text>
<circle cx="308.40" cy="752.10" r="2.25" fill="#e0e0e0" stroke="#000" stroke-width="1.25"/>
<circle cx="308.40" cy="813.20" r="2.25" fill="#f39c3a" stroke="#000" stroke-width="1.25"/>
<text x="310.66" y="832.70" font-size="6.3" text-anchor="end" fill="#000" stroke="#000" stroke-width="0.1" transform="rotate(-90 310.66 832.70)">RNF213</text>
<circle cx="317.47" cy="752.10" r="2.25" fill="#e0e0e0" stroke="#000" stroke-width="1.25"/>
<circle cx="317.47" cy="805.20" r="2.25" fill="#f39c3a" stroke="#000" stroke-width="1.25"/>
<text x="319.73" y="832.70" font-size="6.3" text-anchor="end" fill="#000" stroke="#000" stroke-width="0.1" transform="rotate(-90 319.73 832.70)">NMI</text>
<circle cx="326.54" cy="752.10" r="2.25" fill="#d42127" stroke="#000" stroke-width="1.25"/>
<circle cx="326.54" cy="808.50" r="2.25" fill="#e0e0e0" stroke="#000" stroke-width="1.25"/>
<text x="328.80" y="832.70" font-size="6.3" text-anchor="end" fill="#000" stroke="#000" stroke-width="0.1" transform="rotate(-90 328.80 832.70)">MYD88</text>
<circle cx="335.61" cy="752.40" r="2.25" fill="#d42127" stroke="#000" stroke-width="1.25"/>
<circle cx="335.61" cy="815.30" r="2.25" fill="#f39c3a" stroke="#000" stroke-width="1.25"/>
<text x="337.87" y="832.70" font-size="6.3" text-anchor="end" fill="#000" stroke="#000" stroke-width="0.1" transform="rotate(-90 337.87 832.70)">APOL2</text>
<circle cx="344.68" cy="752.40" r="2.25" fill="#e0e0e0" stroke="#000" stroke-width="1.25"/>
<circle cx="344.68" cy="817.60" r="2.25" fill="#f39c3a" stroke="#000" stroke-width="1.25"/>
<text x="346.94" y="832.70" font-size="6.3" text-anchor="end" fill="#000" stroke="#000" stroke-width="0.1" transform="rotate(-90 346.94 832.70)">SAMHD1</text>
<circle cx="353.75" cy="752.80" r="2.25" fill="#d42127" stroke="#000" stroke-width="1.25"/>
<circle cx="353.75" cy="815.30" r="2.25" fill="#f39c3a" stroke="#000" stroke-width="1.25"/>
<text x="356.01" y="832.70" font-size="6.3" text-anchor="end" fill="#000" stroke="#000" stroke-width="0.1" transform="rotate(-90 356.01 832.70)">TAP1</text>
<circle cx="362.82" cy="753.10" r="2.25" fill="#d42127" stroke="#000" stroke-width="1.25"/>
<circle cx="362.82" cy="812.90" r="2.25" fill="#f39c3a" stroke="#000" stroke-width="1.25"/>
<text x="365.08" y="832.70" font-size="6.3" text-anchor="end" fill="#000" stroke="#000" stroke-width="0.1" transform="rotate(-90 365.08 832.70)">STAT1</text>
<circle cx="371.89" cy="754.50" r="2.25" fill="#e0e0e0" stroke="#000" stroke-width="1.25"/>
<circle cx="371.89" cy="810.90" r="2.25" fill="#f39c3a" stroke="#000" stroke-width="1.25"/>
<text x="374.15" y="832.70" font-size="6.3" text-anchor="end" fill="#000" stroke="#000" stroke-width="0.1" transform="rotate(-90 374.15 832.70)">GBP1</text>
<circle cx="380.96" cy="754.50" r="2.25" fill="#d42127" stroke="#000" stroke-width="1.25"/>
<circle cx="380.96" cy="818.00" r="2.25" fill="#e0e0e0" stroke="#000" stroke-width="1.25"/>
<text x="383.22" y="832.70" font-size="6.3" text-anchor="end" fill="#000" stroke="#000" stroke-width="0.1" transform="rotate(-90 383.22 832.70)">TRIM25</text>
<circle cx="390.03" cy="754.80" r="2.25" fill="#e0e0e0" stroke="#000" stroke-width="1.25"/>
<circle cx="390.03" cy="816.30" r="2.25" fill="#f39c3a" stroke="#000" stroke-width="1.25"/>
<text x="392.29" y="832.70" font-size="6.3" text-anchor="end" fill="#000" stroke="#000" stroke-width="0.1" transform="rotate(-90 392.29 832.70)">PNPT1</text>
<circle cx="399.10" cy="755.10" r="2.25" fill="#e0e0e0" stroke="#000" stroke-width="1.25"/>
<circle cx="399.10" cy="816.90" r="2.25" fill="#f39c3a" stroke="#000" stroke-width="1.25"/>
<text x="401.36" y="832.70" font-size="6.3" text-anchor="end" fill="#000" stroke="#000" stroke-width="0.1" transform="rotate(-90 401.36 832.70)">LAP3</text>
<circle cx="408.17" cy="755.10" r="2.25" fill="#e0e0e0" stroke="#000" stroke-width="1.25"/>
<circle cx="408.17" cy="808.20" r="2.25" fill="#f39c3a" stroke="#000" stroke-width="1.25"/>
<text x="410.43" y="832.70" font-size="6.3" text-anchor="end" fill="#000" stroke="#000" stroke-width="0.1" transform="rotate(-90 410.43 832.70)">PLEKHA4</text>
<circle cx="417.24" cy="756.50" r="2.25" fill="#d42127" stroke="#000" stroke-width="1.25"/>
<circle cx="417.24" cy="813.90" r="2.25" fill="#f39c3a" stroke="#000" stroke-width="1.25"/>
<text x="419.50" y="832.70" font-size="6.3" text-anchor="end" fill="#000" stroke="#000" stroke-width="0.1" transform="rotate(-90 419.50 832.70)">OGFR</text>
<circle cx="426.31" cy="756.50" r="2.25" fill="#d42127" stroke="#000" stroke-width="1.25"/>
<circle cx="426.31" cy="812.60" r="2.25" fill="#f39c3a" stroke="#000" stroke-width="1.25"/>
<text x="428.57" y="832.70" font-size="6.3" text-anchor="end" fill="#000" stroke="#000" stroke-width="0.1" transform="rotate(-90 428.57 832.70)">IFIT5</text>
<circle cx="435.38" cy="756.80" r="2.25" fill="#e0e0e0" stroke="#000" stroke-width="1.25"/>
<circle cx="435.38" cy="817.60" r="2.25" fill="#f39c3a" stroke="#000" stroke-width="1.25"/>
<text x="437.64" y="832.70" font-size="6.3" text-anchor="end" fill="#000" stroke="#000" stroke-width="0.1" transform="rotate(-90 437.64 832.70)">PML</text>
<circle cx="444.45" cy="757.20" r="2.25" fill="#e0e0e0" stroke="#000" stroke-width="1.25"/>
<circle cx="444.45" cy="818.30" r="2.25" fill="#f39c3a" stroke="#000" stroke-width="1.25"/>
<text x="446.71" y="832.70" font-size="6.3" text-anchor="end" fill="#000" stroke="#000" stroke-width="0.1" transform="rotate(-90 446.71 832.70)">NAMPT</text>
<circle cx="453.52" cy="758.20" r="2.25" fill="#d42127" stroke="#000" stroke-width="1.25"/>
<circle cx="453.52" cy="815.90" r="2.25" fill="#f39c3a" stroke="#000" stroke-width="1.25"/>
<text x="455.78" y="832.70" font-size="6.3" text-anchor="end" fill="#000" stroke="#000" stroke-width="0.1" transform="rotate(-90 455.78 832.70)">ZC3HAV1</text>
<circle cx="462.59" cy="758.50" r="2.25" fill="#e0e0e0" stroke="#000" stroke-width="1.25"/>
<circle cx="462.59" cy="809.20" r="2.25" fill="#f39c3a" stroke="#000" stroke-width="1.25"/>
<text x="464.85" y="832.70" font-size="6.3" text-anchor="end" fill="#000" stroke="#000" stroke-width="0.1" transform="rotate(-90 464.85 832.70)">STAT2</text>
<circle cx="471.66" cy="758.50" r="2.25" fill="#e0e0e0" stroke="#000" stroke-width="1.25"/>
<circle cx="471.66" cy="816.90" r="2.25" fill="#f39c3a" stroke="#000" stroke-width="1.25"/>
<text x="473.92" y="832.70" font-size="6.3" text-anchor="end" fill="#000" stroke="#000" stroke-width="0.1" transform="rotate(-90 473.92 832.70)">IFI16</text>
<circle cx="480.73" cy="758.50" r="2.25" fill="#d42127" stroke="#000" stroke-width="1.25"/>
<circle cx="480.73" cy="815.90" r="2.25" fill="#f39c3a" stroke="#000" stroke-width="1.25"/>
<text x="482.99" y="832.70" font-size="6.3" text-anchor="end" fill="#000" stroke="#000" stroke-width="0.1" transform="rotate(-90 482.99 832.70)">EIF2AK2</text>
<circle cx="489.80" cy="758.50" r="2.25" fill="#d42127" stroke="#000" stroke-width="1.25"/>
<circle cx="489.80" cy="818.00" r="2.25" fill="#e0e0e0" stroke="#000" stroke-width="1.25"/>
<text x="492.06" y="832.70" font-size="6.3" text-anchor="end" fill="#000" stroke="#000" stroke-width="0.1" transform="rotate(-90 492.06 832.70)">JUNB</text>
<circle cx="498.87" cy="758.80" r="2.25" fill="#d42127" stroke="#000" stroke-width="1.25"/>
<circle cx="498.87" cy="815.60" r="2.25" fill="#f39c3a" stroke="#000" stroke-width="1.25"/>
<text x="501.13" y="832.70" font-size="6.3" text-anchor="end" fill="#000" stroke="#000" stroke-width="0.1" transform="rotate(-90 501.13 832.70)">TRIM5</text>
<circle cx="507.94" cy="759.80" r="2.25" fill="#e0e0e0" stroke="#000" stroke-width="1.25"/>
<circle cx="507.94" cy="813.20" r="2.25" fill="#f39c3a" stroke="#000" stroke-width="1.25"/>
<text x="510.20" y="832.70" font-size="6.3" text-anchor="end" fill="#000" stroke="#000" stroke-width="0.1" transform="rotate(-90 510.20 832.70)">TDRD7</text>
<circle cx="517.01" cy="761.50" r="2.25" fill="#e0e0e0" stroke="#000" stroke-width="1.25"/>
<circle cx="517.01" cy="815.90" r="2.25" fill="#f39c3a" stroke="#000" stroke-width="1.25"/>
<text x="519.27" y="832.70" font-size="6.3" text-anchor="end" fill="#000" stroke="#000" stroke-width="0.1" transform="rotate(-90 519.27 832.70)">GTPBP1</text>
<circle cx="526.08" cy="761.80" r="2.25" fill="#e0e0e0" stroke="#000" stroke-width="1.25"/>
<circle cx="526.08" cy="813.20" r="2.25" fill="#f39c3a" stroke="#000" stroke-width="1.25"/>
<text x="528.34" y="832.70" font-size="6.3" text-anchor="end" fill="#000" stroke="#000" stroke-width="0.1" transform="rotate(-90 528.34 832.70)">HLA−E</text>
<circle cx="535.15" cy="763.20" r="2.25" fill="#e0e0e0" stroke="#000" stroke-width="1.25"/>
<circle cx="535.15" cy="814.60" r="2.25" fill="#f39c3a" stroke="#000" stroke-width="1.25"/>
<text x="537.41" y="832.70" font-size="6.3" text-anchor="end" fill="#000" stroke="#000" stroke-width="0.1" transform="rotate(-90 537.41 832.70)">RNF114</text>
<circle cx="544.22" cy="765.90" r="2.25" fill="#e0e0e0" stroke="#000" stroke-width="1.25"/>
<circle cx="544.22" cy="816.90" r="2.25" fill="#f39c3a" stroke="#000" stroke-width="1.25"/>
<text x="546.48" y="832.70" font-size="6.3" text-anchor="end" fill="#000" stroke="#000" stroke-width="0.1" transform="rotate(-90 546.48 832.70)">MAFF</text>
</svg></body></html>
